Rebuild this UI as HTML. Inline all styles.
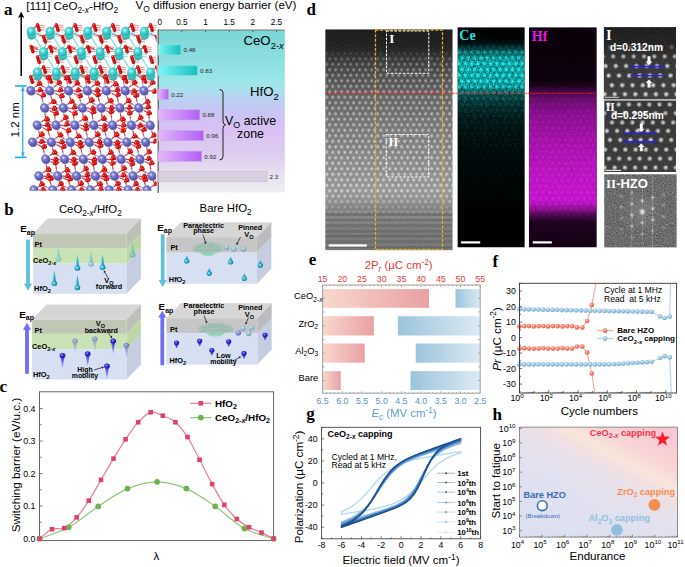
<!DOCTYPE html>
<html><head><meta charset="utf-8"><title>Figure</title>
<style>
html,body{margin:0;padding:0;background:#fff;width:685px;height:567px;overflow:hidden;}
svg{display:block;font-family:"Liberation Sans",sans-serif;}
</style></head><body>
<svg width="685" height="567" viewBox="0 0 685 567">
<defs>
<radialGradient id="gCe" cx="0.4" cy="0.38" r="0.65"><stop offset="0" stop-color="#c8ffff"/><stop offset="0.35" stop-color="#50dcdc"/><stop offset="1" stop-color="#20a8a8"/></radialGradient>
<radialGradient id="gHf" cx="0.4" cy="0.38" r="0.65"><stop offset="0" stop-color="#e8e8ff"/><stop offset="0.35" stop-color="#7c7cd0"/><stop offset="1" stop-color="#5050a8"/></radialGradient>
<radialGradient id="gO" cx="0.4" cy="0.38" r="0.65"><stop offset="0" stop-color="#ff9090"/><stop offset="0.4" stop-color="#e01010"/><stop offset="1" stop-color="#a00000"/></radialGradient>
<clipPath id="clipA"><rect x="25" y="18" width="131.5" height="172.6"/></clipPath>
<linearGradient id="gBarBg" x1="0" y1="0" x2="0" y2="1">
 <stop offset="0" stop-color="#7ad6d6"/>
 <stop offset="0.17" stop-color="#8cdede"/>
 <stop offset="0.3" stop-color="#98e6e8"/>
 <stop offset="0.36" stop-color="#a8e2ec"/>
 <stop offset="0.42" stop-color="#b8d2f2"/>
 <stop offset="0.5" stop-color="#c8c6f4"/>
 <stop offset="0.6" stop-color="#d8c0f4"/>
 <stop offset="0.78" stop-color="#e0cef0"/>
 <stop offset="0.9" stop-color="#e8e2ee"/>
 <stop offset="1" stop-color="#eeeef0"/>
</linearGradient>
<linearGradient id="gCyanBar" x1="0" y1="0" x2="1" y2="0"><stop offset="0" stop-color="#7ff4f4"/><stop offset="1" stop-color="#16c0c0"/></linearGradient>
<linearGradient id="gPurBar" x1="0" y1="0" x2="1" y2="0"><stop offset="0" stop-color="#e4b8f8"/><stop offset="1" stop-color="#b060f4"/></linearGradient>

<radialGradient id="gPin" cx="0.4" cy="0.35" r="0.7"><stop offset="0" stop-color="#d0e8f0"/><stop offset="0.6" stop-color="#8ab8cc"/><stop offset="1" stop-color="#6a9ab0"/></radialGradient>
<radialGradient id="gPinB" cx="0.4" cy="0.35" r="0.7"><stop offset="0" stop-color="#c8c8f8"/><stop offset="0.6" stop-color="#8080e0"/><stop offset="1" stop-color="#6060c0"/></radialGradient>
<radialGradient id="gTealS" cx="0.4" cy="0.4" r="0.6"><stop offset="0" stop-color="#b8ffff"/><stop offset="0.45" stop-color="#30b8cc"/><stop offset="1" stop-color="#107890"/></radialGradient>
<radialGradient id="gBlueS" cx="0.4" cy="0.4" r="0.6"><stop offset="0" stop-color="#a8a8ff"/><stop offset="0.45" stop-color="#3030e0"/><stop offset="1" stop-color="#1010a0"/></radialGradient>
<linearGradient id="gTealC" x1="0" y1="0" x2="1" y2="0"><stop offset="0" stop-color="#80e0f0"/><stop offset="0.5" stop-color="#30b0d0"/><stop offset="1" stop-color="#2090b0"/></linearGradient>
<linearGradient id="gBlueC" x1="0" y1="0" x2="1" y2="0"><stop offset="0" stop-color="#9090ff"/><stop offset="0.5" stop-color="#4040f0"/><stop offset="1" stop-color="#2020c0"/></linearGradient>
<linearGradient id="gBlueC2" x1="0" y1="0" x2="0" y2="1"><stop offset="0" stop-color="#3030e0"/><stop offset="1" stop-color="#8080ff" stop-opacity="0.6"/></linearGradient>

<clipPath id="cStem"><rect x="325.2" y="29.3" width="127.5" height="221"/></clipPath>
<clipPath id="cCe"><rect x="457.4" y="27.2" width="67.4" height="220.3"/></clipPath>
<clipPath id="cHf"><rect x="528.9" y="27.2" width="67.9" height="220.3"/></clipPath>
<clipPath id="cI"><rect x="603.7" y="27.1" width="72.3" height="72.3"/></clipPath>
<clipPath id="cII"><rect x="604.2" y="100.6" width="71.8" height="71.4"/></clipPath>
<clipPath id="cFFT"><rect x="604.2" y="174.2" width="72.5" height="73.3"/></clipPath>
<radialGradient id="gDot"><stop offset="0" stop-color="#fff" stop-opacity="0.95"/><stop offset="0.45" stop-color="#fff" stop-opacity="0.55"/><stop offset="1" stop-color="#fff" stop-opacity="0"/></radialGradient>
<radialGradient id="gDotC"><stop offset="0" stop-color="#60ffff" stop-opacity="1"/><stop offset="0.5" stop-color="#20f0f0" stop-opacity="0.7"/><stop offset="1" stop-color="#00e0e0" stop-opacity="0"/></radialGradient>
<radialGradient id="gDotM"><stop offset="0" stop-color="#ff40ff" stop-opacity="1"/><stop offset="0.5" stop-color="#e020e0" stop-opacity="0.6"/><stop offset="1" stop-color="#c000c0" stop-opacity="0"/></radialGradient>
<pattern id="pStem" x="325.2" y="50.5" width="6.0" height="11.0" patternUnits="userSpaceOnUse">
 <circle cx="1.5" cy="2.75" r="2.2" fill="url(#gDot)"/><circle cx="4.5" cy="8.25" r="2.2" fill="url(#gDot)"/>
</pattern>
<pattern id="pCe" x="457.4" y="49" width="6.3" height="11.7" patternUnits="userSpaceOnUse">
 <circle cx="1.6" cy="2.9" r="2.6" fill="url(#gDotC)"/><circle cx="4.75" cy="8.75" r="2.6" fill="url(#gDotC)"/>
</pattern>
<pattern id="pHf" x="528.9" y="49" width="6.3" height="11.7" patternUnits="userSpaceOnUse">
 <circle cx="1.6" cy="2.9" r="2.6" fill="url(#gDotM)"/><circle cx="4.75" cy="8.75" r="2.6" fill="url(#gDotM)"/>
</pattern>
<linearGradient id="gStemBase" x1="0" y1="0" x2="0" y2="1">
 <stop offset="0" stop-color="#101010"/>
 <stop offset="0.071" stop-color="#141414"/>
 <stop offset="0.103" stop-color="#1e1e1e"/>
 <stop offset="0.139" stop-color="#303030"/>
 <stop offset="0.207" stop-color="#484848"/>
 <stop offset="0.298" stop-color="#606060"/>
 <stop offset="0.457" stop-color="#7a7a7a"/>
 <stop offset="0.615" stop-color="#8e8e8e"/>
 <stop offset="0.728" stop-color="#9c9c9c"/>
 <stop offset="0.774" stop-color="#959595"/>
 <stop offset="0.81" stop-color="#828282"/>
 <stop offset="0.864" stop-color="#767676"/>
 <stop offset="1" stop-color="#727272"/>
</linearGradient>
<linearGradient id="gStemDotMask" x1="0" y1="0" x2="0" y2="1">
 <stop offset="0" stop-color="#000"/>
 <stop offset="0.09" stop-color="#000"/>
 <stop offset="0.12" stop-color="#404040"/>
 <stop offset="0.16" stop-color="#808080"/>
 <stop offset="0.22" stop-color="#a6a6a6"/>
 <stop offset="0.4" stop-color="#bfbfbf"/>
 <stop offset="0.6" stop-color="#d9d9d9"/>
 <stop offset="0.73" stop-color="#e6e6e6"/>
 <stop offset="0.77" stop-color="#a0a0a0"/>
 <stop offset="0.81" stop-color="#505050"/>
 <stop offset="0.85" stop-color="#181818"/>
 <stop offset="0.88" stop-color="#000"/>
 <stop offset="1" stop-color="#000"/>
</linearGradient>
<mask id="mStemDots" maskUnits="userSpaceOnUse" x="325.2" y="29.3" width="127.5" height="221"><rect x="325.2" y="29.3" width="127.5" height="221" fill="url(#gStemDotMask)"/></mask>
<linearGradient id="gCeMask" x1="0" y1="0" x2="0" y2="1">
 <stop offset="0" stop-color="#000"/>
 <stop offset="0.056" stop-color="#080808"/>
 <stop offset="0.083" stop-color="#303030"/>
 <stop offset="0.11" stop-color="#999"/>
 <stop offset="0.138" stop-color="#e6e6e6"/>
 <stop offset="0.16" stop-color="#fff"/>
 <stop offset="0.26" stop-color="#fff"/>
 <stop offset="0.284" stop-color="#c0c0c0"/>
 <stop offset="0.306" stop-color="#777"/>
 <stop offset="0.352" stop-color="#444"/>
 <stop offset="0.42" stop-color="#222"/>
 <stop offset="0.556" stop-color="#0e0e0e"/>
 <stop offset="0.785" stop-color="#050505"/>
 <stop offset="0.83" stop-color="#000"/>
 <stop offset="1" stop-color="#000"/>
</linearGradient>
<linearGradient id="gCeLow" x1="0" y1="0" x2="0" y2="1"><stop offset="0" stop-color="#fff"/><stop offset="0.25" stop-color="#888"/><stop offset="0.5" stop-color="#444"/><stop offset="0.75" stop-color="#222"/><stop offset="1" stop-color="#000"/></linearGradient>
<mask id="mCeLow" maskUnits="userSpaceOnUse" x="457.4" y="90" width="67.4" height="130"><rect x="457.4" y="90" width="67.4" height="130" fill="url(#gCeLow)"/></mask>
<mask id="mCe" maskUnits="userSpaceOnUse" x="457.4" y="27.2" width="67.4" height="220.3"><rect x="457.4" y="27.2" width="67.4" height="220.3" fill="url(#gCeMask)"/></mask>
<linearGradient id="gHfMask" x1="0" y1="0" x2="0" y2="1">
 <stop offset="0" stop-color="#0c0c0c"/>
 <stop offset="0.238" stop-color="#101010"/>
 <stop offset="0.265" stop-color="#262626"/>
 <stop offset="0.298" stop-color="#606060"/>
 <stop offset="0.33" stop-color="#8c8c8c"/>
 <stop offset="0.4" stop-color="#b4b4b4"/>
 <stop offset="0.51" stop-color="#d4d4d4"/>
 <stop offset="0.65" stop-color="#f0f0f0"/>
 <stop offset="0.784" stop-color="#fff"/>
 <stop offset="0.82" stop-color="#c8c8c8"/>
 <stop offset="0.852" stop-color="#666"/>
 <stop offset="0.884" stop-color="#282828"/>
 <stop offset="1" stop-color="#161616"/>
</linearGradient>
<mask id="mHf" maskUnits="userSpaceOnUse" x="528.9" y="27.2" width="67.9" height="220.3"><rect x="528.9" y="27.2" width="67.9" height="220.3" fill="url(#gHfMask)"/></mask>
<filter id="fNoise" x="0" y="0" width="1" height="1" color-interpolation-filters="sRGB">
 <feTurbulence type="fractalNoise" baseFrequency="0.75" numOctaves="2" seed="4" result="n"/>
 <feColorMatrix in="n" type="matrix" values="0 0 0 0 0  0 0 0 0 0  0 0 0 0 0  1.8 0 0 0 -0.45" result="a"/>
 <feComposite in="SourceGraphic" in2="a" operator="in"/>
</filter>
<filter id="fSparse" x="0" y="0" width="1" height="1" color-interpolation-filters="sRGB">
 <feTurbulence type="fractalNoise" baseFrequency="0.9" numOctaves="1" seed="9" result="n"/>
 <feColorMatrix in="n" type="matrix" values="0 0 0 0 0  0 0 0 0 0  0 0 0 0 0  5 0 0 0 -2.9" result="a"/>
 <feComposite in="SourceGraphic" in2="a" operator="in"/>
</filter>
<filter id="fNoiseG" x="0" y="0" width="1" height="1" color-interpolation-filters="sRGB">
 <feTurbulence type="fractalNoise" baseFrequency="0.9" numOctaves="2" seed="7" result="n"/>
 <feColorMatrix in="n" type="matrix" values="1 0 0 0 0  1 0 0 0 0  1 0 0 0 0  0 0 0 0 1"/>
</filter>
<filter id="fBlur05"><feGaussianBlur stdDeviation="0.5"/></filter>
<filter id="fBlur1" x="-0.5" y="-0.5" width="2" height="2"><feGaussianBlur stdDeviation="0.9"/></filter>

<linearGradient id="gRedBar" x1="0" y1="0" x2="1" y2="0"><stop offset="0" stop-color="#f8d8cc"/><stop offset="1" stop-color="#e8a0a4"/></linearGradient>
<linearGradient id="gBlueBar" x1="0" y1="0" x2="1" y2="0"><stop offset="0" stop-color="#9cc4dc"/><stop offset="1" stop-color="#dceaf4"/></linearGradient>

<radialGradient id="gRC" cx="0.4" cy="0.35" r="0.65"><stop offset="0" stop-color="#ffd0c8"/><stop offset="0.5" stop-color="#f08070"/><stop offset="1" stop-color="#e06050"/></radialGradient>
<radialGradient id="gBC" cx="0.4" cy="0.35" r="0.65"><stop offset="0" stop-color="#e0f0fa"/><stop offset="0.5" stop-color="#98c4e0"/><stop offset="1" stop-color="#78acd0"/></radialGradient>

<linearGradient id="gH" gradientUnits="userSpaceOnUse" x1="519.5" y1="537.1" x2="602.7" y2="385.9">
 <stop offset="0" stop-color="#dae0f2"/>
 <stop offset="0.4" stop-color="#e1e1ef"/>
 <stop offset="0.55" stop-color="#e8e0ea"/>
 <stop offset="0.62" stop-color="#f1e0e2"/>
 <stop offset="0.68" stop-color="#f8e6da"/>
 <stop offset="0.75" stop-color="#f8d9d8"/>
 <stop offset="0.85" stop-color="#f8cdd4"/>
 <stop offset="1" stop-color="#f8c4d0"/>
</linearGradient>
</defs>
<rect width="685" height="567" fill="#fff"/>
<text x="4" y="14.8" font-size="17" font-weight="bold" font-family="Liberation Serif">a</text>
<text x="26.3" y="9.9" font-size="11.6"><tspan>[111] CeO</tspan><tspan dy="3.25" font-size="8.35">2-</tspan><tspan font-size="8.35" font-style="italic">x</tspan><tspan dy="-3.25">-HfO</tspan><tspan dy="3.25" font-size="8.35">2</tspan></text>
<line x1="21.2" y1="76" x2="21.2" y2="16" stroke="#000" stroke-width="1.5"/>
<path d="M21.2 11.5 L18 18 L21.2 16.5 L24.4 18 Z" fill="#000"/>
<g stroke="#1aaee6" fill="#1aaee6"><line x1="22.8" y1="87" x2="22.8" y2="156.4" stroke-width="1.2"/><line x1="15" y1="86" x2="26.6" y2="86" stroke-width="1.6"/><line x1="15" y1="157.4" x2="26.6" y2="157.4" stroke-width="1.6"/><path d="M22.8 87 L21 91 L24.6 91Z" stroke="none"/><path d="M22.8 156.4 L21 152.4 L24.6 152.4Z" stroke="none"/></g>
<text x="18.6" y="119.7" font-size="11.4" text-anchor="middle" transform="rotate(-90 18.6 119.7)">1.2 nm</text>
<g clip-path="url(#clipA)">
<g stroke-width="1.2" stroke-linecap="round">
<line x1="31.2" y1="31.2" x2="43.5" y2="51.7" stroke="#88e0e0" stroke-width="1.3"/>
<line x1="50.05" y1="31.2" x2="43.5" y2="51.7" stroke="#88e0e0" stroke-width="1.3"/>
<line x1="50.05" y1="31.2" x2="62.35" y2="51.7" stroke="#88e0e0" stroke-width="1.3"/>
<line x1="68.9" y1="31.2" x2="62.35" y2="51.7" stroke="#88e0e0" stroke-width="1.3"/>
<line x1="68.9" y1="31.2" x2="81.2" y2="51.7" stroke="#88e0e0" stroke-width="1.3"/>
<line x1="87.75" y1="31.2" x2="81.2" y2="51.7" stroke="#88e0e0" stroke-width="1.3"/>
<line x1="87.75" y1="31.2" x2="100.05" y2="51.7" stroke="#88e0e0" stroke-width="1.3"/>
<line x1="106.6" y1="31.2" x2="100.05" y2="51.7" stroke="#88e0e0" stroke-width="1.3"/>
<line x1="106.6" y1="31.2" x2="118.9" y2="51.7" stroke="#88e0e0" stroke-width="1.3"/>
<line x1="125.45" y1="31.2" x2="118.9" y2="51.7" stroke="#88e0e0" stroke-width="1.3"/>
<line x1="125.45" y1="31.2" x2="137.75" y2="51.7" stroke="#88e0e0" stroke-width="1.3"/>
<line x1="144.3" y1="31.2" x2="137.75" y2="51.7" stroke="#88e0e0" stroke-width="1.3"/>
<line x1="43.5" y1="51.7" x2="37.4" y2="72.1" stroke="#88e0e0" stroke-width="1.3"/>
<line x1="43.5" y1="51.7" x2="56.25" y2="72.1" stroke="#88e0e0" stroke-width="1.3"/>
<line x1="62.35" y1="51.7" x2="56.25" y2="72.1" stroke="#88e0e0" stroke-width="1.3"/>
<line x1="62.35" y1="51.7" x2="75.1" y2="72.1" stroke="#88e0e0" stroke-width="1.3"/>
<line x1="81.2" y1="51.7" x2="75.1" y2="72.1" stroke="#88e0e0" stroke-width="1.3"/>
<line x1="81.2" y1="51.7" x2="93.95" y2="72.1" stroke="#88e0e0" stroke-width="1.3"/>
<line x1="100.05" y1="51.7" x2="93.95" y2="72.1" stroke="#88e0e0" stroke-width="1.3"/>
<line x1="100.05" y1="51.7" x2="112.8" y2="72.1" stroke="#88e0e0" stroke-width="1.3"/>
<line x1="118.9" y1="51.7" x2="112.8" y2="72.1" stroke="#88e0e0" stroke-width="1.3"/>
<line x1="118.9" y1="51.7" x2="131.65" y2="72.1" stroke="#88e0e0" stroke-width="1.3"/>
<line x1="137.75" y1="51.7" x2="131.65" y2="72.1" stroke="#88e0e0" stroke-width="1.3"/>
<line x1="137.75" y1="51.7" x2="150.5" y2="72.1" stroke="#88e0e0" stroke-width="1.3"/>
<line x1="31.2" y1="31.2" x2="34.3" y2="28" stroke="#70d4d4"/>
<line x1="34.3" y1="28" x2="37.4" y2="24.8" stroke="#e64040"/>
<line x1="50.05" y1="31.2" x2="53.15" y2="28" stroke="#70d4d4"/>
<line x1="53.15" y1="28" x2="56.25" y2="24.8" stroke="#e64040"/>
<line x1="68.9" y1="31.2" x2="72" y2="28" stroke="#70d4d4"/>
<line x1="72" y1="28" x2="75.1" y2="24.8" stroke="#e64040"/>
<line x1="87.75" y1="31.2" x2="90.85" y2="28" stroke="#70d4d4"/>
<line x1="90.85" y1="28" x2="93.95" y2="24.8" stroke="#e64040"/>
<line x1="106.6" y1="31.2" x2="109.7" y2="28" stroke="#70d4d4"/>
<line x1="109.7" y1="28" x2="112.8" y2="24.8" stroke="#e64040"/>
<line x1="125.45" y1="31.2" x2="128.55" y2="28" stroke="#70d4d4"/>
<line x1="128.55" y1="28" x2="131.65" y2="24.8" stroke="#e64040"/>
<line x1="144.3" y1="31.2" x2="147.4" y2="28" stroke="#70d4d4"/>
<line x1="147.4" y1="28" x2="150.5" y2="24.8" stroke="#e64040"/>
<line x1="31.2" y1="31.2" x2="37.35" y2="33.87" stroke="#70d4d4"/>
<line x1="37.35" y1="33.87" x2="43.5" y2="36.53" stroke="#e64040"/>
<line x1="50.05" y1="31.2" x2="46.77" y2="33.87" stroke="#70d4d4"/>
<line x1="46.77" y1="33.87" x2="43.5" y2="36.53" stroke="#e64040"/>
<line x1="50.05" y1="31.2" x2="56.2" y2="33.87" stroke="#70d4d4"/>
<line x1="56.2" y1="33.87" x2="62.35" y2="36.53" stroke="#e64040"/>
<line x1="68.9" y1="31.2" x2="65.62" y2="33.87" stroke="#70d4d4"/>
<line x1="65.62" y1="33.87" x2="62.35" y2="36.53" stroke="#e64040"/>
<line x1="68.9" y1="31.2" x2="75.05" y2="33.87" stroke="#70d4d4"/>
<line x1="75.05" y1="33.87" x2="81.2" y2="36.53" stroke="#e64040"/>
<line x1="87.75" y1="31.2" x2="84.47" y2="33.87" stroke="#70d4d4"/>
<line x1="84.47" y1="33.87" x2="81.2" y2="36.53" stroke="#e64040"/>
<line x1="87.75" y1="31.2" x2="93.9" y2="33.87" stroke="#70d4d4"/>
<line x1="93.9" y1="33.87" x2="100.05" y2="36.53" stroke="#e64040"/>
<line x1="106.6" y1="31.2" x2="103.33" y2="33.87" stroke="#70d4d4"/>
<line x1="103.33" y1="33.87" x2="100.05" y2="36.53" stroke="#e64040"/>
<line x1="106.6" y1="31.2" x2="112.75" y2="33.87" stroke="#70d4d4"/>
<line x1="112.75" y1="33.87" x2="118.9" y2="36.53" stroke="#e64040"/>
<line x1="125.45" y1="31.2" x2="122.17" y2="33.87" stroke="#70d4d4"/>
<line x1="122.17" y1="33.87" x2="118.9" y2="36.53" stroke="#e64040"/>
<line x1="125.45" y1="31.2" x2="131.6" y2="33.87" stroke="#70d4d4"/>
<line x1="131.6" y1="33.87" x2="137.75" y2="36.53" stroke="#e64040"/>
<line x1="144.3" y1="31.2" x2="141.02" y2="33.87" stroke="#70d4d4"/>
<line x1="141.02" y1="33.87" x2="137.75" y2="36.53" stroke="#e64040"/>
<line x1="144.3" y1="31.2" x2="150.45" y2="33.87" stroke="#70d4d4"/>
<line x1="150.45" y1="33.87" x2="156.6" y2="36.53" stroke="#e64040"/>
<line x1="43.5" y1="51.7" x2="37.35" y2="49.04" stroke="#70d4d4"/>
<line x1="37.35" y1="49.04" x2="31.2" y2="46.37" stroke="#e64040"/>
<line x1="43.5" y1="51.7" x2="46.77" y2="49.04" stroke="#70d4d4"/>
<line x1="46.77" y1="49.04" x2="50.05" y2="46.37" stroke="#e64040"/>
<line x1="62.35" y1="51.7" x2="56.2" y2="49.04" stroke="#70d4d4"/>
<line x1="56.2" y1="49.04" x2="50.05" y2="46.37" stroke="#e64040"/>
<line x1="62.35" y1="51.7" x2="65.62" y2="49.04" stroke="#70d4d4"/>
<line x1="65.62" y1="49.04" x2="68.9" y2="46.37" stroke="#e64040"/>
<line x1="81.2" y1="51.7" x2="75.05" y2="49.04" stroke="#70d4d4"/>
<line x1="75.05" y1="49.04" x2="68.9" y2="46.37" stroke="#e64040"/>
<line x1="81.2" y1="51.7" x2="84.47" y2="49.04" stroke="#70d4d4"/>
<line x1="84.47" y1="49.04" x2="87.75" y2="46.37" stroke="#e64040"/>
<line x1="100.05" y1="51.7" x2="93.9" y2="49.04" stroke="#70d4d4"/>
<line x1="93.9" y1="49.04" x2="87.75" y2="46.37" stroke="#e64040"/>
<line x1="100.05" y1="51.7" x2="103.33" y2="49.04" stroke="#70d4d4"/>
<line x1="103.33" y1="49.04" x2="106.6" y2="46.37" stroke="#e64040"/>
<line x1="118.9" y1="51.7" x2="112.75" y2="49.04" stroke="#70d4d4"/>
<line x1="112.75" y1="49.04" x2="106.6" y2="46.37" stroke="#e64040"/>
<line x1="118.9" y1="51.7" x2="122.17" y2="49.04" stroke="#70d4d4"/>
<line x1="122.17" y1="49.04" x2="125.45" y2="46.37" stroke="#e64040"/>
<line x1="137.75" y1="51.7" x2="131.6" y2="49.04" stroke="#70d4d4"/>
<line x1="131.6" y1="49.04" x2="125.45" y2="46.37" stroke="#e64040"/>
<line x1="137.75" y1="51.7" x2="141.02" y2="49.04" stroke="#70d4d4"/>
<line x1="141.02" y1="49.04" x2="144.3" y2="46.37" stroke="#e64040"/>
<line x1="43.5" y1="51.7" x2="40.45" y2="54.35" stroke="#70d4d4"/>
<line x1="40.45" y1="54.35" x2="37.4" y2="57" stroke="#e64040"/>
<line x1="62.35" y1="51.7" x2="59.3" y2="54.35" stroke="#70d4d4"/>
<line x1="59.3" y1="54.35" x2="56.25" y2="57" stroke="#e64040"/>
<line x1="81.2" y1="51.7" x2="78.15" y2="54.35" stroke="#70d4d4"/>
<line x1="78.15" y1="54.35" x2="75.1" y2="57" stroke="#e64040"/>
<line x1="100.05" y1="51.7" x2="97" y2="54.35" stroke="#70d4d4"/>
<line x1="97" y1="54.35" x2="93.95" y2="57" stroke="#e64040"/>
<line x1="118.9" y1="51.7" x2="115.85" y2="54.35" stroke="#70d4d4"/>
<line x1="115.85" y1="54.35" x2="112.8" y2="57" stroke="#e64040"/>
<line x1="137.75" y1="51.7" x2="134.7" y2="54.35" stroke="#70d4d4"/>
<line x1="134.7" y1="54.35" x2="131.65" y2="57" stroke="#e64040"/>
<line x1="37.4" y1="72.1" x2="40.45" y2="69.45" stroke="#70d4d4"/>
<line x1="40.45" y1="69.45" x2="43.5" y2="66.8" stroke="#e64040"/>
<line x1="56.25" y1="72.1" x2="59.3" y2="69.45" stroke="#70d4d4"/>
<line x1="59.3" y1="69.45" x2="62.35" y2="66.8" stroke="#e64040"/>
<line x1="75.1" y1="72.1" x2="78.15" y2="69.45" stroke="#70d4d4"/>
<line x1="78.15" y1="69.45" x2="81.2" y2="66.8" stroke="#e64040"/>
<line x1="93.95" y1="72.1" x2="97" y2="69.45" stroke="#70d4d4"/>
<line x1="97" y1="69.45" x2="100.05" y2="66.8" stroke="#e64040"/>
<line x1="112.8" y1="72.1" x2="115.85" y2="69.45" stroke="#70d4d4"/>
<line x1="115.85" y1="69.45" x2="118.9" y2="66.8" stroke="#e64040"/>
<line x1="131.65" y1="72.1" x2="134.7" y2="69.45" stroke="#70d4d4"/>
<line x1="134.7" y1="69.45" x2="137.75" y2="66.8" stroke="#e64040"/>
<line x1="150.5" y1="72.1" x2="153.55" y2="69.45" stroke="#70d4d4"/>
<line x1="153.55" y1="69.45" x2="156.6" y2="66.8" stroke="#e64040"/>
<line x1="37.4" y1="72.1" x2="34" y2="74.45" stroke="#70d4d4"/>
<line x1="34" y1="74.45" x2="30.6" y2="76.81" stroke="#e64040"/>
<line x1="37.4" y1="72.1" x2="43.42" y2="74.45" stroke="#70d4d4"/>
<line x1="43.42" y1="74.45" x2="49.45" y2="76.81" stroke="#e64040"/>
<line x1="56.25" y1="72.1" x2="52.85" y2="74.45" stroke="#70d4d4"/>
<line x1="52.85" y1="74.45" x2="49.45" y2="76.81" stroke="#e64040"/>
<line x1="56.25" y1="72.1" x2="62.28" y2="74.45" stroke="#70d4d4"/>
<line x1="62.28" y1="74.45" x2="68.3" y2="76.81" stroke="#e64040"/>
<line x1="75.1" y1="72.1" x2="71.7" y2="74.45" stroke="#70d4d4"/>
<line x1="71.7" y1="74.45" x2="68.3" y2="76.81" stroke="#e64040"/>
<line x1="75.1" y1="72.1" x2="81.12" y2="74.45" stroke="#70d4d4"/>
<line x1="81.12" y1="74.45" x2="87.15" y2="76.81" stroke="#e64040"/>
<line x1="93.95" y1="72.1" x2="90.55" y2="74.45" stroke="#70d4d4"/>
<line x1="90.55" y1="74.45" x2="87.15" y2="76.81" stroke="#e64040"/>
<line x1="93.95" y1="72.1" x2="99.97" y2="74.45" stroke="#70d4d4"/>
<line x1="99.97" y1="74.45" x2="106" y2="76.81" stroke="#e64040"/>
<line x1="112.8" y1="72.1" x2="109.4" y2="74.45" stroke="#70d4d4"/>
<line x1="109.4" y1="74.45" x2="106" y2="76.81" stroke="#e64040"/>
<line x1="112.8" y1="72.1" x2="118.82" y2="74.45" stroke="#70d4d4"/>
<line x1="118.82" y1="74.45" x2="124.85" y2="76.81" stroke="#e64040"/>
<line x1="131.65" y1="72.1" x2="128.25" y2="74.45" stroke="#70d4d4"/>
<line x1="128.25" y1="74.45" x2="124.85" y2="76.81" stroke="#e64040"/>
<line x1="131.65" y1="72.1" x2="137.67" y2="74.45" stroke="#70d4d4"/>
<line x1="137.67" y1="74.45" x2="143.7" y2="76.81" stroke="#e64040"/>
<line x1="150.5" y1="72.1" x2="147.1" y2="74.45" stroke="#70d4d4"/>
<line x1="147.1" y1="74.45" x2="143.7" y2="76.81" stroke="#e64040"/>
<line x1="37.4" y1="72.1" x2="38.28" y2="78.13" stroke="#70d4d4"/>
<line x1="38.28" y1="78.13" x2="39.15" y2="84.17" stroke="#e64040"/>
<line x1="30.6" y1="90.2" x2="35.73" y2="86.58" stroke="#a4a4e0"/>
<line x1="35.73" y1="86.58" x2="39.15" y2="84.17" stroke="#e64040"/>
<line x1="49.45" y1="90.2" x2="43.27" y2="86.58" stroke="#a4a4e0"/>
<line x1="43.27" y1="86.58" x2="39.15" y2="84.17" stroke="#e64040"/>
<line x1="37.4" y1="72.1" x2="42.55" y2="75.12" stroke="#70d4d4"/>
<line x1="42.55" y1="75.12" x2="47.7" y2="78.13" stroke="#e64040"/>
<line x1="56.25" y1="72.1" x2="51.98" y2="75.12" stroke="#70d4d4"/>
<line x1="51.98" y1="75.12" x2="47.7" y2="78.13" stroke="#e64040"/>
<line x1="49.45" y1="90.2" x2="48.4" y2="82.96" stroke="#a4a4e0"/>
<line x1="48.4" y1="82.96" x2="47.7" y2="78.13" stroke="#e64040"/>
<line x1="56.25" y1="72.1" x2="57.12" y2="78.13" stroke="#70d4d4"/>
<line x1="57.12" y1="78.13" x2="58" y2="84.17" stroke="#e64040"/>
<line x1="49.45" y1="90.2" x2="54.58" y2="86.58" stroke="#a4a4e0"/>
<line x1="54.58" y1="86.58" x2="58" y2="84.17" stroke="#e64040"/>
<line x1="68.3" y1="90.2" x2="62.12" y2="86.58" stroke="#a4a4e0"/>
<line x1="62.12" y1="86.58" x2="58" y2="84.17" stroke="#e64040"/>
<line x1="56.25" y1="72.1" x2="61.4" y2="75.12" stroke="#70d4d4"/>
<line x1="61.4" y1="75.12" x2="66.55" y2="78.13" stroke="#e64040"/>
<line x1="75.1" y1="72.1" x2="70.82" y2="75.12" stroke="#70d4d4"/>
<line x1="70.82" y1="75.12" x2="66.55" y2="78.13" stroke="#e64040"/>
<line x1="68.3" y1="90.2" x2="67.25" y2="82.96" stroke="#a4a4e0"/>
<line x1="67.25" y1="82.96" x2="66.55" y2="78.13" stroke="#e64040"/>
<line x1="75.1" y1="72.1" x2="75.97" y2="78.13" stroke="#70d4d4"/>
<line x1="75.97" y1="78.13" x2="76.85" y2="84.17" stroke="#e64040"/>
<line x1="68.3" y1="90.2" x2="73.43" y2="86.58" stroke="#a4a4e0"/>
<line x1="73.43" y1="86.58" x2="76.85" y2="84.17" stroke="#e64040"/>
<line x1="87.15" y1="90.2" x2="80.97" y2="86.58" stroke="#a4a4e0"/>
<line x1="80.97" y1="86.58" x2="76.85" y2="84.17" stroke="#e64040"/>
<line x1="75.1" y1="72.1" x2="80.25" y2="75.12" stroke="#70d4d4"/>
<line x1="80.25" y1="75.12" x2="85.4" y2="78.13" stroke="#e64040"/>
<line x1="93.95" y1="72.1" x2="89.67" y2="75.12" stroke="#70d4d4"/>
<line x1="89.67" y1="75.12" x2="85.4" y2="78.13" stroke="#e64040"/>
<line x1="87.15" y1="90.2" x2="86.1" y2="82.96" stroke="#a4a4e0"/>
<line x1="86.1" y1="82.96" x2="85.4" y2="78.13" stroke="#e64040"/>
<line x1="93.95" y1="72.1" x2="94.82" y2="78.13" stroke="#70d4d4"/>
<line x1="94.82" y1="78.13" x2="95.7" y2="84.17" stroke="#e64040"/>
<line x1="87.15" y1="90.2" x2="92.28" y2="86.58" stroke="#a4a4e0"/>
<line x1="92.28" y1="86.58" x2="95.7" y2="84.17" stroke="#e64040"/>
<line x1="106" y1="90.2" x2="99.82" y2="86.58" stroke="#a4a4e0"/>
<line x1="99.82" y1="86.58" x2="95.7" y2="84.17" stroke="#e64040"/>
<line x1="93.95" y1="72.1" x2="99.1" y2="75.12" stroke="#70d4d4"/>
<line x1="99.1" y1="75.12" x2="104.25" y2="78.13" stroke="#e64040"/>
<line x1="112.8" y1="72.1" x2="108.52" y2="75.12" stroke="#70d4d4"/>
<line x1="108.52" y1="75.12" x2="104.25" y2="78.13" stroke="#e64040"/>
<line x1="106" y1="90.2" x2="104.95" y2="82.96" stroke="#a4a4e0"/>
<line x1="104.95" y1="82.96" x2="104.25" y2="78.13" stroke="#e64040"/>
<line x1="112.8" y1="72.1" x2="113.67" y2="78.13" stroke="#70d4d4"/>
<line x1="113.67" y1="78.13" x2="114.55" y2="84.17" stroke="#e64040"/>
<line x1="106" y1="90.2" x2="111.13" y2="86.58" stroke="#a4a4e0"/>
<line x1="111.13" y1="86.58" x2="114.55" y2="84.17" stroke="#e64040"/>
<line x1="124.85" y1="90.2" x2="118.67" y2="86.58" stroke="#a4a4e0"/>
<line x1="118.67" y1="86.58" x2="114.55" y2="84.17" stroke="#e64040"/>
<line x1="112.8" y1="72.1" x2="117.95" y2="75.12" stroke="#70d4d4"/>
<line x1="117.95" y1="75.12" x2="123.1" y2="78.13" stroke="#e64040"/>
<line x1="131.65" y1="72.1" x2="127.37" y2="75.12" stroke="#70d4d4"/>
<line x1="127.37" y1="75.12" x2="123.1" y2="78.13" stroke="#e64040"/>
<line x1="124.85" y1="90.2" x2="123.8" y2="82.96" stroke="#a4a4e0"/>
<line x1="123.8" y1="82.96" x2="123.1" y2="78.13" stroke="#e64040"/>
<line x1="131.65" y1="72.1" x2="132.52" y2="78.13" stroke="#70d4d4"/>
<line x1="132.52" y1="78.13" x2="133.4" y2="84.17" stroke="#e64040"/>
<line x1="124.85" y1="90.2" x2="129.98" y2="86.58" stroke="#a4a4e0"/>
<line x1="129.98" y1="86.58" x2="133.4" y2="84.17" stroke="#e64040"/>
<line x1="143.7" y1="90.2" x2="137.52" y2="86.58" stroke="#a4a4e0"/>
<line x1="137.52" y1="86.58" x2="133.4" y2="84.17" stroke="#e64040"/>
<line x1="131.65" y1="72.1" x2="136.8" y2="75.12" stroke="#70d4d4"/>
<line x1="136.8" y1="75.12" x2="141.95" y2="78.13" stroke="#e64040"/>
<line x1="150.5" y1="72.1" x2="146.22" y2="75.12" stroke="#70d4d4"/>
<line x1="146.22" y1="75.12" x2="141.95" y2="78.13" stroke="#e64040"/>
<line x1="143.7" y1="90.2" x2="142.65" y2="82.96" stroke="#a4a4e0"/>
<line x1="142.65" y1="82.96" x2="141.95" y2="78.13" stroke="#e64040"/>
<line x1="150.5" y1="72.1" x2="151.38" y2="78.13" stroke="#70d4d4"/>
<line x1="151.38" y1="78.13" x2="152.25" y2="84.17" stroke="#e64040"/>
<line x1="143.7" y1="90.2" x2="148.83" y2="86.58" stroke="#a4a4e0"/>
<line x1="148.83" y1="86.58" x2="152.25" y2="84.17" stroke="#e64040"/>
<line x1="30.6" y1="90.2" x2="37.11" y2="93.66" stroke="#a4a4e0"/>
<line x1="37.11" y1="93.66" x2="41.45" y2="95.97" stroke="#e64040"/>
<line x1="49.45" y1="90.2" x2="44.65" y2="93.66" stroke="#a4a4e0"/>
<line x1="44.65" y1="93.66" x2="41.45" y2="95.97" stroke="#e64040"/>
<line x1="44.3" y1="107.5" x2="42.59" y2="100.58" stroke="#a4a4e0"/>
<line x1="42.59" y1="100.58" x2="41.45" y2="95.97" stroke="#e64040"/>
<line x1="49.45" y1="90.2" x2="51.16" y2="97.12" stroke="#a4a4e0"/>
<line x1="51.16" y1="97.12" x2="52.3" y2="101.73" stroke="#e64040"/>
<line x1="44.3" y1="107.5" x2="49.1" y2="104.04" stroke="#a4a4e0"/>
<line x1="49.1" y1="104.04" x2="52.3" y2="101.73" stroke="#e64040"/>
<line x1="63.15" y1="107.5" x2="56.64" y2="104.04" stroke="#a4a4e0"/>
<line x1="56.64" y1="104.04" x2="52.3" y2="101.73" stroke="#e64040"/>
<line x1="49.45" y1="90.2" x2="55.96" y2="93.66" stroke="#a4a4e0"/>
<line x1="55.96" y1="93.66" x2="60.3" y2="95.97" stroke="#e64040"/>
<line x1="68.3" y1="90.2" x2="63.5" y2="93.66" stroke="#a4a4e0"/>
<line x1="63.5" y1="93.66" x2="60.3" y2="95.97" stroke="#e64040"/>
<line x1="63.15" y1="107.5" x2="61.44" y2="100.58" stroke="#a4a4e0"/>
<line x1="61.44" y1="100.58" x2="60.3" y2="95.97" stroke="#e64040"/>
<line x1="68.3" y1="90.2" x2="70.01" y2="97.12" stroke="#a4a4e0"/>
<line x1="70.01" y1="97.12" x2="71.15" y2="101.73" stroke="#e64040"/>
<line x1="63.15" y1="107.5" x2="67.95" y2="104.04" stroke="#a4a4e0"/>
<line x1="67.95" y1="104.04" x2="71.15" y2="101.73" stroke="#e64040"/>
<line x1="82" y1="107.5" x2="75.49" y2="104.04" stroke="#a4a4e0"/>
<line x1="75.49" y1="104.04" x2="71.15" y2="101.73" stroke="#e64040"/>
<line x1="68.3" y1="90.2" x2="74.81" y2="93.66" stroke="#a4a4e0"/>
<line x1="74.81" y1="93.66" x2="79.15" y2="95.97" stroke="#e64040"/>
<line x1="87.15" y1="90.2" x2="82.35" y2="93.66" stroke="#a4a4e0"/>
<line x1="82.35" y1="93.66" x2="79.15" y2="95.97" stroke="#e64040"/>
<line x1="82" y1="107.5" x2="80.29" y2="100.58" stroke="#a4a4e0"/>
<line x1="80.29" y1="100.58" x2="79.15" y2="95.97" stroke="#e64040"/>
<line x1="87.15" y1="90.2" x2="88.86" y2="97.12" stroke="#a4a4e0"/>
<line x1="88.86" y1="97.12" x2="90" y2="101.73" stroke="#e64040"/>
<line x1="82" y1="107.5" x2="86.8" y2="104.04" stroke="#a4a4e0"/>
<line x1="86.8" y1="104.04" x2="90" y2="101.73" stroke="#e64040"/>
<line x1="100.85" y1="107.5" x2="94.34" y2="104.04" stroke="#a4a4e0"/>
<line x1="94.34" y1="104.04" x2="90" y2="101.73" stroke="#e64040"/>
<line x1="87.15" y1="90.2" x2="93.66" y2="93.66" stroke="#a4a4e0"/>
<line x1="93.66" y1="93.66" x2="98" y2="95.97" stroke="#e64040"/>
<line x1="106" y1="90.2" x2="101.2" y2="93.66" stroke="#a4a4e0"/>
<line x1="101.2" y1="93.66" x2="98" y2="95.97" stroke="#e64040"/>
<line x1="100.85" y1="107.5" x2="99.14" y2="100.58" stroke="#a4a4e0"/>
<line x1="99.14" y1="100.58" x2="98" y2="95.97" stroke="#e64040"/>
<line x1="106" y1="90.2" x2="107.71" y2="97.12" stroke="#a4a4e0"/>
<line x1="107.71" y1="97.12" x2="108.85" y2="101.73" stroke="#e64040"/>
<line x1="100.85" y1="107.5" x2="105.65" y2="104.04" stroke="#a4a4e0"/>
<line x1="105.65" y1="104.04" x2="108.85" y2="101.73" stroke="#e64040"/>
<line x1="119.7" y1="107.5" x2="113.19" y2="104.04" stroke="#a4a4e0"/>
<line x1="113.19" y1="104.04" x2="108.85" y2="101.73" stroke="#e64040"/>
<line x1="106" y1="90.2" x2="112.51" y2="93.66" stroke="#a4a4e0"/>
<line x1="112.51" y1="93.66" x2="116.85" y2="95.97" stroke="#e64040"/>
<line x1="124.85" y1="90.2" x2="120.05" y2="93.66" stroke="#a4a4e0"/>
<line x1="120.05" y1="93.66" x2="116.85" y2="95.97" stroke="#e64040"/>
<line x1="119.7" y1="107.5" x2="117.99" y2="100.58" stroke="#a4a4e0"/>
<line x1="117.99" y1="100.58" x2="116.85" y2="95.97" stroke="#e64040"/>
<line x1="124.85" y1="90.2" x2="126.56" y2="97.12" stroke="#a4a4e0"/>
<line x1="126.56" y1="97.12" x2="127.7" y2="101.73" stroke="#e64040"/>
<line x1="119.7" y1="107.5" x2="124.5" y2="104.04" stroke="#a4a4e0"/>
<line x1="124.5" y1="104.04" x2="127.7" y2="101.73" stroke="#e64040"/>
<line x1="138.55" y1="107.5" x2="132.04" y2="104.04" stroke="#a4a4e0"/>
<line x1="132.04" y1="104.04" x2="127.7" y2="101.73" stroke="#e64040"/>
<line x1="124.85" y1="90.2" x2="131.36" y2="93.66" stroke="#a4a4e0"/>
<line x1="131.36" y1="93.66" x2="135.7" y2="95.97" stroke="#e64040"/>
<line x1="143.7" y1="90.2" x2="138.9" y2="93.66" stroke="#a4a4e0"/>
<line x1="138.9" y1="93.66" x2="135.7" y2="95.97" stroke="#e64040"/>
<line x1="138.55" y1="107.5" x2="136.84" y2="100.58" stroke="#a4a4e0"/>
<line x1="136.84" y1="100.58" x2="135.7" y2="95.97" stroke="#e64040"/>
<line x1="143.7" y1="90.2" x2="145.41" y2="97.12" stroke="#a4a4e0"/>
<line x1="145.41" y1="97.12" x2="146.55" y2="101.73" stroke="#e64040"/>
<line x1="138.55" y1="107.5" x2="143.35" y2="104.04" stroke="#a4a4e0"/>
<line x1="143.35" y1="104.04" x2="146.55" y2="101.73" stroke="#e64040"/>
<line x1="44.3" y1="107.5" x2="45.11" y2="114.42" stroke="#a4a4e0"/>
<line x1="45.11" y1="114.42" x2="45.65" y2="119.03" stroke="#e64040"/>
<line x1="36.9" y1="124.8" x2="42.15" y2="121.34" stroke="#a4a4e0"/>
<line x1="42.15" y1="121.34" x2="45.65" y2="119.03" stroke="#e64040"/>
<line x1="55.75" y1="124.8" x2="49.69" y2="121.34" stroke="#a4a4e0"/>
<line x1="49.69" y1="121.34" x2="45.65" y2="119.03" stroke="#e64040"/>
<line x1="44.3" y1="107.5" x2="50.36" y2="110.96" stroke="#a4a4e0"/>
<line x1="50.36" y1="110.96" x2="54.4" y2="113.27" stroke="#e64040"/>
<line x1="63.15" y1="107.5" x2="57.9" y2="110.96" stroke="#a4a4e0"/>
<line x1="57.9" y1="110.96" x2="54.4" y2="113.27" stroke="#e64040"/>
<line x1="55.75" y1="124.8" x2="54.94" y2="117.88" stroke="#a4a4e0"/>
<line x1="54.94" y1="117.88" x2="54.4" y2="113.27" stroke="#e64040"/>
<line x1="63.15" y1="107.5" x2="63.96" y2="114.42" stroke="#a4a4e0"/>
<line x1="63.96" y1="114.42" x2="64.5" y2="119.03" stroke="#e64040"/>
<line x1="55.75" y1="124.8" x2="61" y2="121.34" stroke="#a4a4e0"/>
<line x1="61" y1="121.34" x2="64.5" y2="119.03" stroke="#e64040"/>
<line x1="74.6" y1="124.8" x2="68.54" y2="121.34" stroke="#a4a4e0"/>
<line x1="68.54" y1="121.34" x2="64.5" y2="119.03" stroke="#e64040"/>
<line x1="63.15" y1="107.5" x2="69.21" y2="110.96" stroke="#a4a4e0"/>
<line x1="69.21" y1="110.96" x2="73.25" y2="113.27" stroke="#e64040"/>
<line x1="82" y1="107.5" x2="76.75" y2="110.96" stroke="#a4a4e0"/>
<line x1="76.75" y1="110.96" x2="73.25" y2="113.27" stroke="#e64040"/>
<line x1="74.6" y1="124.8" x2="73.79" y2="117.88" stroke="#a4a4e0"/>
<line x1="73.79" y1="117.88" x2="73.25" y2="113.27" stroke="#e64040"/>
<line x1="82" y1="107.5" x2="82.81" y2="114.42" stroke="#a4a4e0"/>
<line x1="82.81" y1="114.42" x2="83.35" y2="119.03" stroke="#e64040"/>
<line x1="74.6" y1="124.8" x2="79.85" y2="121.34" stroke="#a4a4e0"/>
<line x1="79.85" y1="121.34" x2="83.35" y2="119.03" stroke="#e64040"/>
<line x1="93.45" y1="124.8" x2="87.39" y2="121.34" stroke="#a4a4e0"/>
<line x1="87.39" y1="121.34" x2="83.35" y2="119.03" stroke="#e64040"/>
<line x1="82" y1="107.5" x2="88.06" y2="110.96" stroke="#a4a4e0"/>
<line x1="88.06" y1="110.96" x2="92.1" y2="113.27" stroke="#e64040"/>
<line x1="100.85" y1="107.5" x2="95.6" y2="110.96" stroke="#a4a4e0"/>
<line x1="95.6" y1="110.96" x2="92.1" y2="113.27" stroke="#e64040"/>
<line x1="93.45" y1="124.8" x2="92.64" y2="117.88" stroke="#a4a4e0"/>
<line x1="92.64" y1="117.88" x2="92.1" y2="113.27" stroke="#e64040"/>
<line x1="100.85" y1="107.5" x2="101.66" y2="114.42" stroke="#a4a4e0"/>
<line x1="101.66" y1="114.42" x2="102.2" y2="119.03" stroke="#e64040"/>
<line x1="93.45" y1="124.8" x2="98.7" y2="121.34" stroke="#a4a4e0"/>
<line x1="98.7" y1="121.34" x2="102.2" y2="119.03" stroke="#e64040"/>
<line x1="112.3" y1="124.8" x2="106.24" y2="121.34" stroke="#a4a4e0"/>
<line x1="106.24" y1="121.34" x2="102.2" y2="119.03" stroke="#e64040"/>
<line x1="100.85" y1="107.5" x2="106.91" y2="110.96" stroke="#a4a4e0"/>
<line x1="106.91" y1="110.96" x2="110.95" y2="113.27" stroke="#e64040"/>
<line x1="119.7" y1="107.5" x2="114.45" y2="110.96" stroke="#a4a4e0"/>
<line x1="114.45" y1="110.96" x2="110.95" y2="113.27" stroke="#e64040"/>
<line x1="112.3" y1="124.8" x2="111.49" y2="117.88" stroke="#a4a4e0"/>
<line x1="111.49" y1="117.88" x2="110.95" y2="113.27" stroke="#e64040"/>
<line x1="119.7" y1="107.5" x2="120.51" y2="114.42" stroke="#a4a4e0"/>
<line x1="120.51" y1="114.42" x2="121.05" y2="119.03" stroke="#e64040"/>
<line x1="112.3" y1="124.8" x2="117.55" y2="121.34" stroke="#a4a4e0"/>
<line x1="117.55" y1="121.34" x2="121.05" y2="119.03" stroke="#e64040"/>
<line x1="131.15" y1="124.8" x2="125.09" y2="121.34" stroke="#a4a4e0"/>
<line x1="125.09" y1="121.34" x2="121.05" y2="119.03" stroke="#e64040"/>
<line x1="119.7" y1="107.5" x2="125.76" y2="110.96" stroke="#a4a4e0"/>
<line x1="125.76" y1="110.96" x2="129.8" y2="113.27" stroke="#e64040"/>
<line x1="138.55" y1="107.5" x2="133.3" y2="110.96" stroke="#a4a4e0"/>
<line x1="133.3" y1="110.96" x2="129.8" y2="113.27" stroke="#e64040"/>
<line x1="131.15" y1="124.8" x2="130.34" y2="117.88" stroke="#a4a4e0"/>
<line x1="130.34" y1="117.88" x2="129.8" y2="113.27" stroke="#e64040"/>
<line x1="138.55" y1="107.5" x2="139.36" y2="114.42" stroke="#a4a4e0"/>
<line x1="139.36" y1="114.42" x2="139.9" y2="119.03" stroke="#e64040"/>
<line x1="131.15" y1="124.8" x2="136.4" y2="121.34" stroke="#a4a4e0"/>
<line x1="136.4" y1="121.34" x2="139.9" y2="119.03" stroke="#e64040"/>
<line x1="150" y1="124.8" x2="143.94" y2="121.34" stroke="#a4a4e0"/>
<line x1="143.94" y1="121.34" x2="139.9" y2="119.03" stroke="#e64040"/>
<line x1="138.55" y1="107.5" x2="144.61" y2="110.96" stroke="#a4a4e0"/>
<line x1="144.61" y1="110.96" x2="148.65" y2="113.27" stroke="#e64040"/>
<line x1="150" y1="124.8" x2="149.19" y2="117.88" stroke="#a4a4e0"/>
<line x1="149.19" y1="117.88" x2="148.65" y2="113.27" stroke="#e64040"/>
<line x1="36.9" y1="124.8" x2="38.83" y2="131.56" stroke="#a4a4e0"/>
<line x1="38.83" y1="131.56" x2="40.12" y2="136.07" stroke="#e64040"/>
<line x1="32.3" y1="141.7" x2="36.99" y2="138.32" stroke="#a4a4e0"/>
<line x1="36.99" y1="138.32" x2="40.12" y2="136.07" stroke="#e64040"/>
<line x1="51.15" y1="141.7" x2="44.53" y2="138.32" stroke="#a4a4e0"/>
<line x1="44.53" y1="138.32" x2="40.12" y2="136.07" stroke="#e64040"/>
<line x1="36.9" y1="124.8" x2="43.52" y2="128.18" stroke="#a4a4e0"/>
<line x1="43.52" y1="128.18" x2="47.93" y2="130.43" stroke="#e64040"/>
<line x1="55.75" y1="124.8" x2="51.06" y2="128.18" stroke="#a4a4e0"/>
<line x1="51.06" y1="128.18" x2="47.93" y2="130.43" stroke="#e64040"/>
<line x1="51.15" y1="141.7" x2="49.22" y2="134.94" stroke="#a4a4e0"/>
<line x1="49.22" y1="134.94" x2="47.93" y2="130.43" stroke="#e64040"/>
<line x1="55.75" y1="124.8" x2="57.68" y2="131.56" stroke="#a4a4e0"/>
<line x1="57.68" y1="131.56" x2="58.97" y2="136.07" stroke="#e64040"/>
<line x1="51.15" y1="141.7" x2="55.84" y2="138.32" stroke="#a4a4e0"/>
<line x1="55.84" y1="138.32" x2="58.97" y2="136.07" stroke="#e64040"/>
<line x1="70" y1="141.7" x2="63.38" y2="138.32" stroke="#a4a4e0"/>
<line x1="63.38" y1="138.32" x2="58.97" y2="136.07" stroke="#e64040"/>
<line x1="55.75" y1="124.8" x2="62.37" y2="128.18" stroke="#a4a4e0"/>
<line x1="62.37" y1="128.18" x2="66.78" y2="130.43" stroke="#e64040"/>
<line x1="74.6" y1="124.8" x2="69.91" y2="128.18" stroke="#a4a4e0"/>
<line x1="69.91" y1="128.18" x2="66.78" y2="130.43" stroke="#e64040"/>
<line x1="70" y1="141.7" x2="68.07" y2="134.94" stroke="#a4a4e0"/>
<line x1="68.07" y1="134.94" x2="66.78" y2="130.43" stroke="#e64040"/>
<line x1="74.6" y1="124.8" x2="76.53" y2="131.56" stroke="#a4a4e0"/>
<line x1="76.53" y1="131.56" x2="77.82" y2="136.07" stroke="#e64040"/>
<line x1="70" y1="141.7" x2="74.69" y2="138.32" stroke="#a4a4e0"/>
<line x1="74.69" y1="138.32" x2="77.82" y2="136.07" stroke="#e64040"/>
<line x1="88.85" y1="141.7" x2="82.23" y2="138.32" stroke="#a4a4e0"/>
<line x1="82.23" y1="138.32" x2="77.82" y2="136.07" stroke="#e64040"/>
<line x1="74.6" y1="124.8" x2="81.22" y2="128.18" stroke="#a4a4e0"/>
<line x1="81.22" y1="128.18" x2="85.63" y2="130.43" stroke="#e64040"/>
<line x1="93.45" y1="124.8" x2="88.76" y2="128.18" stroke="#a4a4e0"/>
<line x1="88.76" y1="128.18" x2="85.63" y2="130.43" stroke="#e64040"/>
<line x1="88.85" y1="141.7" x2="86.92" y2="134.94" stroke="#a4a4e0"/>
<line x1="86.92" y1="134.94" x2="85.63" y2="130.43" stroke="#e64040"/>
<line x1="93.45" y1="124.8" x2="95.38" y2="131.56" stroke="#a4a4e0"/>
<line x1="95.38" y1="131.56" x2="96.67" y2="136.07" stroke="#e64040"/>
<line x1="88.85" y1="141.7" x2="93.54" y2="138.32" stroke="#a4a4e0"/>
<line x1="93.54" y1="138.32" x2="96.67" y2="136.07" stroke="#e64040"/>
<line x1="107.7" y1="141.7" x2="101.08" y2="138.32" stroke="#a4a4e0"/>
<line x1="101.08" y1="138.32" x2="96.67" y2="136.07" stroke="#e64040"/>
<line x1="93.45" y1="124.8" x2="100.07" y2="128.18" stroke="#a4a4e0"/>
<line x1="100.07" y1="128.18" x2="104.48" y2="130.43" stroke="#e64040"/>
<line x1="112.3" y1="124.8" x2="107.61" y2="128.18" stroke="#a4a4e0"/>
<line x1="107.61" y1="128.18" x2="104.48" y2="130.43" stroke="#e64040"/>
<line x1="107.7" y1="141.7" x2="105.77" y2="134.94" stroke="#a4a4e0"/>
<line x1="105.77" y1="134.94" x2="104.48" y2="130.43" stroke="#e64040"/>
<line x1="112.3" y1="124.8" x2="114.23" y2="131.56" stroke="#a4a4e0"/>
<line x1="114.23" y1="131.56" x2="115.52" y2="136.07" stroke="#e64040"/>
<line x1="107.7" y1="141.7" x2="112.39" y2="138.32" stroke="#a4a4e0"/>
<line x1="112.39" y1="138.32" x2="115.52" y2="136.07" stroke="#e64040"/>
<line x1="126.55" y1="141.7" x2="119.93" y2="138.32" stroke="#a4a4e0"/>
<line x1="119.93" y1="138.32" x2="115.52" y2="136.07" stroke="#e64040"/>
<line x1="112.3" y1="124.8" x2="118.92" y2="128.18" stroke="#a4a4e0"/>
<line x1="118.92" y1="128.18" x2="123.33" y2="130.43" stroke="#e64040"/>
<line x1="131.15" y1="124.8" x2="126.46" y2="128.18" stroke="#a4a4e0"/>
<line x1="126.46" y1="128.18" x2="123.33" y2="130.43" stroke="#e64040"/>
<line x1="126.55" y1="141.7" x2="124.62" y2="134.94" stroke="#a4a4e0"/>
<line x1="124.62" y1="134.94" x2="123.33" y2="130.43" stroke="#e64040"/>
<line x1="131.15" y1="124.8" x2="133.08" y2="131.56" stroke="#a4a4e0"/>
<line x1="133.08" y1="131.56" x2="134.37" y2="136.07" stroke="#e64040"/>
<line x1="126.55" y1="141.7" x2="131.24" y2="138.32" stroke="#a4a4e0"/>
<line x1="131.24" y1="138.32" x2="134.37" y2="136.07" stroke="#e64040"/>
<line x1="145.4" y1="141.7" x2="138.78" y2="138.32" stroke="#a4a4e0"/>
<line x1="138.78" y1="138.32" x2="134.37" y2="136.07" stroke="#e64040"/>
<line x1="131.15" y1="124.8" x2="137.77" y2="128.18" stroke="#a4a4e0"/>
<line x1="137.77" y1="128.18" x2="142.18" y2="130.43" stroke="#e64040"/>
<line x1="150" y1="124.8" x2="145.31" y2="128.18" stroke="#a4a4e0"/>
<line x1="145.31" y1="128.18" x2="142.18" y2="130.43" stroke="#e64040"/>
<line x1="145.4" y1="141.7" x2="143.47" y2="134.94" stroke="#a4a4e0"/>
<line x1="143.47" y1="134.94" x2="142.18" y2="130.43" stroke="#e64040"/>
<line x1="150" y1="124.8" x2="151.93" y2="131.56" stroke="#a4a4e0"/>
<line x1="151.93" y1="131.56" x2="153.22" y2="136.07" stroke="#e64040"/>
<line x1="145.4" y1="141.7" x2="150.09" y2="138.32" stroke="#a4a4e0"/>
<line x1="150.09" y1="138.32" x2="153.22" y2="136.07" stroke="#e64040"/>
<line x1="32.3" y1="141.7" x2="38.69" y2="145.1" stroke="#a4a4e0"/>
<line x1="38.69" y1="145.1" x2="42.95" y2="147.37" stroke="#e64040"/>
<line x1="51.15" y1="141.7" x2="46.23" y2="145.1" stroke="#a4a4e0"/>
<line x1="46.23" y1="145.1" x2="42.95" y2="147.37" stroke="#e64040"/>
<line x1="45.4" y1="158.7" x2="43.93" y2="151.9" stroke="#a4a4e0"/>
<line x1="43.93" y1="151.9" x2="42.95" y2="147.37" stroke="#e64040"/>
<line x1="51.15" y1="141.7" x2="52.62" y2="148.5" stroke="#a4a4e0"/>
<line x1="52.62" y1="148.5" x2="53.6" y2="153.03" stroke="#e64040"/>
<line x1="45.4" y1="158.7" x2="50.32" y2="155.3" stroke="#a4a4e0"/>
<line x1="50.32" y1="155.3" x2="53.6" y2="153.03" stroke="#e64040"/>
<line x1="64.25" y1="158.7" x2="57.86" y2="155.3" stroke="#a4a4e0"/>
<line x1="57.86" y1="155.3" x2="53.6" y2="153.03" stroke="#e64040"/>
<line x1="51.15" y1="141.7" x2="57.54" y2="145.1" stroke="#a4a4e0"/>
<line x1="57.54" y1="145.1" x2="61.8" y2="147.37" stroke="#e64040"/>
<line x1="70" y1="141.7" x2="65.08" y2="145.1" stroke="#a4a4e0"/>
<line x1="65.08" y1="145.1" x2="61.8" y2="147.37" stroke="#e64040"/>
<line x1="64.25" y1="158.7" x2="62.78" y2="151.9" stroke="#a4a4e0"/>
<line x1="62.78" y1="151.9" x2="61.8" y2="147.37" stroke="#e64040"/>
<line x1="70" y1="141.7" x2="71.47" y2="148.5" stroke="#a4a4e0"/>
<line x1="71.47" y1="148.5" x2="72.45" y2="153.03" stroke="#e64040"/>
<line x1="64.25" y1="158.7" x2="69.17" y2="155.3" stroke="#a4a4e0"/>
<line x1="69.17" y1="155.3" x2="72.45" y2="153.03" stroke="#e64040"/>
<line x1="83.1" y1="158.7" x2="76.71" y2="155.3" stroke="#a4a4e0"/>
<line x1="76.71" y1="155.3" x2="72.45" y2="153.03" stroke="#e64040"/>
<line x1="70" y1="141.7" x2="76.39" y2="145.1" stroke="#a4a4e0"/>
<line x1="76.39" y1="145.1" x2="80.65" y2="147.37" stroke="#e64040"/>
<line x1="88.85" y1="141.7" x2="83.93" y2="145.1" stroke="#a4a4e0"/>
<line x1="83.93" y1="145.1" x2="80.65" y2="147.37" stroke="#e64040"/>
<line x1="83.1" y1="158.7" x2="81.63" y2="151.9" stroke="#a4a4e0"/>
<line x1="81.63" y1="151.9" x2="80.65" y2="147.37" stroke="#e64040"/>
<line x1="88.85" y1="141.7" x2="90.32" y2="148.5" stroke="#a4a4e0"/>
<line x1="90.32" y1="148.5" x2="91.3" y2="153.03" stroke="#e64040"/>
<line x1="83.1" y1="158.7" x2="88.02" y2="155.3" stroke="#a4a4e0"/>
<line x1="88.02" y1="155.3" x2="91.3" y2="153.03" stroke="#e64040"/>
<line x1="101.95" y1="158.7" x2="95.56" y2="155.3" stroke="#a4a4e0"/>
<line x1="95.56" y1="155.3" x2="91.3" y2="153.03" stroke="#e64040"/>
<line x1="88.85" y1="141.7" x2="95.24" y2="145.1" stroke="#a4a4e0"/>
<line x1="95.24" y1="145.1" x2="99.5" y2="147.37" stroke="#e64040"/>
<line x1="107.7" y1="141.7" x2="102.78" y2="145.1" stroke="#a4a4e0"/>
<line x1="102.78" y1="145.1" x2="99.5" y2="147.37" stroke="#e64040"/>
<line x1="101.95" y1="158.7" x2="100.48" y2="151.9" stroke="#a4a4e0"/>
<line x1="100.48" y1="151.9" x2="99.5" y2="147.37" stroke="#e64040"/>
<line x1="107.7" y1="141.7" x2="109.17" y2="148.5" stroke="#a4a4e0"/>
<line x1="109.17" y1="148.5" x2="110.15" y2="153.03" stroke="#e64040"/>
<line x1="101.95" y1="158.7" x2="106.87" y2="155.3" stroke="#a4a4e0"/>
<line x1="106.87" y1="155.3" x2="110.15" y2="153.03" stroke="#e64040"/>
<line x1="120.8" y1="158.7" x2="114.41" y2="155.3" stroke="#a4a4e0"/>
<line x1="114.41" y1="155.3" x2="110.15" y2="153.03" stroke="#e64040"/>
<line x1="107.7" y1="141.7" x2="114.09" y2="145.1" stroke="#a4a4e0"/>
<line x1="114.09" y1="145.1" x2="118.35" y2="147.37" stroke="#e64040"/>
<line x1="126.55" y1="141.7" x2="121.63" y2="145.1" stroke="#a4a4e0"/>
<line x1="121.63" y1="145.1" x2="118.35" y2="147.37" stroke="#e64040"/>
<line x1="120.8" y1="158.7" x2="119.33" y2="151.9" stroke="#a4a4e0"/>
<line x1="119.33" y1="151.9" x2="118.35" y2="147.37" stroke="#e64040"/>
<line x1="126.55" y1="141.7" x2="128.02" y2="148.5" stroke="#a4a4e0"/>
<line x1="128.02" y1="148.5" x2="129" y2="153.03" stroke="#e64040"/>
<line x1="120.8" y1="158.7" x2="125.72" y2="155.3" stroke="#a4a4e0"/>
<line x1="125.72" y1="155.3" x2="129" y2="153.03" stroke="#e64040"/>
<line x1="139.65" y1="158.7" x2="133.26" y2="155.3" stroke="#a4a4e0"/>
<line x1="133.26" y1="155.3" x2="129" y2="153.03" stroke="#e64040"/>
<line x1="126.55" y1="141.7" x2="132.94" y2="145.1" stroke="#a4a4e0"/>
<line x1="132.94" y1="145.1" x2="137.2" y2="147.37" stroke="#e64040"/>
<line x1="145.4" y1="141.7" x2="140.48" y2="145.1" stroke="#a4a4e0"/>
<line x1="140.48" y1="145.1" x2="137.2" y2="147.37" stroke="#e64040"/>
<line x1="139.65" y1="158.7" x2="138.18" y2="151.9" stroke="#a4a4e0"/>
<line x1="138.18" y1="151.9" x2="137.2" y2="147.37" stroke="#e64040"/>
<line x1="145.4" y1="141.7" x2="146.87" y2="148.5" stroke="#a4a4e0"/>
<line x1="146.87" y1="148.5" x2="147.85" y2="153.03" stroke="#e64040"/>
<line x1="139.65" y1="158.7" x2="144.57" y2="155.3" stroke="#a4a4e0"/>
<line x1="144.57" y1="155.3" x2="147.85" y2="153.03" stroke="#e64040"/>
<line x1="45.4" y1="158.7" x2="46.45" y2="165.46" stroke="#a4a4e0"/>
<line x1="46.45" y1="165.46" x2="47.15" y2="169.97" stroke="#e64040"/>
<line x1="38.6" y1="175.6" x2="43.73" y2="172.22" stroke="#a4a4e0"/>
<line x1="43.73" y1="172.22" x2="47.15" y2="169.97" stroke="#e64040"/>
<line x1="57.45" y1="175.6" x2="51.27" y2="172.22" stroke="#a4a4e0"/>
<line x1="51.27" y1="172.22" x2="47.15" y2="169.97" stroke="#e64040"/>
<line x1="45.4" y1="158.7" x2="51.58" y2="162.08" stroke="#a4a4e0"/>
<line x1="51.58" y1="162.08" x2="55.7" y2="164.33" stroke="#e64040"/>
<line x1="64.25" y1="158.7" x2="59.12" y2="162.08" stroke="#a4a4e0"/>
<line x1="59.12" y1="162.08" x2="55.7" y2="164.33" stroke="#e64040"/>
<line x1="57.45" y1="175.6" x2="56.4" y2="168.84" stroke="#a4a4e0"/>
<line x1="56.4" y1="168.84" x2="55.7" y2="164.33" stroke="#e64040"/>
<line x1="64.25" y1="158.7" x2="65.3" y2="165.46" stroke="#a4a4e0"/>
<line x1="65.3" y1="165.46" x2="66" y2="169.97" stroke="#e64040"/>
<line x1="57.45" y1="175.6" x2="62.58" y2="172.22" stroke="#a4a4e0"/>
<line x1="62.58" y1="172.22" x2="66" y2="169.97" stroke="#e64040"/>
<line x1="76.3" y1="175.6" x2="70.12" y2="172.22" stroke="#a4a4e0"/>
<line x1="70.12" y1="172.22" x2="66" y2="169.97" stroke="#e64040"/>
<line x1="64.25" y1="158.7" x2="70.43" y2="162.08" stroke="#a4a4e0"/>
<line x1="70.43" y1="162.08" x2="74.55" y2="164.33" stroke="#e64040"/>
<line x1="83.1" y1="158.7" x2="77.97" y2="162.08" stroke="#a4a4e0"/>
<line x1="77.97" y1="162.08" x2="74.55" y2="164.33" stroke="#e64040"/>
<line x1="76.3" y1="175.6" x2="75.25" y2="168.84" stroke="#a4a4e0"/>
<line x1="75.25" y1="168.84" x2="74.55" y2="164.33" stroke="#e64040"/>
<line x1="83.1" y1="158.7" x2="84.15" y2="165.46" stroke="#a4a4e0"/>
<line x1="84.15" y1="165.46" x2="84.85" y2="169.97" stroke="#e64040"/>
<line x1="76.3" y1="175.6" x2="81.43" y2="172.22" stroke="#a4a4e0"/>
<line x1="81.43" y1="172.22" x2="84.85" y2="169.97" stroke="#e64040"/>
<line x1="95.15" y1="175.6" x2="88.97" y2="172.22" stroke="#a4a4e0"/>
<line x1="88.97" y1="172.22" x2="84.85" y2="169.97" stroke="#e64040"/>
<line x1="83.1" y1="158.7" x2="89.28" y2="162.08" stroke="#a4a4e0"/>
<line x1="89.28" y1="162.08" x2="93.4" y2="164.33" stroke="#e64040"/>
<line x1="101.95" y1="158.7" x2="96.82" y2="162.08" stroke="#a4a4e0"/>
<line x1="96.82" y1="162.08" x2="93.4" y2="164.33" stroke="#e64040"/>
<line x1="95.15" y1="175.6" x2="94.1" y2="168.84" stroke="#a4a4e0"/>
<line x1="94.1" y1="168.84" x2="93.4" y2="164.33" stroke="#e64040"/>
<line x1="101.95" y1="158.7" x2="103" y2="165.46" stroke="#a4a4e0"/>
<line x1="103" y1="165.46" x2="103.7" y2="169.97" stroke="#e64040"/>
<line x1="95.15" y1="175.6" x2="100.28" y2="172.22" stroke="#a4a4e0"/>
<line x1="100.28" y1="172.22" x2="103.7" y2="169.97" stroke="#e64040"/>
<line x1="114" y1="175.6" x2="107.82" y2="172.22" stroke="#a4a4e0"/>
<line x1="107.82" y1="172.22" x2="103.7" y2="169.97" stroke="#e64040"/>
<line x1="101.95" y1="158.7" x2="108.13" y2="162.08" stroke="#a4a4e0"/>
<line x1="108.13" y1="162.08" x2="112.25" y2="164.33" stroke="#e64040"/>
<line x1="120.8" y1="158.7" x2="115.67" y2="162.08" stroke="#a4a4e0"/>
<line x1="115.67" y1="162.08" x2="112.25" y2="164.33" stroke="#e64040"/>
<line x1="114" y1="175.6" x2="112.95" y2="168.84" stroke="#a4a4e0"/>
<line x1="112.95" y1="168.84" x2="112.25" y2="164.33" stroke="#e64040"/>
<line x1="120.8" y1="158.7" x2="121.85" y2="165.46" stroke="#a4a4e0"/>
<line x1="121.85" y1="165.46" x2="122.55" y2="169.97" stroke="#e64040"/>
<line x1="114" y1="175.6" x2="119.13" y2="172.22" stroke="#a4a4e0"/>
<line x1="119.13" y1="172.22" x2="122.55" y2="169.97" stroke="#e64040"/>
<line x1="132.85" y1="175.6" x2="126.67" y2="172.22" stroke="#a4a4e0"/>
<line x1="126.67" y1="172.22" x2="122.55" y2="169.97" stroke="#e64040"/>
<line x1="120.8" y1="158.7" x2="126.98" y2="162.08" stroke="#a4a4e0"/>
<line x1="126.98" y1="162.08" x2="131.1" y2="164.33" stroke="#e64040"/>
<line x1="139.65" y1="158.7" x2="134.52" y2="162.08" stroke="#a4a4e0"/>
<line x1="134.52" y1="162.08" x2="131.1" y2="164.33" stroke="#e64040"/>
<line x1="132.85" y1="175.6" x2="131.8" y2="168.84" stroke="#a4a4e0"/>
<line x1="131.8" y1="168.84" x2="131.1" y2="164.33" stroke="#e64040"/>
<line x1="139.65" y1="158.7" x2="140.7" y2="165.46" stroke="#a4a4e0"/>
<line x1="140.7" y1="165.46" x2="141.4" y2="169.97" stroke="#e64040"/>
<line x1="132.85" y1="175.6" x2="137.98" y2="172.22" stroke="#a4a4e0"/>
<line x1="137.98" y1="172.22" x2="141.4" y2="169.97" stroke="#e64040"/>
<line x1="151.7" y1="175.6" x2="145.52" y2="172.22" stroke="#a4a4e0"/>
<line x1="145.52" y1="172.22" x2="141.4" y2="169.97" stroke="#e64040"/>
<line x1="139.65" y1="158.7" x2="145.83" y2="162.08" stroke="#a4a4e0"/>
<line x1="145.83" y1="162.08" x2="149.95" y2="164.33" stroke="#e64040"/>
<line x1="151.7" y1="175.6" x2="150.65" y2="168.84" stroke="#a4a4e0"/>
<line x1="150.65" y1="168.84" x2="149.95" y2="164.33" stroke="#e64040"/>
<line x1="38.6" y1="175.6" x2="40.41" y2="181.16" stroke="#a4a4e0"/>
<line x1="40.41" y1="181.16" x2="41.62" y2="184.87" stroke="#e64040"/>
<line x1="33.7" y1="189.5" x2="38.45" y2="186.72" stroke="#a4a4e0"/>
<line x1="38.45" y1="186.72" x2="41.62" y2="184.87" stroke="#e64040"/>
<line x1="52.55" y1="189.5" x2="45.99" y2="186.72" stroke="#a4a4e0"/>
<line x1="45.99" y1="186.72" x2="41.62" y2="184.87" stroke="#e64040"/>
<line x1="38.6" y1="175.6" x2="45.16" y2="178.38" stroke="#a4a4e0"/>
<line x1="45.16" y1="178.38" x2="49.53" y2="180.23" stroke="#e64040"/>
<line x1="57.45" y1="175.6" x2="52.7" y2="178.38" stroke="#a4a4e0"/>
<line x1="52.7" y1="178.38" x2="49.53" y2="180.23" stroke="#e64040"/>
<line x1="52.55" y1="189.5" x2="50.74" y2="183.94" stroke="#a4a4e0"/>
<line x1="50.74" y1="183.94" x2="49.53" y2="180.23" stroke="#e64040"/>
<line x1="57.45" y1="175.6" x2="59.26" y2="181.16" stroke="#a4a4e0"/>
<line x1="59.26" y1="181.16" x2="60.47" y2="184.87" stroke="#e64040"/>
<line x1="52.55" y1="189.5" x2="57.3" y2="186.72" stroke="#a4a4e0"/>
<line x1="57.3" y1="186.72" x2="60.47" y2="184.87" stroke="#e64040"/>
<line x1="71.4" y1="189.5" x2="64.84" y2="186.72" stroke="#a4a4e0"/>
<line x1="64.84" y1="186.72" x2="60.47" y2="184.87" stroke="#e64040"/>
<line x1="57.45" y1="175.6" x2="64.01" y2="178.38" stroke="#a4a4e0"/>
<line x1="64.01" y1="178.38" x2="68.38" y2="180.23" stroke="#e64040"/>
<line x1="76.3" y1="175.6" x2="71.55" y2="178.38" stroke="#a4a4e0"/>
<line x1="71.55" y1="178.38" x2="68.38" y2="180.23" stroke="#e64040"/>
<line x1="71.4" y1="189.5" x2="69.59" y2="183.94" stroke="#a4a4e0"/>
<line x1="69.59" y1="183.94" x2="68.38" y2="180.23" stroke="#e64040"/>
<line x1="76.3" y1="175.6" x2="78.11" y2="181.16" stroke="#a4a4e0"/>
<line x1="78.11" y1="181.16" x2="79.32" y2="184.87" stroke="#e64040"/>
<line x1="71.4" y1="189.5" x2="76.15" y2="186.72" stroke="#a4a4e0"/>
<line x1="76.15" y1="186.72" x2="79.32" y2="184.87" stroke="#e64040"/>
<line x1="90.25" y1="189.5" x2="83.69" y2="186.72" stroke="#a4a4e0"/>
<line x1="83.69" y1="186.72" x2="79.32" y2="184.87" stroke="#e64040"/>
<line x1="76.3" y1="175.6" x2="82.86" y2="178.38" stroke="#a4a4e0"/>
<line x1="82.86" y1="178.38" x2="87.23" y2="180.23" stroke="#e64040"/>
<line x1="95.15" y1="175.6" x2="90.4" y2="178.38" stroke="#a4a4e0"/>
<line x1="90.4" y1="178.38" x2="87.23" y2="180.23" stroke="#e64040"/>
<line x1="90.25" y1="189.5" x2="88.44" y2="183.94" stroke="#a4a4e0"/>
<line x1="88.44" y1="183.94" x2="87.23" y2="180.23" stroke="#e64040"/>
<line x1="95.15" y1="175.6" x2="96.96" y2="181.16" stroke="#a4a4e0"/>
<line x1="96.96" y1="181.16" x2="98.17" y2="184.87" stroke="#e64040"/>
<line x1="90.25" y1="189.5" x2="95" y2="186.72" stroke="#a4a4e0"/>
<line x1="95" y1="186.72" x2="98.17" y2="184.87" stroke="#e64040"/>
<line x1="109.1" y1="189.5" x2="102.54" y2="186.72" stroke="#a4a4e0"/>
<line x1="102.54" y1="186.72" x2="98.17" y2="184.87" stroke="#e64040"/>
<line x1="95.15" y1="175.6" x2="101.71" y2="178.38" stroke="#a4a4e0"/>
<line x1="101.71" y1="178.38" x2="106.08" y2="180.23" stroke="#e64040"/>
<line x1="114" y1="175.6" x2="109.25" y2="178.38" stroke="#a4a4e0"/>
<line x1="109.25" y1="178.38" x2="106.08" y2="180.23" stroke="#e64040"/>
<line x1="109.1" y1="189.5" x2="107.29" y2="183.94" stroke="#a4a4e0"/>
<line x1="107.29" y1="183.94" x2="106.08" y2="180.23" stroke="#e64040"/>
<line x1="114" y1="175.6" x2="115.81" y2="181.16" stroke="#a4a4e0"/>
<line x1="115.81" y1="181.16" x2="117.02" y2="184.87" stroke="#e64040"/>
<line x1="109.1" y1="189.5" x2="113.85" y2="186.72" stroke="#a4a4e0"/>
<line x1="113.85" y1="186.72" x2="117.02" y2="184.87" stroke="#e64040"/>
<line x1="127.95" y1="189.5" x2="121.39" y2="186.72" stroke="#a4a4e0"/>
<line x1="121.39" y1="186.72" x2="117.02" y2="184.87" stroke="#e64040"/>
<line x1="114" y1="175.6" x2="120.56" y2="178.38" stroke="#a4a4e0"/>
<line x1="120.56" y1="178.38" x2="124.93" y2="180.23" stroke="#e64040"/>
<line x1="132.85" y1="175.6" x2="128.1" y2="178.38" stroke="#a4a4e0"/>
<line x1="128.1" y1="178.38" x2="124.93" y2="180.23" stroke="#e64040"/>
<line x1="127.95" y1="189.5" x2="126.14" y2="183.94" stroke="#a4a4e0"/>
<line x1="126.14" y1="183.94" x2="124.93" y2="180.23" stroke="#e64040"/>
<line x1="132.85" y1="175.6" x2="134.66" y2="181.16" stroke="#a4a4e0"/>
<line x1="134.66" y1="181.16" x2="135.87" y2="184.87" stroke="#e64040"/>
<line x1="127.95" y1="189.5" x2="132.7" y2="186.72" stroke="#a4a4e0"/>
<line x1="132.7" y1="186.72" x2="135.87" y2="184.87" stroke="#e64040"/>
<line x1="146.8" y1="189.5" x2="140.24" y2="186.72" stroke="#a4a4e0"/>
<line x1="140.24" y1="186.72" x2="135.87" y2="184.87" stroke="#e64040"/>
<line x1="132.85" y1="175.6" x2="139.41" y2="178.38" stroke="#a4a4e0"/>
<line x1="139.41" y1="178.38" x2="143.78" y2="180.23" stroke="#e64040"/>
<line x1="151.7" y1="175.6" x2="146.95" y2="178.38" stroke="#a4a4e0"/>
<line x1="146.95" y1="178.38" x2="143.78" y2="180.23" stroke="#e64040"/>
<line x1="146.8" y1="189.5" x2="144.99" y2="183.94" stroke="#a4a4e0"/>
<line x1="144.99" y1="183.94" x2="143.78" y2="180.23" stroke="#e64040"/>
<line x1="151.7" y1="175.6" x2="153.51" y2="181.16" stroke="#a4a4e0"/>
<line x1="153.51" y1="181.16" x2="154.72" y2="184.87" stroke="#e64040"/>
<line x1="146.8" y1="189.5" x2="151.55" y2="186.72" stroke="#a4a4e0"/>
<line x1="151.55" y1="186.72" x2="154.72" y2="184.87" stroke="#e64040"/>
<line x1="30.6" y1="90.2" x2="36.26" y2="90.8" stroke="#a4a4e0"/>
<line x1="36.26" y1="90.8" x2="40.03" y2="91.2" stroke="#e64040"/>
<line x1="49.45" y1="90.2" x2="43.8" y2="90.8" stroke="#a4a4e0"/>
<line x1="43.8" y1="90.8" x2="40.03" y2="91.2" stroke="#e64040"/>
<line x1="49.45" y1="90.2" x2="55.11" y2="90.8" stroke="#a4a4e0"/>
<line x1="55.11" y1="90.8" x2="58.88" y2="91.2" stroke="#e64040"/>
<line x1="68.3" y1="90.2" x2="62.65" y2="90.8" stroke="#a4a4e0"/>
<line x1="62.65" y1="90.8" x2="58.88" y2="91.2" stroke="#e64040"/>
<line x1="68.3" y1="90.2" x2="73.96" y2="90.8" stroke="#a4a4e0"/>
<line x1="73.96" y1="90.8" x2="77.73" y2="91.2" stroke="#e64040"/>
<line x1="87.15" y1="90.2" x2="81.5" y2="90.8" stroke="#a4a4e0"/>
<line x1="81.5" y1="90.8" x2="77.73" y2="91.2" stroke="#e64040"/>
<line x1="87.15" y1="90.2" x2="92.81" y2="90.8" stroke="#a4a4e0"/>
<line x1="92.81" y1="90.8" x2="96.58" y2="91.2" stroke="#e64040"/>
<line x1="106" y1="90.2" x2="100.34" y2="90.8" stroke="#a4a4e0"/>
<line x1="100.34" y1="90.8" x2="96.58" y2="91.2" stroke="#e64040"/>
<line x1="106" y1="90.2" x2="111.66" y2="90.8" stroke="#a4a4e0"/>
<line x1="111.66" y1="90.8" x2="115.42" y2="91.2" stroke="#e64040"/>
<line x1="124.85" y1="90.2" x2="119.19" y2="90.8" stroke="#a4a4e0"/>
<line x1="119.19" y1="90.8" x2="115.42" y2="91.2" stroke="#e64040"/>
<line x1="124.85" y1="90.2" x2="130.5" y2="90.8" stroke="#a4a4e0"/>
<line x1="130.5" y1="90.8" x2="134.28" y2="91.2" stroke="#e64040"/>
<line x1="143.7" y1="90.2" x2="138.04" y2="90.8" stroke="#a4a4e0"/>
<line x1="138.04" y1="90.8" x2="134.28" y2="91.2" stroke="#e64040"/>
<line x1="143.7" y1="90.2" x2="149.35" y2="90.8" stroke="#a4a4e0"/>
<line x1="149.35" y1="90.8" x2="153.12" y2="91.2" stroke="#e64040"/>
<line x1="44.3" y1="107.5" x2="49.95" y2="108.1" stroke="#a4a4e0"/>
<line x1="49.95" y1="108.1" x2="53.72" y2="108.5" stroke="#e64040"/>
<line x1="63.15" y1="107.5" x2="57.49" y2="108.1" stroke="#a4a4e0"/>
<line x1="57.49" y1="108.1" x2="53.72" y2="108.5" stroke="#e64040"/>
<line x1="63.15" y1="107.5" x2="68.81" y2="108.1" stroke="#a4a4e0"/>
<line x1="68.81" y1="108.1" x2="72.58" y2="108.5" stroke="#e64040"/>
<line x1="82" y1="107.5" x2="76.34" y2="108.1" stroke="#a4a4e0"/>
<line x1="76.34" y1="108.1" x2="72.58" y2="108.5" stroke="#e64040"/>
<line x1="82" y1="107.5" x2="87.66" y2="108.1" stroke="#a4a4e0"/>
<line x1="87.66" y1="108.1" x2="91.42" y2="108.5" stroke="#e64040"/>
<line x1="100.85" y1="107.5" x2="95.19" y2="108.1" stroke="#a4a4e0"/>
<line x1="95.19" y1="108.1" x2="91.42" y2="108.5" stroke="#e64040"/>
<line x1="100.85" y1="107.5" x2="106.5" y2="108.1" stroke="#a4a4e0"/>
<line x1="106.5" y1="108.1" x2="110.27" y2="108.5" stroke="#e64040"/>
<line x1="119.7" y1="107.5" x2="114.04" y2="108.1" stroke="#a4a4e0"/>
<line x1="114.04" y1="108.1" x2="110.27" y2="108.5" stroke="#e64040"/>
<line x1="119.7" y1="107.5" x2="125.35" y2="108.1" stroke="#a4a4e0"/>
<line x1="125.35" y1="108.1" x2="129.12" y2="108.5" stroke="#e64040"/>
<line x1="138.55" y1="107.5" x2="132.89" y2="108.1" stroke="#a4a4e0"/>
<line x1="132.89" y1="108.1" x2="129.12" y2="108.5" stroke="#e64040"/>
<line x1="138.55" y1="107.5" x2="144.2" y2="108.1" stroke="#a4a4e0"/>
<line x1="144.2" y1="108.1" x2="147.97" y2="108.5" stroke="#e64040"/>
<line x1="36.9" y1="124.8" x2="42.55" y2="125.4" stroke="#a4a4e0"/>
<line x1="42.55" y1="125.4" x2="46.33" y2="125.8" stroke="#e64040"/>
<line x1="55.75" y1="124.8" x2="50.09" y2="125.4" stroke="#a4a4e0"/>
<line x1="50.09" y1="125.4" x2="46.33" y2="125.8" stroke="#e64040"/>
<line x1="55.75" y1="124.8" x2="61.41" y2="125.4" stroke="#a4a4e0"/>
<line x1="61.41" y1="125.4" x2="65.17" y2="125.8" stroke="#e64040"/>
<line x1="74.6" y1="124.8" x2="68.94" y2="125.4" stroke="#a4a4e0"/>
<line x1="68.94" y1="125.4" x2="65.17" y2="125.8" stroke="#e64040"/>
<line x1="74.6" y1="124.8" x2="80.25" y2="125.4" stroke="#a4a4e0"/>
<line x1="80.25" y1="125.4" x2="84.02" y2="125.8" stroke="#e64040"/>
<line x1="93.45" y1="124.8" x2="87.79" y2="125.4" stroke="#a4a4e0"/>
<line x1="87.79" y1="125.4" x2="84.02" y2="125.8" stroke="#e64040"/>
<line x1="93.45" y1="124.8" x2="99.1" y2="125.4" stroke="#a4a4e0"/>
<line x1="99.1" y1="125.4" x2="102.87" y2="125.8" stroke="#e64040"/>
<line x1="112.3" y1="124.8" x2="106.64" y2="125.4" stroke="#a4a4e0"/>
<line x1="106.64" y1="125.4" x2="102.87" y2="125.8" stroke="#e64040"/>
<line x1="112.3" y1="124.8" x2="117.95" y2="125.4" stroke="#a4a4e0"/>
<line x1="117.95" y1="125.4" x2="121.72" y2="125.8" stroke="#e64040"/>
<line x1="131.15" y1="124.8" x2="125.49" y2="125.4" stroke="#a4a4e0"/>
<line x1="125.49" y1="125.4" x2="121.72" y2="125.8" stroke="#e64040"/>
<line x1="131.15" y1="124.8" x2="136.8" y2="125.4" stroke="#a4a4e0"/>
<line x1="136.8" y1="125.4" x2="140.57" y2="125.8" stroke="#e64040"/>
<line x1="150" y1="124.8" x2="144.34" y2="125.4" stroke="#a4a4e0"/>
<line x1="144.34" y1="125.4" x2="140.57" y2="125.8" stroke="#e64040"/>
<line x1="32.3" y1="141.7" x2="37.95" y2="142.3" stroke="#a4a4e0"/>
<line x1="37.95" y1="142.3" x2="41.72" y2="142.7" stroke="#e64040"/>
<line x1="51.15" y1="141.7" x2="45.49" y2="142.3" stroke="#a4a4e0"/>
<line x1="45.49" y1="142.3" x2="41.72" y2="142.7" stroke="#e64040"/>
<line x1="51.15" y1="141.7" x2="56.8" y2="142.3" stroke="#a4a4e0"/>
<line x1="56.8" y1="142.3" x2="60.58" y2="142.7" stroke="#e64040"/>
<line x1="70" y1="141.7" x2="64.34" y2="142.3" stroke="#a4a4e0"/>
<line x1="64.34" y1="142.3" x2="60.58" y2="142.7" stroke="#e64040"/>
<line x1="70" y1="141.7" x2="75.66" y2="142.3" stroke="#a4a4e0"/>
<line x1="75.66" y1="142.3" x2="79.42" y2="142.7" stroke="#e64040"/>
<line x1="88.85" y1="141.7" x2="83.19" y2="142.3" stroke="#a4a4e0"/>
<line x1="83.19" y1="142.3" x2="79.42" y2="142.7" stroke="#e64040"/>
<line x1="88.85" y1="141.7" x2="94.5" y2="142.3" stroke="#a4a4e0"/>
<line x1="94.5" y1="142.3" x2="98.27" y2="142.7" stroke="#e64040"/>
<line x1="107.7" y1="141.7" x2="102.04" y2="142.3" stroke="#a4a4e0"/>
<line x1="102.04" y1="142.3" x2="98.27" y2="142.7" stroke="#e64040"/>
<line x1="107.7" y1="141.7" x2="113.35" y2="142.3" stroke="#a4a4e0"/>
<line x1="113.35" y1="142.3" x2="117.12" y2="142.7" stroke="#e64040"/>
<line x1="126.55" y1="141.7" x2="120.89" y2="142.3" stroke="#a4a4e0"/>
<line x1="120.89" y1="142.3" x2="117.12" y2="142.7" stroke="#e64040"/>
<line x1="126.55" y1="141.7" x2="132.2" y2="142.3" stroke="#a4a4e0"/>
<line x1="132.2" y1="142.3" x2="135.97" y2="142.7" stroke="#e64040"/>
<line x1="145.4" y1="141.7" x2="139.74" y2="142.3" stroke="#a4a4e0"/>
<line x1="139.74" y1="142.3" x2="135.97" y2="142.7" stroke="#e64040"/>
<line x1="145.4" y1="141.7" x2="151.05" y2="142.3" stroke="#a4a4e0"/>
<line x1="151.05" y1="142.3" x2="154.82" y2="142.7" stroke="#e64040"/>
<line x1="45.4" y1="158.7" x2="51.05" y2="159.3" stroke="#a4a4e0"/>
<line x1="51.05" y1="159.3" x2="54.83" y2="159.7" stroke="#e64040"/>
<line x1="64.25" y1="158.7" x2="58.59" y2="159.3" stroke="#a4a4e0"/>
<line x1="58.59" y1="159.3" x2="54.83" y2="159.7" stroke="#e64040"/>
<line x1="64.25" y1="158.7" x2="69.91" y2="159.3" stroke="#a4a4e0"/>
<line x1="69.91" y1="159.3" x2="73.67" y2="159.7" stroke="#e64040"/>
<line x1="83.1" y1="158.7" x2="77.44" y2="159.3" stroke="#a4a4e0"/>
<line x1="77.44" y1="159.3" x2="73.67" y2="159.7" stroke="#e64040"/>
<line x1="83.1" y1="158.7" x2="88.75" y2="159.3" stroke="#a4a4e0"/>
<line x1="88.75" y1="159.3" x2="92.52" y2="159.7" stroke="#e64040"/>
<line x1="101.95" y1="158.7" x2="96.29" y2="159.3" stroke="#a4a4e0"/>
<line x1="96.29" y1="159.3" x2="92.52" y2="159.7" stroke="#e64040"/>
<line x1="101.95" y1="158.7" x2="107.6" y2="159.3" stroke="#a4a4e0"/>
<line x1="107.6" y1="159.3" x2="111.37" y2="159.7" stroke="#e64040"/>
<line x1="120.8" y1="158.7" x2="115.14" y2="159.3" stroke="#a4a4e0"/>
<line x1="115.14" y1="159.3" x2="111.37" y2="159.7" stroke="#e64040"/>
<line x1="120.8" y1="158.7" x2="126.45" y2="159.3" stroke="#a4a4e0"/>
<line x1="126.45" y1="159.3" x2="130.22" y2="159.7" stroke="#e64040"/>
<line x1="139.65" y1="158.7" x2="133.99" y2="159.3" stroke="#a4a4e0"/>
<line x1="133.99" y1="159.3" x2="130.22" y2="159.7" stroke="#e64040"/>
<line x1="139.65" y1="158.7" x2="145.3" y2="159.3" stroke="#a4a4e0"/>
<line x1="145.3" y1="159.3" x2="149.07" y2="159.7" stroke="#e64040"/>
<line x1="38.6" y1="175.6" x2="44.26" y2="176.2" stroke="#a4a4e0"/>
<line x1="44.26" y1="176.2" x2="48.03" y2="176.6" stroke="#e64040"/>
<line x1="57.45" y1="175.6" x2="51.8" y2="176.2" stroke="#a4a4e0"/>
<line x1="51.8" y1="176.2" x2="48.03" y2="176.6" stroke="#e64040"/>
<line x1="57.45" y1="175.6" x2="63.11" y2="176.2" stroke="#a4a4e0"/>
<line x1="63.11" y1="176.2" x2="66.88" y2="176.6" stroke="#e64040"/>
<line x1="76.3" y1="175.6" x2="70.65" y2="176.2" stroke="#a4a4e0"/>
<line x1="70.65" y1="176.2" x2="66.88" y2="176.6" stroke="#e64040"/>
<line x1="76.3" y1="175.6" x2="81.96" y2="176.2" stroke="#a4a4e0"/>
<line x1="81.96" y1="176.2" x2="85.73" y2="176.6" stroke="#e64040"/>
<line x1="95.15" y1="175.6" x2="89.5" y2="176.2" stroke="#a4a4e0"/>
<line x1="89.5" y1="176.2" x2="85.73" y2="176.6" stroke="#e64040"/>
<line x1="95.15" y1="175.6" x2="100.81" y2="176.2" stroke="#a4a4e0"/>
<line x1="100.81" y1="176.2" x2="104.58" y2="176.6" stroke="#e64040"/>
<line x1="114" y1="175.6" x2="108.34" y2="176.2" stroke="#a4a4e0"/>
<line x1="108.34" y1="176.2" x2="104.58" y2="176.6" stroke="#e64040"/>
<line x1="114" y1="175.6" x2="119.66" y2="176.2" stroke="#a4a4e0"/>
<line x1="119.66" y1="176.2" x2="123.42" y2="176.6" stroke="#e64040"/>
<line x1="132.85" y1="175.6" x2="127.19" y2="176.2" stroke="#a4a4e0"/>
<line x1="127.19" y1="176.2" x2="123.42" y2="176.6" stroke="#e64040"/>
<line x1="132.85" y1="175.6" x2="138.5" y2="176.2" stroke="#a4a4e0"/>
<line x1="138.5" y1="176.2" x2="142.28" y2="176.6" stroke="#e64040"/>
<line x1="151.7" y1="175.6" x2="146.04" y2="176.2" stroke="#a4a4e0"/>
<line x1="146.04" y1="176.2" x2="142.28" y2="176.6" stroke="#e64040"/>
<line x1="33.7" y1="189.5" x2="39.36" y2="190.1" stroke="#a4a4e0"/>
<line x1="39.36" y1="190.1" x2="43.12" y2="190.5" stroke="#e64040"/>
<line x1="52.55" y1="189.5" x2="46.9" y2="190.1" stroke="#a4a4e0"/>
<line x1="46.9" y1="190.1" x2="43.12" y2="190.5" stroke="#e64040"/>
<line x1="52.55" y1="189.5" x2="58.21" y2="190.1" stroke="#a4a4e0"/>
<line x1="58.21" y1="190.1" x2="61.98" y2="190.5" stroke="#e64040"/>
<line x1="71.4" y1="189.5" x2="65.75" y2="190.1" stroke="#a4a4e0"/>
<line x1="65.75" y1="190.1" x2="61.98" y2="190.5" stroke="#e64040"/>
<line x1="71.4" y1="189.5" x2="77.06" y2="190.1" stroke="#a4a4e0"/>
<line x1="77.06" y1="190.1" x2="80.83" y2="190.5" stroke="#e64040"/>
<line x1="90.25" y1="189.5" x2="84.59" y2="190.1" stroke="#a4a4e0"/>
<line x1="84.59" y1="190.1" x2="80.83" y2="190.5" stroke="#e64040"/>
<line x1="90.25" y1="189.5" x2="95.91" y2="190.1" stroke="#a4a4e0"/>
<line x1="95.91" y1="190.1" x2="99.67" y2="190.5" stroke="#e64040"/>
<line x1="109.1" y1="189.5" x2="103.44" y2="190.1" stroke="#a4a4e0"/>
<line x1="103.44" y1="190.1" x2="99.67" y2="190.5" stroke="#e64040"/>
<line x1="109.1" y1="189.5" x2="114.75" y2="190.1" stroke="#a4a4e0"/>
<line x1="114.75" y1="190.1" x2="118.52" y2="190.5" stroke="#e64040"/>
<line x1="127.95" y1="189.5" x2="122.29" y2="190.1" stroke="#a4a4e0"/>
<line x1="122.29" y1="190.1" x2="118.52" y2="190.5" stroke="#e64040"/>
<line x1="127.95" y1="189.5" x2="133.6" y2="190.1" stroke="#a4a4e0"/>
<line x1="133.6" y1="190.1" x2="137.38" y2="190.5" stroke="#e64040"/>
<line x1="146.8" y1="189.5" x2="141.14" y2="190.1" stroke="#a4a4e0"/>
<line x1="141.14" y1="190.1" x2="137.38" y2="190.5" stroke="#e64040"/>
<line x1="31.2" y1="31.2" x2="40.2" y2="32.4" stroke="#80dcdc" stroke-width="0.8"/>
<line x1="31.2" y1="33.2" x2="40.2" y2="34.4" stroke="#80dcdc" stroke-width="0.8"/>
<line x1="31.2" y1="35.2" x2="40.2" y2="36.4" stroke="#80dcdc" stroke-width="0.8"/>
<line x1="50.05" y1="31.2" x2="59.05" y2="32.4" stroke="#80dcdc" stroke-width="0.8"/>
<line x1="50.05" y1="33.2" x2="59.05" y2="34.4" stroke="#80dcdc" stroke-width="0.8"/>
<line x1="50.05" y1="35.2" x2="59.05" y2="36.4" stroke="#80dcdc" stroke-width="0.8"/>
<line x1="68.9" y1="31.2" x2="77.9" y2="32.4" stroke="#80dcdc" stroke-width="0.8"/>
<line x1="68.9" y1="33.2" x2="77.9" y2="34.4" stroke="#80dcdc" stroke-width="0.8"/>
<line x1="68.9" y1="35.2" x2="77.9" y2="36.4" stroke="#80dcdc" stroke-width="0.8"/>
<line x1="87.75" y1="31.2" x2="96.75" y2="32.4" stroke="#80dcdc" stroke-width="0.8"/>
<line x1="87.75" y1="33.2" x2="96.75" y2="34.4" stroke="#80dcdc" stroke-width="0.8"/>
<line x1="87.75" y1="35.2" x2="96.75" y2="36.4" stroke="#80dcdc" stroke-width="0.8"/>
<line x1="106.6" y1="31.2" x2="115.6" y2="32.4" stroke="#80dcdc" stroke-width="0.8"/>
<line x1="106.6" y1="33.2" x2="115.6" y2="34.4" stroke="#80dcdc" stroke-width="0.8"/>
<line x1="106.6" y1="35.2" x2="115.6" y2="36.4" stroke="#80dcdc" stroke-width="0.8"/>
<line x1="125.45" y1="31.2" x2="134.45" y2="32.4" stroke="#80dcdc" stroke-width="0.8"/>
<line x1="125.45" y1="33.2" x2="134.45" y2="34.4" stroke="#80dcdc" stroke-width="0.8"/>
<line x1="125.45" y1="35.2" x2="134.45" y2="36.4" stroke="#80dcdc" stroke-width="0.8"/>
<line x1="144.3" y1="31.2" x2="153.3" y2="32.4" stroke="#80dcdc" stroke-width="0.8"/>
<line x1="144.3" y1="33.2" x2="153.3" y2="34.4" stroke="#80dcdc" stroke-width="0.8"/>
<line x1="144.3" y1="35.2" x2="153.3" y2="36.4" stroke="#80dcdc" stroke-width="0.8"/>
<line x1="43.5" y1="51.7" x2="52.5" y2="52.9" stroke="#80dcdc" stroke-width="0.8"/>
<line x1="43.5" y1="53.7" x2="52.5" y2="54.9" stroke="#80dcdc" stroke-width="0.8"/>
<line x1="43.5" y1="55.7" x2="52.5" y2="56.9" stroke="#80dcdc" stroke-width="0.8"/>
<line x1="62.35" y1="51.7" x2="71.35" y2="52.9" stroke="#80dcdc" stroke-width="0.8"/>
<line x1="62.35" y1="53.7" x2="71.35" y2="54.9" stroke="#80dcdc" stroke-width="0.8"/>
<line x1="62.35" y1="55.7" x2="71.35" y2="56.9" stroke="#80dcdc" stroke-width="0.8"/>
<line x1="81.2" y1="51.7" x2="90.2" y2="52.9" stroke="#80dcdc" stroke-width="0.8"/>
<line x1="81.2" y1="53.7" x2="90.2" y2="54.9" stroke="#80dcdc" stroke-width="0.8"/>
<line x1="81.2" y1="55.7" x2="90.2" y2="56.9" stroke="#80dcdc" stroke-width="0.8"/>
<line x1="100.05" y1="51.7" x2="109.05" y2="52.9" stroke="#80dcdc" stroke-width="0.8"/>
<line x1="100.05" y1="53.7" x2="109.05" y2="54.9" stroke="#80dcdc" stroke-width="0.8"/>
<line x1="100.05" y1="55.7" x2="109.05" y2="56.9" stroke="#80dcdc" stroke-width="0.8"/>
<line x1="118.9" y1="51.7" x2="127.9" y2="52.9" stroke="#80dcdc" stroke-width="0.8"/>
<line x1="118.9" y1="53.7" x2="127.9" y2="54.9" stroke="#80dcdc" stroke-width="0.8"/>
<line x1="118.9" y1="55.7" x2="127.9" y2="56.9" stroke="#80dcdc" stroke-width="0.8"/>
<line x1="137.75" y1="51.7" x2="146.75" y2="52.9" stroke="#80dcdc" stroke-width="0.8"/>
<line x1="137.75" y1="53.7" x2="146.75" y2="54.9" stroke="#80dcdc" stroke-width="0.8"/>
<line x1="137.75" y1="55.7" x2="146.75" y2="56.9" stroke="#80dcdc" stroke-width="0.8"/>
<line x1="37.4" y1="72.1" x2="46.4" y2="73.3" stroke="#80dcdc" stroke-width="0.8"/>
<line x1="37.4" y1="74.1" x2="46.4" y2="75.3" stroke="#80dcdc" stroke-width="0.8"/>
<line x1="37.4" y1="76.1" x2="46.4" y2="77.3" stroke="#80dcdc" stroke-width="0.8"/>
<line x1="56.25" y1="72.1" x2="65.25" y2="73.3" stroke="#80dcdc" stroke-width="0.8"/>
<line x1="56.25" y1="74.1" x2="65.25" y2="75.3" stroke="#80dcdc" stroke-width="0.8"/>
<line x1="56.25" y1="76.1" x2="65.25" y2="77.3" stroke="#80dcdc" stroke-width="0.8"/>
<line x1="75.1" y1="72.1" x2="84.1" y2="73.3" stroke="#80dcdc" stroke-width="0.8"/>
<line x1="75.1" y1="74.1" x2="84.1" y2="75.3" stroke="#80dcdc" stroke-width="0.8"/>
<line x1="75.1" y1="76.1" x2="84.1" y2="77.3" stroke="#80dcdc" stroke-width="0.8"/>
<line x1="93.95" y1="72.1" x2="102.95" y2="73.3" stroke="#80dcdc" stroke-width="0.8"/>
<line x1="93.95" y1="74.1" x2="102.95" y2="75.3" stroke="#80dcdc" stroke-width="0.8"/>
<line x1="93.95" y1="76.1" x2="102.95" y2="77.3" stroke="#80dcdc" stroke-width="0.8"/>
<line x1="112.8" y1="72.1" x2="121.8" y2="73.3" stroke="#80dcdc" stroke-width="0.8"/>
<line x1="112.8" y1="74.1" x2="121.8" y2="75.3" stroke="#80dcdc" stroke-width="0.8"/>
<line x1="112.8" y1="76.1" x2="121.8" y2="77.3" stroke="#80dcdc" stroke-width="0.8"/>
<line x1="131.65" y1="72.1" x2="140.65" y2="73.3" stroke="#80dcdc" stroke-width="0.8"/>
<line x1="131.65" y1="74.1" x2="140.65" y2="75.3" stroke="#80dcdc" stroke-width="0.8"/>
<line x1="131.65" y1="76.1" x2="140.65" y2="77.3" stroke="#80dcdc" stroke-width="0.8"/>
<line x1="150.5" y1="72.1" x2="159.5" y2="73.3" stroke="#80dcdc" stroke-width="0.8"/>
<line x1="150.5" y1="74.1" x2="159.5" y2="75.3" stroke="#80dcdc" stroke-width="0.8"/>
<line x1="150.5" y1="76.1" x2="159.5" y2="77.3" stroke="#80dcdc" stroke-width="0.8"/>
<line x1="37.4" y1="24.8" x2="44.4" y2="25.8" stroke="#ee5a5a" stroke-width="0.7"/>
<line x1="37.4" y1="27" x2="44.4" y2="28" stroke="#ee5a5a" stroke-width="0.7"/>
<line x1="37.4" y1="29.2" x2="44.4" y2="30.2" stroke="#ee5a5a" stroke-width="0.7"/>
<line x1="56.25" y1="24.8" x2="63.25" y2="25.8" stroke="#ee5a5a" stroke-width="0.7"/>
<line x1="56.25" y1="27" x2="63.25" y2="28" stroke="#ee5a5a" stroke-width="0.7"/>
<line x1="56.25" y1="29.2" x2="63.25" y2="30.2" stroke="#ee5a5a" stroke-width="0.7"/>
<line x1="75.1" y1="24.8" x2="82.1" y2="25.8" stroke="#ee5a5a" stroke-width="0.7"/>
<line x1="75.1" y1="27" x2="82.1" y2="28" stroke="#ee5a5a" stroke-width="0.7"/>
<line x1="75.1" y1="29.2" x2="82.1" y2="30.2" stroke="#ee5a5a" stroke-width="0.7"/>
<line x1="93.95" y1="24.8" x2="100.95" y2="25.8" stroke="#ee5a5a" stroke-width="0.7"/>
<line x1="93.95" y1="27" x2="100.95" y2="28" stroke="#ee5a5a" stroke-width="0.7"/>
<line x1="93.95" y1="29.2" x2="100.95" y2="30.2" stroke="#ee5a5a" stroke-width="0.7"/>
<line x1="112.8" y1="24.8" x2="119.8" y2="25.8" stroke="#ee5a5a" stroke-width="0.7"/>
<line x1="112.8" y1="27" x2="119.8" y2="28" stroke="#ee5a5a" stroke-width="0.7"/>
<line x1="112.8" y1="29.2" x2="119.8" y2="30.2" stroke="#ee5a5a" stroke-width="0.7"/>
<line x1="131.65" y1="24.8" x2="138.65" y2="25.8" stroke="#ee5a5a" stroke-width="0.7"/>
<line x1="131.65" y1="27" x2="138.65" y2="28" stroke="#ee5a5a" stroke-width="0.7"/>
<line x1="131.65" y1="29.2" x2="138.65" y2="30.2" stroke="#ee5a5a" stroke-width="0.7"/>
<line x1="150.5" y1="24.8" x2="157.5" y2="25.8" stroke="#ee5a5a" stroke-width="0.7"/>
<line x1="150.5" y1="27" x2="157.5" y2="28" stroke="#ee5a5a" stroke-width="0.7"/>
<line x1="150.5" y1="29.2" x2="157.5" y2="30.2" stroke="#ee5a5a" stroke-width="0.7"/>
<line x1="43.5" y1="36.53" x2="50.5" y2="37.53" stroke="#ee5a5a" stroke-width="0.7"/>
<line x1="43.5" y1="38.73" x2="50.5" y2="39.73" stroke="#ee5a5a" stroke-width="0.7"/>
<line x1="43.5" y1="40.93" x2="50.5" y2="41.93" stroke="#ee5a5a" stroke-width="0.7"/>
<line x1="62.35" y1="36.53" x2="69.35" y2="37.53" stroke="#ee5a5a" stroke-width="0.7"/>
<line x1="62.35" y1="38.73" x2="69.35" y2="39.73" stroke="#ee5a5a" stroke-width="0.7"/>
<line x1="62.35" y1="40.93" x2="69.35" y2="41.93" stroke="#ee5a5a" stroke-width="0.7"/>
<line x1="81.2" y1="36.53" x2="88.2" y2="37.53" stroke="#ee5a5a" stroke-width="0.7"/>
<line x1="81.2" y1="38.73" x2="88.2" y2="39.73" stroke="#ee5a5a" stroke-width="0.7"/>
<line x1="81.2" y1="40.93" x2="88.2" y2="41.93" stroke="#ee5a5a" stroke-width="0.7"/>
<line x1="100.05" y1="36.53" x2="107.05" y2="37.53" stroke="#ee5a5a" stroke-width="0.7"/>
<line x1="100.05" y1="38.73" x2="107.05" y2="39.73" stroke="#ee5a5a" stroke-width="0.7"/>
<line x1="100.05" y1="40.93" x2="107.05" y2="41.93" stroke="#ee5a5a" stroke-width="0.7"/>
<line x1="118.9" y1="36.53" x2="125.9" y2="37.53" stroke="#ee5a5a" stroke-width="0.7"/>
<line x1="118.9" y1="38.73" x2="125.9" y2="39.73" stroke="#ee5a5a" stroke-width="0.7"/>
<line x1="118.9" y1="40.93" x2="125.9" y2="41.93" stroke="#ee5a5a" stroke-width="0.7"/>
<line x1="137.75" y1="36.53" x2="144.75" y2="37.53" stroke="#ee5a5a" stroke-width="0.7"/>
<line x1="137.75" y1="38.73" x2="144.75" y2="39.73" stroke="#ee5a5a" stroke-width="0.7"/>
<line x1="137.75" y1="40.93" x2="144.75" y2="41.93" stroke="#ee5a5a" stroke-width="0.7"/>
<line x1="156.6" y1="36.53" x2="163.6" y2="37.53" stroke="#ee5a5a" stroke-width="0.7"/>
<line x1="156.6" y1="38.73" x2="163.6" y2="39.73" stroke="#ee5a5a" stroke-width="0.7"/>
<line x1="156.6" y1="40.93" x2="163.6" y2="41.93" stroke="#ee5a5a" stroke-width="0.7"/>
<line x1="31.2" y1="46.37" x2="38.2" y2="47.37" stroke="#ee5a5a" stroke-width="0.7"/>
<line x1="31.2" y1="48.57" x2="38.2" y2="49.57" stroke="#ee5a5a" stroke-width="0.7"/>
<line x1="31.2" y1="50.77" x2="38.2" y2="51.77" stroke="#ee5a5a" stroke-width="0.7"/>
<line x1="50.05" y1="46.37" x2="57.05" y2="47.37" stroke="#ee5a5a" stroke-width="0.7"/>
<line x1="50.05" y1="48.57" x2="57.05" y2="49.57" stroke="#ee5a5a" stroke-width="0.7"/>
<line x1="50.05" y1="50.77" x2="57.05" y2="51.77" stroke="#ee5a5a" stroke-width="0.7"/>
<line x1="68.9" y1="46.37" x2="75.9" y2="47.37" stroke="#ee5a5a" stroke-width="0.7"/>
<line x1="68.9" y1="48.57" x2="75.9" y2="49.57" stroke="#ee5a5a" stroke-width="0.7"/>
<line x1="68.9" y1="50.77" x2="75.9" y2="51.77" stroke="#ee5a5a" stroke-width="0.7"/>
<line x1="87.75" y1="46.37" x2="94.75" y2="47.37" stroke="#ee5a5a" stroke-width="0.7"/>
<line x1="87.75" y1="48.57" x2="94.75" y2="49.57" stroke="#ee5a5a" stroke-width="0.7"/>
<line x1="87.75" y1="50.77" x2="94.75" y2="51.77" stroke="#ee5a5a" stroke-width="0.7"/>
<line x1="106.6" y1="46.37" x2="113.6" y2="47.37" stroke="#ee5a5a" stroke-width="0.7"/>
<line x1="106.6" y1="48.57" x2="113.6" y2="49.57" stroke="#ee5a5a" stroke-width="0.7"/>
<line x1="106.6" y1="50.77" x2="113.6" y2="51.77" stroke="#ee5a5a" stroke-width="0.7"/>
<line x1="125.45" y1="46.37" x2="132.45" y2="47.37" stroke="#ee5a5a" stroke-width="0.7"/>
<line x1="125.45" y1="48.57" x2="132.45" y2="49.57" stroke="#ee5a5a" stroke-width="0.7"/>
<line x1="125.45" y1="50.77" x2="132.45" y2="51.77" stroke="#ee5a5a" stroke-width="0.7"/>
<line x1="144.3" y1="46.37" x2="151.3" y2="47.37" stroke="#ee5a5a" stroke-width="0.7"/>
<line x1="144.3" y1="48.57" x2="151.3" y2="49.57" stroke="#ee5a5a" stroke-width="0.7"/>
<line x1="144.3" y1="50.77" x2="151.3" y2="51.77" stroke="#ee5a5a" stroke-width="0.7"/>
<line x1="37.4" y1="57" x2="44.4" y2="58" stroke="#ee5a5a" stroke-width="0.7"/>
<line x1="37.4" y1="59.2" x2="44.4" y2="60.2" stroke="#ee5a5a" stroke-width="0.7"/>
<line x1="37.4" y1="61.4" x2="44.4" y2="62.4" stroke="#ee5a5a" stroke-width="0.7"/>
<line x1="56.25" y1="57" x2="63.25" y2="58" stroke="#ee5a5a" stroke-width="0.7"/>
<line x1="56.25" y1="59.2" x2="63.25" y2="60.2" stroke="#ee5a5a" stroke-width="0.7"/>
<line x1="56.25" y1="61.4" x2="63.25" y2="62.4" stroke="#ee5a5a" stroke-width="0.7"/>
<line x1="75.1" y1="57" x2="82.1" y2="58" stroke="#ee5a5a" stroke-width="0.7"/>
<line x1="75.1" y1="59.2" x2="82.1" y2="60.2" stroke="#ee5a5a" stroke-width="0.7"/>
<line x1="75.1" y1="61.4" x2="82.1" y2="62.4" stroke="#ee5a5a" stroke-width="0.7"/>
<line x1="93.95" y1="57" x2="100.95" y2="58" stroke="#ee5a5a" stroke-width="0.7"/>
<line x1="93.95" y1="59.2" x2="100.95" y2="60.2" stroke="#ee5a5a" stroke-width="0.7"/>
<line x1="93.95" y1="61.4" x2="100.95" y2="62.4" stroke="#ee5a5a" stroke-width="0.7"/>
<line x1="112.8" y1="57" x2="119.8" y2="58" stroke="#ee5a5a" stroke-width="0.7"/>
<line x1="112.8" y1="59.2" x2="119.8" y2="60.2" stroke="#ee5a5a" stroke-width="0.7"/>
<line x1="112.8" y1="61.4" x2="119.8" y2="62.4" stroke="#ee5a5a" stroke-width="0.7"/>
<line x1="131.65" y1="57" x2="138.65" y2="58" stroke="#ee5a5a" stroke-width="0.7"/>
<line x1="131.65" y1="59.2" x2="138.65" y2="60.2" stroke="#ee5a5a" stroke-width="0.7"/>
<line x1="131.65" y1="61.4" x2="138.65" y2="62.4" stroke="#ee5a5a" stroke-width="0.7"/>
<line x1="150.5" y1="57" x2="157.5" y2="58" stroke="#ee5a5a" stroke-width="0.7"/>
<line x1="150.5" y1="59.2" x2="157.5" y2="60.2" stroke="#ee5a5a" stroke-width="0.7"/>
<line x1="150.5" y1="61.4" x2="157.5" y2="62.4" stroke="#ee5a5a" stroke-width="0.7"/>
<line x1="43.5" y1="66.8" x2="50.5" y2="67.8" stroke="#ee5a5a" stroke-width="0.7"/>
<line x1="43.5" y1="69" x2="50.5" y2="70" stroke="#ee5a5a" stroke-width="0.7"/>
<line x1="43.5" y1="71.2" x2="50.5" y2="72.2" stroke="#ee5a5a" stroke-width="0.7"/>
<line x1="62.35" y1="66.8" x2="69.35" y2="67.8" stroke="#ee5a5a" stroke-width="0.7"/>
<line x1="62.35" y1="69" x2="69.35" y2="70" stroke="#ee5a5a" stroke-width="0.7"/>
<line x1="62.35" y1="71.2" x2="69.35" y2="72.2" stroke="#ee5a5a" stroke-width="0.7"/>
<line x1="81.2" y1="66.8" x2="88.2" y2="67.8" stroke="#ee5a5a" stroke-width="0.7"/>
<line x1="81.2" y1="69" x2="88.2" y2="70" stroke="#ee5a5a" stroke-width="0.7"/>
<line x1="81.2" y1="71.2" x2="88.2" y2="72.2" stroke="#ee5a5a" stroke-width="0.7"/>
<line x1="100.05" y1="66.8" x2="107.05" y2="67.8" stroke="#ee5a5a" stroke-width="0.7"/>
<line x1="100.05" y1="69" x2="107.05" y2="70" stroke="#ee5a5a" stroke-width="0.7"/>
<line x1="100.05" y1="71.2" x2="107.05" y2="72.2" stroke="#ee5a5a" stroke-width="0.7"/>
<line x1="118.9" y1="66.8" x2="125.9" y2="67.8" stroke="#ee5a5a" stroke-width="0.7"/>
<line x1="118.9" y1="69" x2="125.9" y2="70" stroke="#ee5a5a" stroke-width="0.7"/>
<line x1="118.9" y1="71.2" x2="125.9" y2="72.2" stroke="#ee5a5a" stroke-width="0.7"/>
<line x1="137.75" y1="66.8" x2="144.75" y2="67.8" stroke="#ee5a5a" stroke-width="0.7"/>
<line x1="137.75" y1="69" x2="144.75" y2="70" stroke="#ee5a5a" stroke-width="0.7"/>
<line x1="137.75" y1="71.2" x2="144.75" y2="72.2" stroke="#ee5a5a" stroke-width="0.7"/>
<line x1="156.6" y1="66.8" x2="163.6" y2="67.8" stroke="#ee5a5a" stroke-width="0.7"/>
<line x1="156.6" y1="69" x2="163.6" y2="70" stroke="#ee5a5a" stroke-width="0.7"/>
<line x1="156.6" y1="71.2" x2="163.6" y2="72.2" stroke="#ee5a5a" stroke-width="0.7"/>
<line x1="30.6" y1="76.81" x2="37.6" y2="77.81" stroke="#ee5a5a" stroke-width="0.7"/>
<line x1="30.6" y1="79.01" x2="37.6" y2="80.01" stroke="#ee5a5a" stroke-width="0.7"/>
<line x1="30.6" y1="81.21" x2="37.6" y2="82.21" stroke="#ee5a5a" stroke-width="0.7"/>
<line x1="49.45" y1="76.81" x2="56.45" y2="77.81" stroke="#ee5a5a" stroke-width="0.7"/>
<line x1="49.45" y1="79.01" x2="56.45" y2="80.01" stroke="#ee5a5a" stroke-width="0.7"/>
<line x1="49.45" y1="81.21" x2="56.45" y2="82.21" stroke="#ee5a5a" stroke-width="0.7"/>
<line x1="68.3" y1="76.81" x2="75.3" y2="77.81" stroke="#ee5a5a" stroke-width="0.7"/>
<line x1="68.3" y1="79.01" x2="75.3" y2="80.01" stroke="#ee5a5a" stroke-width="0.7"/>
<line x1="68.3" y1="81.21" x2="75.3" y2="82.21" stroke="#ee5a5a" stroke-width="0.7"/>
<line x1="87.15" y1="76.81" x2="94.15" y2="77.81" stroke="#ee5a5a" stroke-width="0.7"/>
<line x1="87.15" y1="79.01" x2="94.15" y2="80.01" stroke="#ee5a5a" stroke-width="0.7"/>
<line x1="87.15" y1="81.21" x2="94.15" y2="82.21" stroke="#ee5a5a" stroke-width="0.7"/>
<line x1="106" y1="76.81" x2="113" y2="77.81" stroke="#ee5a5a" stroke-width="0.7"/>
<line x1="106" y1="79.01" x2="113" y2="80.01" stroke="#ee5a5a" stroke-width="0.7"/>
<line x1="106" y1="81.21" x2="113" y2="82.21" stroke="#ee5a5a" stroke-width="0.7"/>
<line x1="124.85" y1="76.81" x2="131.85" y2="77.81" stroke="#ee5a5a" stroke-width="0.7"/>
<line x1="124.85" y1="79.01" x2="131.85" y2="80.01" stroke="#ee5a5a" stroke-width="0.7"/>
<line x1="124.85" y1="81.21" x2="131.85" y2="82.21" stroke="#ee5a5a" stroke-width="0.7"/>
<line x1="143.7" y1="76.81" x2="150.7" y2="77.81" stroke="#ee5a5a" stroke-width="0.7"/>
<line x1="143.7" y1="79.01" x2="150.7" y2="80.01" stroke="#ee5a5a" stroke-width="0.7"/>
<line x1="143.7" y1="81.21" x2="150.7" y2="82.21" stroke="#ee5a5a" stroke-width="0.7"/>
</g>
<circle cx="39.2" cy="30.2" r="1.7" fill="url(#gO)"/>
<circle cx="38.6" cy="28.4" r="1.7" fill="url(#gO)"/>
<circle cx="38" cy="26.6" r="1.7" fill="url(#gO)"/>
<circle cx="37.4" cy="24.8" r="1.7" fill="url(#gO)"/>
<circle cx="58.05" cy="30.2" r="1.7" fill="url(#gO)"/>
<circle cx="57.45" cy="28.4" r="1.7" fill="url(#gO)"/>
<circle cx="56.85" cy="26.6" r="1.7" fill="url(#gO)"/>
<circle cx="56.25" cy="24.8" r="1.7" fill="url(#gO)"/>
<circle cx="76.9" cy="30.2" r="1.7" fill="url(#gO)"/>
<circle cx="76.3" cy="28.4" r="1.7" fill="url(#gO)"/>
<circle cx="75.7" cy="26.6" r="1.7" fill="url(#gO)"/>
<circle cx="75.1" cy="24.8" r="1.7" fill="url(#gO)"/>
<circle cx="95.75" cy="30.2" r="1.7" fill="url(#gO)"/>
<circle cx="95.15" cy="28.4" r="1.7" fill="url(#gO)"/>
<circle cx="94.55" cy="26.6" r="1.7" fill="url(#gO)"/>
<circle cx="93.95" cy="24.8" r="1.7" fill="url(#gO)"/>
<circle cx="114.6" cy="30.2" r="1.7" fill="url(#gO)"/>
<circle cx="114" cy="28.4" r="1.7" fill="url(#gO)"/>
<circle cx="113.4" cy="26.6" r="1.7" fill="url(#gO)"/>
<circle cx="112.8" cy="24.8" r="1.7" fill="url(#gO)"/>
<circle cx="133.45" cy="30.2" r="1.7" fill="url(#gO)"/>
<circle cx="132.85" cy="28.4" r="1.7" fill="url(#gO)"/>
<circle cx="132.25" cy="26.6" r="1.7" fill="url(#gO)"/>
<circle cx="131.65" cy="24.8" r="1.7" fill="url(#gO)"/>
<circle cx="152.3" cy="30.2" r="1.7" fill="url(#gO)"/>
<circle cx="151.7" cy="28.4" r="1.7" fill="url(#gO)"/>
<circle cx="151.1" cy="26.6" r="1.7" fill="url(#gO)"/>
<circle cx="150.5" cy="24.8" r="1.7" fill="url(#gO)"/>
<circle cx="45.3" cy="41.93" r="1.7" fill="url(#gO)"/>
<circle cx="44.7" cy="40.13" r="1.7" fill="url(#gO)"/>
<circle cx="44.1" cy="38.33" r="1.7" fill="url(#gO)"/>
<circle cx="43.5" cy="36.53" r="1.7" fill="url(#gO)"/>
<circle cx="64.15" cy="41.93" r="1.7" fill="url(#gO)"/>
<circle cx="63.55" cy="40.13" r="1.7" fill="url(#gO)"/>
<circle cx="62.95" cy="38.33" r="1.7" fill="url(#gO)"/>
<circle cx="62.35" cy="36.53" r="1.7" fill="url(#gO)"/>
<circle cx="83" cy="41.93" r="1.7" fill="url(#gO)"/>
<circle cx="82.4" cy="40.13" r="1.7" fill="url(#gO)"/>
<circle cx="81.8" cy="38.33" r="1.7" fill="url(#gO)"/>
<circle cx="81.2" cy="36.53" r="1.7" fill="url(#gO)"/>
<circle cx="101.85" cy="41.93" r="1.7" fill="url(#gO)"/>
<circle cx="101.25" cy="40.13" r="1.7" fill="url(#gO)"/>
<circle cx="100.65" cy="38.33" r="1.7" fill="url(#gO)"/>
<circle cx="100.05" cy="36.53" r="1.7" fill="url(#gO)"/>
<circle cx="120.7" cy="41.93" r="1.7" fill="url(#gO)"/>
<circle cx="120.1" cy="40.13" r="1.7" fill="url(#gO)"/>
<circle cx="119.5" cy="38.33" r="1.7" fill="url(#gO)"/>
<circle cx="118.9" cy="36.53" r="1.7" fill="url(#gO)"/>
<circle cx="139.55" cy="41.93" r="1.7" fill="url(#gO)"/>
<circle cx="138.95" cy="40.13" r="1.7" fill="url(#gO)"/>
<circle cx="138.35" cy="38.33" r="1.7" fill="url(#gO)"/>
<circle cx="137.75" cy="36.53" r="1.7" fill="url(#gO)"/>
<circle cx="158.4" cy="41.93" r="1.7" fill="url(#gO)"/>
<circle cx="157.8" cy="40.13" r="1.7" fill="url(#gO)"/>
<circle cx="157.2" cy="38.33" r="1.7" fill="url(#gO)"/>
<circle cx="156.6" cy="36.53" r="1.7" fill="url(#gO)"/>
<circle cx="33" cy="51.77" r="1.7" fill="url(#gO)"/>
<circle cx="32.4" cy="49.97" r="1.7" fill="url(#gO)"/>
<circle cx="31.8" cy="48.17" r="1.7" fill="url(#gO)"/>
<circle cx="31.2" cy="46.37" r="1.7" fill="url(#gO)"/>
<circle cx="51.85" cy="51.77" r="1.7" fill="url(#gO)"/>
<circle cx="51.25" cy="49.97" r="1.7" fill="url(#gO)"/>
<circle cx="50.65" cy="48.17" r="1.7" fill="url(#gO)"/>
<circle cx="50.05" cy="46.37" r="1.7" fill="url(#gO)"/>
<circle cx="70.7" cy="51.77" r="1.7" fill="url(#gO)"/>
<circle cx="70.1" cy="49.97" r="1.7" fill="url(#gO)"/>
<circle cx="69.5" cy="48.17" r="1.7" fill="url(#gO)"/>
<circle cx="68.9" cy="46.37" r="1.7" fill="url(#gO)"/>
<circle cx="89.55" cy="51.77" r="1.7" fill="url(#gO)"/>
<circle cx="88.95" cy="49.97" r="1.7" fill="url(#gO)"/>
<circle cx="88.35" cy="48.17" r="1.7" fill="url(#gO)"/>
<circle cx="87.75" cy="46.37" r="1.7" fill="url(#gO)"/>
<circle cx="108.4" cy="51.77" r="1.7" fill="url(#gO)"/>
<circle cx="107.8" cy="49.97" r="1.7" fill="url(#gO)"/>
<circle cx="107.2" cy="48.17" r="1.7" fill="url(#gO)"/>
<circle cx="106.6" cy="46.37" r="1.7" fill="url(#gO)"/>
<circle cx="127.25" cy="51.77" r="1.7" fill="url(#gO)"/>
<circle cx="126.65" cy="49.97" r="1.7" fill="url(#gO)"/>
<circle cx="126.05" cy="48.17" r="1.7" fill="url(#gO)"/>
<circle cx="125.45" cy="46.37" r="1.7" fill="url(#gO)"/>
<circle cx="146.1" cy="51.77" r="1.7" fill="url(#gO)"/>
<circle cx="145.5" cy="49.97" r="1.7" fill="url(#gO)"/>
<circle cx="144.9" cy="48.17" r="1.7" fill="url(#gO)"/>
<circle cx="144.3" cy="46.37" r="1.7" fill="url(#gO)"/>
<circle cx="39.2" cy="62.4" r="1.7" fill="url(#gO)"/>
<circle cx="38.6" cy="60.6" r="1.7" fill="url(#gO)"/>
<circle cx="38" cy="58.8" r="1.7" fill="url(#gO)"/>
<circle cx="37.4" cy="57" r="1.7" fill="url(#gO)"/>
<circle cx="58.05" cy="62.4" r="1.7" fill="url(#gO)"/>
<circle cx="57.45" cy="60.6" r="1.7" fill="url(#gO)"/>
<circle cx="56.85" cy="58.8" r="1.7" fill="url(#gO)"/>
<circle cx="56.25" cy="57" r="1.7" fill="url(#gO)"/>
<circle cx="76.9" cy="62.4" r="1.7" fill="url(#gO)"/>
<circle cx="76.3" cy="60.6" r="1.7" fill="url(#gO)"/>
<circle cx="75.7" cy="58.8" r="1.7" fill="url(#gO)"/>
<circle cx="75.1" cy="57" r="1.7" fill="url(#gO)"/>
<circle cx="95.75" cy="62.4" r="1.7" fill="url(#gO)"/>
<circle cx="95.15" cy="60.6" r="1.7" fill="url(#gO)"/>
<circle cx="94.55" cy="58.8" r="1.7" fill="url(#gO)"/>
<circle cx="93.95" cy="57" r="1.7" fill="url(#gO)"/>
<circle cx="114.6" cy="62.4" r="1.7" fill="url(#gO)"/>
<circle cx="114" cy="60.6" r="1.7" fill="url(#gO)"/>
<circle cx="113.4" cy="58.8" r="1.7" fill="url(#gO)"/>
<circle cx="112.8" cy="57" r="1.7" fill="url(#gO)"/>
<circle cx="133.45" cy="62.4" r="1.7" fill="url(#gO)"/>
<circle cx="132.85" cy="60.6" r="1.7" fill="url(#gO)"/>
<circle cx="132.25" cy="58.8" r="1.7" fill="url(#gO)"/>
<circle cx="131.65" cy="57" r="1.7" fill="url(#gO)"/>
<circle cx="152.3" cy="62.4" r="1.7" fill="url(#gO)"/>
<circle cx="151.7" cy="60.6" r="1.7" fill="url(#gO)"/>
<circle cx="151.1" cy="58.8" r="1.7" fill="url(#gO)"/>
<circle cx="150.5" cy="57" r="1.7" fill="url(#gO)"/>
<circle cx="45.3" cy="72.2" r="1.7" fill="url(#gO)"/>
<circle cx="44.7" cy="70.4" r="1.7" fill="url(#gO)"/>
<circle cx="44.1" cy="68.6" r="1.7" fill="url(#gO)"/>
<circle cx="43.5" cy="66.8" r="1.7" fill="url(#gO)"/>
<circle cx="64.15" cy="72.2" r="1.7" fill="url(#gO)"/>
<circle cx="63.55" cy="70.4" r="1.7" fill="url(#gO)"/>
<circle cx="62.95" cy="68.6" r="1.7" fill="url(#gO)"/>
<circle cx="62.35" cy="66.8" r="1.7" fill="url(#gO)"/>
<circle cx="83" cy="72.2" r="1.7" fill="url(#gO)"/>
<circle cx="82.4" cy="70.4" r="1.7" fill="url(#gO)"/>
<circle cx="81.8" cy="68.6" r="1.7" fill="url(#gO)"/>
<circle cx="81.2" cy="66.8" r="1.7" fill="url(#gO)"/>
<circle cx="101.85" cy="72.2" r="1.7" fill="url(#gO)"/>
<circle cx="101.25" cy="70.4" r="1.7" fill="url(#gO)"/>
<circle cx="100.65" cy="68.6" r="1.7" fill="url(#gO)"/>
<circle cx="100.05" cy="66.8" r="1.7" fill="url(#gO)"/>
<circle cx="120.7" cy="72.2" r="1.7" fill="url(#gO)"/>
<circle cx="120.1" cy="70.4" r="1.7" fill="url(#gO)"/>
<circle cx="119.5" cy="68.6" r="1.7" fill="url(#gO)"/>
<circle cx="118.9" cy="66.8" r="1.7" fill="url(#gO)"/>
<circle cx="139.55" cy="72.2" r="1.7" fill="url(#gO)"/>
<circle cx="138.95" cy="70.4" r="1.7" fill="url(#gO)"/>
<circle cx="138.35" cy="68.6" r="1.7" fill="url(#gO)"/>
<circle cx="137.75" cy="66.8" r="1.7" fill="url(#gO)"/>
<circle cx="158.4" cy="72.2" r="1.7" fill="url(#gO)"/>
<circle cx="157.8" cy="70.4" r="1.7" fill="url(#gO)"/>
<circle cx="157.2" cy="68.6" r="1.7" fill="url(#gO)"/>
<circle cx="156.6" cy="66.8" r="1.7" fill="url(#gO)"/>
<circle cx="32.4" cy="82.21" r="1.7" fill="url(#gO)"/>
<circle cx="31.8" cy="80.41" r="1.7" fill="url(#gO)"/>
<circle cx="31.2" cy="78.61" r="1.7" fill="url(#gO)"/>
<circle cx="30.6" cy="76.81" r="1.7" fill="url(#gO)"/>
<circle cx="51.25" cy="82.21" r="1.7" fill="url(#gO)"/>
<circle cx="50.65" cy="80.41" r="1.7" fill="url(#gO)"/>
<circle cx="50.05" cy="78.61" r="1.7" fill="url(#gO)"/>
<circle cx="49.45" cy="76.81" r="1.7" fill="url(#gO)"/>
<circle cx="70.1" cy="82.21" r="1.7" fill="url(#gO)"/>
<circle cx="69.5" cy="80.41" r="1.7" fill="url(#gO)"/>
<circle cx="68.9" cy="78.61" r="1.7" fill="url(#gO)"/>
<circle cx="68.3" cy="76.81" r="1.7" fill="url(#gO)"/>
<circle cx="88.95" cy="82.21" r="1.7" fill="url(#gO)"/>
<circle cx="88.35" cy="80.41" r="1.7" fill="url(#gO)"/>
<circle cx="87.75" cy="78.61" r="1.7" fill="url(#gO)"/>
<circle cx="87.15" cy="76.81" r="1.7" fill="url(#gO)"/>
<circle cx="107.8" cy="82.21" r="1.7" fill="url(#gO)"/>
<circle cx="107.2" cy="80.41" r="1.7" fill="url(#gO)"/>
<circle cx="106.6" cy="78.61" r="1.7" fill="url(#gO)"/>
<circle cx="106" cy="76.81" r="1.7" fill="url(#gO)"/>
<circle cx="126.65" cy="82.21" r="1.7" fill="url(#gO)"/>
<circle cx="126.05" cy="80.41" r="1.7" fill="url(#gO)"/>
<circle cx="125.45" cy="78.61" r="1.7" fill="url(#gO)"/>
<circle cx="124.85" cy="76.81" r="1.7" fill="url(#gO)"/>
<circle cx="145.5" cy="82.21" r="1.7" fill="url(#gO)"/>
<circle cx="144.9" cy="80.41" r="1.7" fill="url(#gO)"/>
<circle cx="144.3" cy="78.61" r="1.7" fill="url(#gO)"/>
<circle cx="143.7" cy="76.81" r="1.7" fill="url(#gO)"/>
<circle cx="39.42" cy="82.16" r="1.75" fill="url(#gO)"/>
<circle cx="40.62" cy="83.76" r="1.75" fill="url(#gO)"/>
<circle cx="38.52" cy="84.26" r="1.75" fill="url(#gO)"/>
<circle cx="48.29" cy="76.24" r="1.75" fill="url(#gO)"/>
<circle cx="49.49" cy="77.84" r="1.75" fill="url(#gO)"/>
<circle cx="47.39" cy="78.34" r="1.75" fill="url(#gO)"/>
<circle cx="59.2" cy="81.2" r="1.75" fill="url(#gO)"/>
<circle cx="60.4" cy="82.8" r="1.75" fill="url(#gO)"/>
<circle cx="58.3" cy="83.3" r="1.75" fill="url(#gO)"/>
<circle cx="66.28" cy="76.71" r="1.75" fill="url(#gO)"/>
<circle cx="67.48" cy="78.31" r="1.75" fill="url(#gO)"/>
<circle cx="65.38" cy="78.81" r="1.75" fill="url(#gO)"/>
<circle cx="77.17" cy="81.54" r="1.75" fill="url(#gO)"/>
<circle cx="78.37" cy="83.14" r="1.75" fill="url(#gO)"/>
<circle cx="76.27" cy="83.64" r="1.75" fill="url(#gO)"/>
<circle cx="87.49" cy="75.97" r="1.75" fill="url(#gO)"/>
<circle cx="88.69" cy="77.57" r="1.75" fill="url(#gO)"/>
<circle cx="86.59" cy="78.07" r="1.75" fill="url(#gO)"/>
<circle cx="97.41" cy="82.02" r="1.75" fill="url(#gO)"/>
<circle cx="98.61" cy="83.62" r="1.75" fill="url(#gO)"/>
<circle cx="96.51" cy="84.12" r="1.75" fill="url(#gO)"/>
<circle cx="105.48" cy="75.33" r="1.75" fill="url(#gO)"/>
<circle cx="106.68" cy="76.93" r="1.75" fill="url(#gO)"/>
<circle cx="104.58" cy="77.43" r="1.75" fill="url(#gO)"/>
<circle cx="115.77" cy="82.8" r="1.75" fill="url(#gO)"/>
<circle cx="116.97" cy="84.4" r="1.75" fill="url(#gO)"/>
<circle cx="114.87" cy="84.9" r="1.75" fill="url(#gO)"/>
<circle cx="124.06" cy="76.52" r="1.75" fill="url(#gO)"/>
<circle cx="125.26" cy="78.12" r="1.75" fill="url(#gO)"/>
<circle cx="123.16" cy="78.62" r="1.75" fill="url(#gO)"/>
<circle cx="134.71" cy="81.19" r="1.75" fill="url(#gO)"/>
<circle cx="135.91" cy="82.79" r="1.75" fill="url(#gO)"/>
<circle cx="133.81" cy="83.29" r="1.75" fill="url(#gO)"/>
<circle cx="143.47" cy="76.22" r="1.75" fill="url(#gO)"/>
<circle cx="144.67" cy="77.82" r="1.75" fill="url(#gO)"/>
<circle cx="142.57" cy="78.32" r="1.75" fill="url(#gO)"/>
<circle cx="152.67" cy="81.13" r="1.75" fill="url(#gO)"/>
<circle cx="153.87" cy="82.73" r="1.75" fill="url(#gO)"/>
<circle cx="151.77" cy="83.23" r="1.75" fill="url(#gO)"/>
<circle cx="43.23" cy="93.81" r="1.75" fill="url(#gO)"/>
<circle cx="44.43" cy="95.41" r="1.75" fill="url(#gO)"/>
<circle cx="42.33" cy="95.91" r="1.75" fill="url(#gO)"/>
<circle cx="53.73" cy="100.39" r="1.75" fill="url(#gO)"/>
<circle cx="54.93" cy="101.99" r="1.75" fill="url(#gO)"/>
<circle cx="52.83" cy="102.49" r="1.75" fill="url(#gO)"/>
<circle cx="61.71" cy="94.71" r="1.75" fill="url(#gO)"/>
<circle cx="62.91" cy="96.31" r="1.75" fill="url(#gO)"/>
<circle cx="60.81" cy="96.81" r="1.75" fill="url(#gO)"/>
<circle cx="71.8" cy="100.24" r="1.75" fill="url(#gO)"/>
<circle cx="73" cy="101.84" r="1.75" fill="url(#gO)"/>
<circle cx="70.9" cy="102.34" r="1.75" fill="url(#gO)"/>
<circle cx="79.92" cy="94.74" r="1.75" fill="url(#gO)"/>
<circle cx="81.12" cy="96.34" r="1.75" fill="url(#gO)"/>
<circle cx="79.02" cy="96.84" r="1.75" fill="url(#gO)"/>
<circle cx="91.81" cy="98.83" r="1.75" fill="url(#gO)"/>
<circle cx="93.01" cy="100.43" r="1.75" fill="url(#gO)"/>
<circle cx="90.91" cy="100.93" r="1.75" fill="url(#gO)"/>
<circle cx="98.03" cy="93.3" r="1.75" fill="url(#gO)"/>
<circle cx="99.23" cy="94.9" r="1.75" fill="url(#gO)"/>
<circle cx="97.13" cy="95.4" r="1.75" fill="url(#gO)"/>
<circle cx="110.87" cy="99.51" r="1.75" fill="url(#gO)"/>
<circle cx="112.07" cy="101.11" r="1.75" fill="url(#gO)"/>
<circle cx="109.97" cy="101.61" r="1.75" fill="url(#gO)"/>
<circle cx="118.05" cy="93.47" r="1.75" fill="url(#gO)"/>
<circle cx="119.25" cy="95.07" r="1.75" fill="url(#gO)"/>
<circle cx="117.15" cy="95.57" r="1.75" fill="url(#gO)"/>
<circle cx="128.62" cy="99.41" r="1.75" fill="url(#gO)"/>
<circle cx="129.82" cy="101.01" r="1.75" fill="url(#gO)"/>
<circle cx="127.72" cy="101.51" r="1.75" fill="url(#gO)"/>
<circle cx="136.24" cy="94.04" r="1.75" fill="url(#gO)"/>
<circle cx="137.44" cy="95.64" r="1.75" fill="url(#gO)"/>
<circle cx="135.34" cy="96.14" r="1.75" fill="url(#gO)"/>
<circle cx="147.65" cy="100.44" r="1.75" fill="url(#gO)"/>
<circle cx="148.85" cy="102.04" r="1.75" fill="url(#gO)"/>
<circle cx="146.75" cy="102.54" r="1.75" fill="url(#gO)"/>
<circle cx="46.99" cy="117.79" r="1.75" fill="url(#gO)"/>
<circle cx="48.19" cy="119.39" r="1.75" fill="url(#gO)"/>
<circle cx="46.09" cy="119.89" r="1.75" fill="url(#gO)"/>
<circle cx="56.16" cy="112.15" r="1.75" fill="url(#gO)"/>
<circle cx="57.36" cy="113.75" r="1.75" fill="url(#gO)"/>
<circle cx="55.26" cy="114.25" r="1.75" fill="url(#gO)"/>
<circle cx="65.81" cy="116.26" r="1.75" fill="url(#gO)"/>
<circle cx="67.01" cy="117.86" r="1.75" fill="url(#gO)"/>
<circle cx="64.91" cy="118.36" r="1.75" fill="url(#gO)"/>
<circle cx="75.02" cy="112.1" r="1.75" fill="url(#gO)"/>
<circle cx="76.22" cy="113.7" r="1.75" fill="url(#gO)"/>
<circle cx="74.12" cy="114.2" r="1.75" fill="url(#gO)"/>
<circle cx="85.22" cy="117.07" r="1.75" fill="url(#gO)"/>
<circle cx="86.42" cy="118.67" r="1.75" fill="url(#gO)"/>
<circle cx="84.32" cy="119.17" r="1.75" fill="url(#gO)"/>
<circle cx="93.51" cy="110.59" r="1.75" fill="url(#gO)"/>
<circle cx="94.71" cy="112.19" r="1.75" fill="url(#gO)"/>
<circle cx="92.61" cy="112.69" r="1.75" fill="url(#gO)"/>
<circle cx="103.9" cy="117.08" r="1.75" fill="url(#gO)"/>
<circle cx="105.1" cy="118.68" r="1.75" fill="url(#gO)"/>
<circle cx="103" cy="119.18" r="1.75" fill="url(#gO)"/>
<circle cx="111.33" cy="110.29" r="1.75" fill="url(#gO)"/>
<circle cx="112.53" cy="111.89" r="1.75" fill="url(#gO)"/>
<circle cx="110.43" cy="112.39" r="1.75" fill="url(#gO)"/>
<circle cx="122.8" cy="117.91" r="1.75" fill="url(#gO)"/>
<circle cx="124" cy="119.51" r="1.75" fill="url(#gO)"/>
<circle cx="121.9" cy="120.01" r="1.75" fill="url(#gO)"/>
<circle cx="129.71" cy="111.77" r="1.75" fill="url(#gO)"/>
<circle cx="130.91" cy="113.37" r="1.75" fill="url(#gO)"/>
<circle cx="128.81" cy="113.87" r="1.75" fill="url(#gO)"/>
<circle cx="140.59" cy="116.23" r="1.75" fill="url(#gO)"/>
<circle cx="141.79" cy="117.83" r="1.75" fill="url(#gO)"/>
<circle cx="139.69" cy="118.33" r="1.75" fill="url(#gO)"/>
<circle cx="149.06" cy="111.7" r="1.75" fill="url(#gO)"/>
<circle cx="150.26" cy="113.3" r="1.75" fill="url(#gO)"/>
<circle cx="148.16" cy="113.8" r="1.75" fill="url(#gO)"/>
<circle cx="41.91" cy="133.06" r="1.75" fill="url(#gO)"/>
<circle cx="43.11" cy="134.66" r="1.75" fill="url(#gO)"/>
<circle cx="41.01" cy="135.16" r="1.75" fill="url(#gO)"/>
<circle cx="49.11" cy="127.42" r="1.75" fill="url(#gO)"/>
<circle cx="50.31" cy="129.02" r="1.75" fill="url(#gO)"/>
<circle cx="48.21" cy="129.52" r="1.75" fill="url(#gO)"/>
<circle cx="60.39" cy="133.63" r="1.75" fill="url(#gO)"/>
<circle cx="61.59" cy="135.23" r="1.75" fill="url(#gO)"/>
<circle cx="59.49" cy="135.73" r="1.75" fill="url(#gO)"/>
<circle cx="68.6" cy="129.29" r="1.75" fill="url(#gO)"/>
<circle cx="69.8" cy="130.89" r="1.75" fill="url(#gO)"/>
<circle cx="67.7" cy="131.39" r="1.75" fill="url(#gO)"/>
<circle cx="78.73" cy="134.96" r="1.75" fill="url(#gO)"/>
<circle cx="79.93" cy="136.56" r="1.75" fill="url(#gO)"/>
<circle cx="77.83" cy="137.06" r="1.75" fill="url(#gO)"/>
<circle cx="86.08" cy="127.49" r="1.75" fill="url(#gO)"/>
<circle cx="87.28" cy="129.09" r="1.75" fill="url(#gO)"/>
<circle cx="85.18" cy="129.59" r="1.75" fill="url(#gO)"/>
<circle cx="97.81" cy="133.03" r="1.75" fill="url(#gO)"/>
<circle cx="99.01" cy="134.63" r="1.75" fill="url(#gO)"/>
<circle cx="96.91" cy="135.13" r="1.75" fill="url(#gO)"/>
<circle cx="104.66" cy="128.15" r="1.75" fill="url(#gO)"/>
<circle cx="105.86" cy="129.75" r="1.75" fill="url(#gO)"/>
<circle cx="103.76" cy="130.25" r="1.75" fill="url(#gO)"/>
<circle cx="116.68" cy="133.28" r="1.75" fill="url(#gO)"/>
<circle cx="117.88" cy="134.88" r="1.75" fill="url(#gO)"/>
<circle cx="115.78" cy="135.38" r="1.75" fill="url(#gO)"/>
<circle cx="123.14" cy="129.07" r="1.75" fill="url(#gO)"/>
<circle cx="124.34" cy="130.67" r="1.75" fill="url(#gO)"/>
<circle cx="122.24" cy="131.17" r="1.75" fill="url(#gO)"/>
<circle cx="134.82" cy="134.88" r="1.75" fill="url(#gO)"/>
<circle cx="136.02" cy="136.48" r="1.75" fill="url(#gO)"/>
<circle cx="133.92" cy="136.98" r="1.75" fill="url(#gO)"/>
<circle cx="144.04" cy="128.09" r="1.75" fill="url(#gO)"/>
<circle cx="145.24" cy="129.69" r="1.75" fill="url(#gO)"/>
<circle cx="143.14" cy="130.19" r="1.75" fill="url(#gO)"/>
<circle cx="154.02" cy="134.01" r="1.75" fill="url(#gO)"/>
<circle cx="155.22" cy="135.61" r="1.75" fill="url(#gO)"/>
<circle cx="153.12" cy="136.11" r="1.75" fill="url(#gO)"/>
<circle cx="44.2" cy="145.46" r="1.75" fill="url(#gO)"/>
<circle cx="45.4" cy="147.06" r="1.75" fill="url(#gO)"/>
<circle cx="43.3" cy="147.56" r="1.75" fill="url(#gO)"/>
<circle cx="54.64" cy="151.17" r="1.75" fill="url(#gO)"/>
<circle cx="55.84" cy="152.77" r="1.75" fill="url(#gO)"/>
<circle cx="53.74" cy="153.27" r="1.75" fill="url(#gO)"/>
<circle cx="63.76" cy="145.28" r="1.75" fill="url(#gO)"/>
<circle cx="64.96" cy="146.88" r="1.75" fill="url(#gO)"/>
<circle cx="62.86" cy="147.38" r="1.75" fill="url(#gO)"/>
<circle cx="73.18" cy="151.37" r="1.75" fill="url(#gO)"/>
<circle cx="74.38" cy="152.97" r="1.75" fill="url(#gO)"/>
<circle cx="72.28" cy="153.47" r="1.75" fill="url(#gO)"/>
<circle cx="80.92" cy="144.87" r="1.75" fill="url(#gO)"/>
<circle cx="82.12" cy="146.47" r="1.75" fill="url(#gO)"/>
<circle cx="80.02" cy="146.97" r="1.75" fill="url(#gO)"/>
<circle cx="93.35" cy="150.98" r="1.75" fill="url(#gO)"/>
<circle cx="94.55" cy="152.58" r="1.75" fill="url(#gO)"/>
<circle cx="92.45" cy="153.08" r="1.75" fill="url(#gO)"/>
<circle cx="100.52" cy="144.29" r="1.75" fill="url(#gO)"/>
<circle cx="101.72" cy="145.89" r="1.75" fill="url(#gO)"/>
<circle cx="99.62" cy="146.39" r="1.75" fill="url(#gO)"/>
<circle cx="110.85" cy="151.09" r="1.75" fill="url(#gO)"/>
<circle cx="112.05" cy="152.69" r="1.75" fill="url(#gO)"/>
<circle cx="109.95" cy="153.19" r="1.75" fill="url(#gO)"/>
<circle cx="118.1" cy="145.5" r="1.75" fill="url(#gO)"/>
<circle cx="119.3" cy="147.1" r="1.75" fill="url(#gO)"/>
<circle cx="117.2" cy="147.6" r="1.75" fill="url(#gO)"/>
<circle cx="130.22" cy="150.05" r="1.75" fill="url(#gO)"/>
<circle cx="131.42" cy="151.65" r="1.75" fill="url(#gO)"/>
<circle cx="129.32" cy="152.15" r="1.75" fill="url(#gO)"/>
<circle cx="138.41" cy="145.2" r="1.75" fill="url(#gO)"/>
<circle cx="139.61" cy="146.8" r="1.75" fill="url(#gO)"/>
<circle cx="137.51" cy="147.3" r="1.75" fill="url(#gO)"/>
<circle cx="149.18" cy="150.64" r="1.75" fill="url(#gO)"/>
<circle cx="150.38" cy="152.24" r="1.75" fill="url(#gO)"/>
<circle cx="148.28" cy="152.74" r="1.75" fill="url(#gO)"/>
<circle cx="48.55" cy="168.34" r="1.75" fill="url(#gO)"/>
<circle cx="49.75" cy="169.94" r="1.75" fill="url(#gO)"/>
<circle cx="47.65" cy="170.44" r="1.75" fill="url(#gO)"/>
<circle cx="55.45" cy="161.35" r="1.75" fill="url(#gO)"/>
<circle cx="56.65" cy="162.95" r="1.75" fill="url(#gO)"/>
<circle cx="54.55" cy="163.45" r="1.75" fill="url(#gO)"/>
<circle cx="67.32" cy="168.79" r="1.75" fill="url(#gO)"/>
<circle cx="68.52" cy="170.39" r="1.75" fill="url(#gO)"/>
<circle cx="66.42" cy="170.89" r="1.75" fill="url(#gO)"/>
<circle cx="74.85" cy="162.15" r="1.75" fill="url(#gO)"/>
<circle cx="76.05" cy="163.75" r="1.75" fill="url(#gO)"/>
<circle cx="73.95" cy="164.25" r="1.75" fill="url(#gO)"/>
<circle cx="85.97" cy="167.51" r="1.75" fill="url(#gO)"/>
<circle cx="87.17" cy="169.11" r="1.75" fill="url(#gO)"/>
<circle cx="85.07" cy="169.61" r="1.75" fill="url(#gO)"/>
<circle cx="93.97" cy="161.86" r="1.75" fill="url(#gO)"/>
<circle cx="95.17" cy="163.46" r="1.75" fill="url(#gO)"/>
<circle cx="93.07" cy="163.96" r="1.75" fill="url(#gO)"/>
<circle cx="104.29" cy="168.06" r="1.75" fill="url(#gO)"/>
<circle cx="105.49" cy="169.66" r="1.75" fill="url(#gO)"/>
<circle cx="103.39" cy="170.16" r="1.75" fill="url(#gO)"/>
<circle cx="112.67" cy="161.99" r="1.75" fill="url(#gO)"/>
<circle cx="113.87" cy="163.59" r="1.75" fill="url(#gO)"/>
<circle cx="111.77" cy="164.09" r="1.75" fill="url(#gO)"/>
<circle cx="124.1" cy="166.92" r="1.75" fill="url(#gO)"/>
<circle cx="125.3" cy="168.52" r="1.75" fill="url(#gO)"/>
<circle cx="123.2" cy="169.02" r="1.75" fill="url(#gO)"/>
<circle cx="132.17" cy="162.7" r="1.75" fill="url(#gO)"/>
<circle cx="133.37" cy="164.3" r="1.75" fill="url(#gO)"/>
<circle cx="131.27" cy="164.8" r="1.75" fill="url(#gO)"/>
<circle cx="141.84" cy="167.31" r="1.75" fill="url(#gO)"/>
<circle cx="143.04" cy="168.91" r="1.75" fill="url(#gO)"/>
<circle cx="140.94" cy="169.41" r="1.75" fill="url(#gO)"/>
<circle cx="151.58" cy="161.71" r="1.75" fill="url(#gO)"/>
<circle cx="152.78" cy="163.31" r="1.75" fill="url(#gO)"/>
<circle cx="150.68" cy="163.81" r="1.75" fill="url(#gO)"/>
<circle cx="41.77" cy="182.64" r="1.75" fill="url(#gO)"/>
<circle cx="42.97" cy="184.24" r="1.75" fill="url(#gO)"/>
<circle cx="40.87" cy="184.74" r="1.75" fill="url(#gO)"/>
<circle cx="50.91" cy="177.34" r="1.75" fill="url(#gO)"/>
<circle cx="52.11" cy="178.94" r="1.75" fill="url(#gO)"/>
<circle cx="50.01" cy="179.44" r="1.75" fill="url(#gO)"/>
<circle cx="60.94" cy="182.43" r="1.75" fill="url(#gO)"/>
<circle cx="62.14" cy="184.03" r="1.75" fill="url(#gO)"/>
<circle cx="60.04" cy="184.53" r="1.75" fill="url(#gO)"/>
<circle cx="70.08" cy="178.01" r="1.75" fill="url(#gO)"/>
<circle cx="71.28" cy="179.61" r="1.75" fill="url(#gO)"/>
<circle cx="69.18" cy="180.11" r="1.75" fill="url(#gO)"/>
<circle cx="81.07" cy="182.11" r="1.75" fill="url(#gO)"/>
<circle cx="82.27" cy="183.71" r="1.75" fill="url(#gO)"/>
<circle cx="80.17" cy="184.21" r="1.75" fill="url(#gO)"/>
<circle cx="87.74" cy="178.43" r="1.75" fill="url(#gO)"/>
<circle cx="88.94" cy="180.03" r="1.75" fill="url(#gO)"/>
<circle cx="86.84" cy="180.53" r="1.75" fill="url(#gO)"/>
<circle cx="99.99" cy="182.67" r="1.75" fill="url(#gO)"/>
<circle cx="101.19" cy="184.27" r="1.75" fill="url(#gO)"/>
<circle cx="99.09" cy="184.77" r="1.75" fill="url(#gO)"/>
<circle cx="106.32" cy="177.38" r="1.75" fill="url(#gO)"/>
<circle cx="107.52" cy="178.98" r="1.75" fill="url(#gO)"/>
<circle cx="105.42" cy="179.48" r="1.75" fill="url(#gO)"/>
<circle cx="117.99" cy="182.15" r="1.75" fill="url(#gO)"/>
<circle cx="119.19" cy="183.75" r="1.75" fill="url(#gO)"/>
<circle cx="117.09" cy="184.25" r="1.75" fill="url(#gO)"/>
<circle cx="126.57" cy="178.81" r="1.75" fill="url(#gO)"/>
<circle cx="127.77" cy="180.41" r="1.75" fill="url(#gO)"/>
<circle cx="125.67" cy="180.91" r="1.75" fill="url(#gO)"/>
<circle cx="136.01" cy="182.32" r="1.75" fill="url(#gO)"/>
<circle cx="137.21" cy="183.92" r="1.75" fill="url(#gO)"/>
<circle cx="135.11" cy="184.42" r="1.75" fill="url(#gO)"/>
<circle cx="145.42" cy="178.42" r="1.75" fill="url(#gO)"/>
<circle cx="146.62" cy="180.02" r="1.75" fill="url(#gO)"/>
<circle cx="144.52" cy="180.52" r="1.75" fill="url(#gO)"/>
<circle cx="156.35" cy="182.46" r="1.75" fill="url(#gO)"/>
<circle cx="157.55" cy="184.06" r="1.75" fill="url(#gO)"/>
<circle cx="155.45" cy="184.56" r="1.75" fill="url(#gO)"/>
<circle cx="40.04" cy="88.68" r="1.75" fill="url(#gO)"/>
<circle cx="41.24" cy="90.28" r="1.75" fill="url(#gO)"/>
<circle cx="39.14" cy="90.78" r="1.75" fill="url(#gO)"/>
<circle cx="60.48" cy="88.64" r="1.75" fill="url(#gO)"/>
<circle cx="61.68" cy="90.24" r="1.75" fill="url(#gO)"/>
<circle cx="59.58" cy="90.74" r="1.75" fill="url(#gO)"/>
<circle cx="78.26" cy="88.93" r="1.75" fill="url(#gO)"/>
<circle cx="79.46" cy="90.53" r="1.75" fill="url(#gO)"/>
<circle cx="77.36" cy="91.03" r="1.75" fill="url(#gO)"/>
<circle cx="97.28" cy="88.92" r="1.75" fill="url(#gO)"/>
<circle cx="98.48" cy="90.52" r="1.75" fill="url(#gO)"/>
<circle cx="96.38" cy="91.02" r="1.75" fill="url(#gO)"/>
<circle cx="117.33" cy="88.41" r="1.75" fill="url(#gO)"/>
<circle cx="118.53" cy="90.01" r="1.75" fill="url(#gO)"/>
<circle cx="116.43" cy="90.51" r="1.75" fill="url(#gO)"/>
<circle cx="133.99" cy="89.99" r="1.75" fill="url(#gO)"/>
<circle cx="135.19" cy="91.59" r="1.75" fill="url(#gO)"/>
<circle cx="133.09" cy="92.09" r="1.75" fill="url(#gO)"/>
<circle cx="154.94" cy="90.07" r="1.75" fill="url(#gO)"/>
<circle cx="156.14" cy="91.67" r="1.75" fill="url(#gO)"/>
<circle cx="154.04" cy="92.17" r="1.75" fill="url(#gO)"/>
<circle cx="54.47" cy="107.3" r="1.75" fill="url(#gO)"/>
<circle cx="55.67" cy="108.9" r="1.75" fill="url(#gO)"/>
<circle cx="53.57" cy="109.4" r="1.75" fill="url(#gO)"/>
<circle cx="74.5" cy="105.84" r="1.75" fill="url(#gO)"/>
<circle cx="75.7" cy="107.44" r="1.75" fill="url(#gO)"/>
<circle cx="73.6" cy="107.94" r="1.75" fill="url(#gO)"/>
<circle cx="92.91" cy="107.07" r="1.75" fill="url(#gO)"/>
<circle cx="94.11" cy="108.67" r="1.75" fill="url(#gO)"/>
<circle cx="92.01" cy="109.17" r="1.75" fill="url(#gO)"/>
<circle cx="111.57" cy="106.44" r="1.75" fill="url(#gO)"/>
<circle cx="112.77" cy="108.04" r="1.75" fill="url(#gO)"/>
<circle cx="110.67" cy="108.54" r="1.75" fill="url(#gO)"/>
<circle cx="129.52" cy="106.08" r="1.75" fill="url(#gO)"/>
<circle cx="130.72" cy="107.68" r="1.75" fill="url(#gO)"/>
<circle cx="128.62" cy="108.18" r="1.75" fill="url(#gO)"/>
<circle cx="148.22" cy="105.54" r="1.75" fill="url(#gO)"/>
<circle cx="149.42" cy="107.14" r="1.75" fill="url(#gO)"/>
<circle cx="147.32" cy="107.64" r="1.75" fill="url(#gO)"/>
<circle cx="47.44" cy="123.27" r="1.75" fill="url(#gO)"/>
<circle cx="48.64" cy="124.87" r="1.75" fill="url(#gO)"/>
<circle cx="46.54" cy="125.37" r="1.75" fill="url(#gO)"/>
<circle cx="66.82" cy="122.79" r="1.75" fill="url(#gO)"/>
<circle cx="68.02" cy="124.39" r="1.75" fill="url(#gO)"/>
<circle cx="65.92" cy="124.89" r="1.75" fill="url(#gO)"/>
<circle cx="85.89" cy="124.09" r="1.75" fill="url(#gO)"/>
<circle cx="87.09" cy="125.69" r="1.75" fill="url(#gO)"/>
<circle cx="84.99" cy="126.19" r="1.75" fill="url(#gO)"/>
<circle cx="104.79" cy="124.49" r="1.75" fill="url(#gO)"/>
<circle cx="105.99" cy="126.09" r="1.75" fill="url(#gO)"/>
<circle cx="103.89" cy="126.59" r="1.75" fill="url(#gO)"/>
<circle cx="123.58" cy="123.85" r="1.75" fill="url(#gO)"/>
<circle cx="124.78" cy="125.45" r="1.75" fill="url(#gO)"/>
<circle cx="122.68" cy="125.95" r="1.75" fill="url(#gO)"/>
<circle cx="140.31" cy="124.19" r="1.75" fill="url(#gO)"/>
<circle cx="141.51" cy="125.79" r="1.75" fill="url(#gO)"/>
<circle cx="139.41" cy="126.29" r="1.75" fill="url(#gO)"/>
<circle cx="41.84" cy="140.2" r="1.75" fill="url(#gO)"/>
<circle cx="43.04" cy="141.8" r="1.75" fill="url(#gO)"/>
<circle cx="40.94" cy="142.3" r="1.75" fill="url(#gO)"/>
<circle cx="61.87" cy="140.65" r="1.75" fill="url(#gO)"/>
<circle cx="63.07" cy="142.25" r="1.75" fill="url(#gO)"/>
<circle cx="60.97" cy="142.75" r="1.75" fill="url(#gO)"/>
<circle cx="80.12" cy="141.48" r="1.75" fill="url(#gO)"/>
<circle cx="81.32" cy="143.08" r="1.75" fill="url(#gO)"/>
<circle cx="79.22" cy="143.58" r="1.75" fill="url(#gO)"/>
<circle cx="99.44" cy="140.28" r="1.75" fill="url(#gO)"/>
<circle cx="100.64" cy="141.88" r="1.75" fill="url(#gO)"/>
<circle cx="98.54" cy="142.38" r="1.75" fill="url(#gO)"/>
<circle cx="117.43" cy="141.32" r="1.75" fill="url(#gO)"/>
<circle cx="118.63" cy="142.92" r="1.75" fill="url(#gO)"/>
<circle cx="116.53" cy="143.42" r="1.75" fill="url(#gO)"/>
<circle cx="136.82" cy="141.16" r="1.75" fill="url(#gO)"/>
<circle cx="138.02" cy="142.76" r="1.75" fill="url(#gO)"/>
<circle cx="135.92" cy="143.26" r="1.75" fill="url(#gO)"/>
<circle cx="155.37" cy="139.99" r="1.75" fill="url(#gO)"/>
<circle cx="156.57" cy="141.59" r="1.75" fill="url(#gO)"/>
<circle cx="154.47" cy="142.09" r="1.75" fill="url(#gO)"/>
<circle cx="55.81" cy="158.23" r="1.75" fill="url(#gO)"/>
<circle cx="57.01" cy="159.83" r="1.75" fill="url(#gO)"/>
<circle cx="54.91" cy="160.33" r="1.75" fill="url(#gO)"/>
<circle cx="73.79" cy="158.18" r="1.75" fill="url(#gO)"/>
<circle cx="74.99" cy="159.78" r="1.75" fill="url(#gO)"/>
<circle cx="72.89" cy="160.28" r="1.75" fill="url(#gO)"/>
<circle cx="94.44" cy="158.21" r="1.75" fill="url(#gO)"/>
<circle cx="95.64" cy="159.81" r="1.75" fill="url(#gO)"/>
<circle cx="93.54" cy="160.31" r="1.75" fill="url(#gO)"/>
<circle cx="113.05" cy="156.62" r="1.75" fill="url(#gO)"/>
<circle cx="114.25" cy="158.22" r="1.75" fill="url(#gO)"/>
<circle cx="112.15" cy="158.72" r="1.75" fill="url(#gO)"/>
<circle cx="131.43" cy="158.33" r="1.75" fill="url(#gO)"/>
<circle cx="132.63" cy="159.93" r="1.75" fill="url(#gO)"/>
<circle cx="130.53" cy="160.43" r="1.75" fill="url(#gO)"/>
<circle cx="148.89" cy="157.14" r="1.75" fill="url(#gO)"/>
<circle cx="150.09" cy="158.74" r="1.75" fill="url(#gO)"/>
<circle cx="147.99" cy="159.24" r="1.75" fill="url(#gO)"/>
<circle cx="48.37" cy="174.55" r="1.75" fill="url(#gO)"/>
<circle cx="49.57" cy="176.15" r="1.75" fill="url(#gO)"/>
<circle cx="47.47" cy="176.65" r="1.75" fill="url(#gO)"/>
<circle cx="67.59" cy="174.45" r="1.75" fill="url(#gO)"/>
<circle cx="68.79" cy="176.05" r="1.75" fill="url(#gO)"/>
<circle cx="66.69" cy="176.55" r="1.75" fill="url(#gO)"/>
<circle cx="87.29" cy="173.5" r="1.75" fill="url(#gO)"/>
<circle cx="88.49" cy="175.1" r="1.75" fill="url(#gO)"/>
<circle cx="86.39" cy="175.6" r="1.75" fill="url(#gO)"/>
<circle cx="104.41" cy="173.75" r="1.75" fill="url(#gO)"/>
<circle cx="105.61" cy="175.35" r="1.75" fill="url(#gO)"/>
<circle cx="103.51" cy="175.85" r="1.75" fill="url(#gO)"/>
<circle cx="123.42" cy="173.64" r="1.75" fill="url(#gO)"/>
<circle cx="124.62" cy="175.24" r="1.75" fill="url(#gO)"/>
<circle cx="122.52" cy="175.74" r="1.75" fill="url(#gO)"/>
<circle cx="144.31" cy="175.21" r="1.75" fill="url(#gO)"/>
<circle cx="145.51" cy="176.81" r="1.75" fill="url(#gO)"/>
<circle cx="143.41" cy="177.31" r="1.75" fill="url(#gO)"/>
<circle cx="43.03" cy="188.4" r="1.75" fill="url(#gO)"/>
<circle cx="44.23" cy="190" r="1.75" fill="url(#gO)"/>
<circle cx="42.13" cy="190.5" r="1.75" fill="url(#gO)"/>
<circle cx="62.43" cy="188.03" r="1.75" fill="url(#gO)"/>
<circle cx="63.63" cy="189.63" r="1.75" fill="url(#gO)"/>
<circle cx="61.53" cy="190.13" r="1.75" fill="url(#gO)"/>
<circle cx="81.37" cy="188.69" r="1.75" fill="url(#gO)"/>
<circle cx="82.57" cy="190.29" r="1.75" fill="url(#gO)"/>
<circle cx="80.47" cy="190.79" r="1.75" fill="url(#gO)"/>
<circle cx="100.78" cy="188.12" r="1.75" fill="url(#gO)"/>
<circle cx="101.98" cy="189.72" r="1.75" fill="url(#gO)"/>
<circle cx="99.88" cy="190.22" r="1.75" fill="url(#gO)"/>
<circle cx="118.68" cy="188.06" r="1.75" fill="url(#gO)"/>
<circle cx="119.88" cy="189.66" r="1.75" fill="url(#gO)"/>
<circle cx="117.78" cy="190.16" r="1.75" fill="url(#gO)"/>
<circle cx="137.37" cy="188.51" r="1.75" fill="url(#gO)"/>
<circle cx="138.57" cy="190.11" r="1.75" fill="url(#gO)"/>
<circle cx="136.47" cy="190.61" r="1.75" fill="url(#gO)"/>
<circle cx="31.6" cy="35.6" r="4.1" fill="#34b0b0"/>
<circle cx="31.4" cy="33.4" r="4.3" fill="#44c4c4"/>
<circle cx="31.2" cy="31.2" r="4.5" fill="url(#gCe)"/>
<circle cx="50.45" cy="35.6" r="4.1" fill="#34b0b0"/>
<circle cx="50.25" cy="33.4" r="4.3" fill="#44c4c4"/>
<circle cx="50.05" cy="31.2" r="4.5" fill="url(#gCe)"/>
<circle cx="69.3" cy="35.6" r="4.1" fill="#34b0b0"/>
<circle cx="69.1" cy="33.4" r="4.3" fill="#44c4c4"/>
<circle cx="68.9" cy="31.2" r="4.5" fill="url(#gCe)"/>
<circle cx="88.15" cy="35.6" r="4.1" fill="#34b0b0"/>
<circle cx="87.95" cy="33.4" r="4.3" fill="#44c4c4"/>
<circle cx="87.75" cy="31.2" r="4.5" fill="url(#gCe)"/>
<circle cx="107" cy="35.6" r="4.1" fill="#34b0b0"/>
<circle cx="106.8" cy="33.4" r="4.3" fill="#44c4c4"/>
<circle cx="106.6" cy="31.2" r="4.5" fill="url(#gCe)"/>
<circle cx="125.85" cy="35.6" r="4.1" fill="#34b0b0"/>
<circle cx="125.65" cy="33.4" r="4.3" fill="#44c4c4"/>
<circle cx="125.45" cy="31.2" r="4.5" fill="url(#gCe)"/>
<circle cx="144.7" cy="35.6" r="4.1" fill="#34b0b0"/>
<circle cx="144.5" cy="33.4" r="4.3" fill="#44c4c4"/>
<circle cx="144.3" cy="31.2" r="4.5" fill="url(#gCe)"/>
<circle cx="43.9" cy="56.1" r="4.1" fill="#34b0b0"/>
<circle cx="43.7" cy="53.9" r="4.3" fill="#44c4c4"/>
<circle cx="43.5" cy="51.7" r="4.5" fill="url(#gCe)"/>
<circle cx="62.75" cy="56.1" r="4.1" fill="#34b0b0"/>
<circle cx="62.55" cy="53.9" r="4.3" fill="#44c4c4"/>
<circle cx="62.35" cy="51.7" r="4.5" fill="url(#gCe)"/>
<circle cx="81.6" cy="56.1" r="4.1" fill="#34b0b0"/>
<circle cx="81.4" cy="53.9" r="4.3" fill="#44c4c4"/>
<circle cx="81.2" cy="51.7" r="4.5" fill="url(#gCe)"/>
<circle cx="100.45" cy="56.1" r="4.1" fill="#34b0b0"/>
<circle cx="100.25" cy="53.9" r="4.3" fill="#44c4c4"/>
<circle cx="100.05" cy="51.7" r="4.5" fill="url(#gCe)"/>
<circle cx="119.3" cy="56.1" r="4.1" fill="#34b0b0"/>
<circle cx="119.1" cy="53.9" r="4.3" fill="#44c4c4"/>
<circle cx="118.9" cy="51.7" r="4.5" fill="url(#gCe)"/>
<circle cx="138.15" cy="56.1" r="4.1" fill="#34b0b0"/>
<circle cx="137.95" cy="53.9" r="4.3" fill="#44c4c4"/>
<circle cx="137.75" cy="51.7" r="4.5" fill="url(#gCe)"/>
<circle cx="37.8" cy="76.5" r="4.1" fill="#34b0b0"/>
<circle cx="37.6" cy="74.3" r="4.3" fill="#44c4c4"/>
<circle cx="37.4" cy="72.1" r="4.5" fill="url(#gCe)"/>
<circle cx="56.65" cy="76.5" r="4.1" fill="#34b0b0"/>
<circle cx="56.45" cy="74.3" r="4.3" fill="#44c4c4"/>
<circle cx="56.25" cy="72.1" r="4.5" fill="url(#gCe)"/>
<circle cx="75.5" cy="76.5" r="4.1" fill="#34b0b0"/>
<circle cx="75.3" cy="74.3" r="4.3" fill="#44c4c4"/>
<circle cx="75.1" cy="72.1" r="4.5" fill="url(#gCe)"/>
<circle cx="94.35" cy="76.5" r="4.1" fill="#34b0b0"/>
<circle cx="94.15" cy="74.3" r="4.3" fill="#44c4c4"/>
<circle cx="93.95" cy="72.1" r="4.5" fill="url(#gCe)"/>
<circle cx="113.2" cy="76.5" r="4.1" fill="#34b0b0"/>
<circle cx="113" cy="74.3" r="4.3" fill="#44c4c4"/>
<circle cx="112.8" cy="72.1" r="4.5" fill="url(#gCe)"/>
<circle cx="132.05" cy="76.5" r="4.1" fill="#34b0b0"/>
<circle cx="131.85" cy="74.3" r="4.3" fill="#44c4c4"/>
<circle cx="131.65" cy="72.1" r="4.5" fill="url(#gCe)"/>
<circle cx="150.9" cy="76.5" r="4.1" fill="#34b0b0"/>
<circle cx="150.7" cy="74.3" r="4.3" fill="#44c4c4"/>
<circle cx="150.5" cy="72.1" r="4.5" fill="url(#gCe)"/>
<circle cx="31.4" cy="91.4" r="4.0" fill="#6262b0"/>
<circle cx="30.6" cy="90.2" r="4.3" fill="url(#gHf)"/>
<circle cx="50.25" cy="91.4" r="4.0" fill="#6262b0"/>
<circle cx="49.45" cy="90.2" r="4.3" fill="url(#gHf)"/>
<circle cx="69.1" cy="91.4" r="4.0" fill="#6262b0"/>
<circle cx="68.3" cy="90.2" r="4.3" fill="url(#gHf)"/>
<circle cx="87.95" cy="91.4" r="4.0" fill="#6262b0"/>
<circle cx="87.15" cy="90.2" r="4.3" fill="url(#gHf)"/>
<circle cx="106.8" cy="91.4" r="4.0" fill="#6262b0"/>
<circle cx="106" cy="90.2" r="4.3" fill="url(#gHf)"/>
<circle cx="125.65" cy="91.4" r="4.0" fill="#6262b0"/>
<circle cx="124.85" cy="90.2" r="4.3" fill="url(#gHf)"/>
<circle cx="144.5" cy="91.4" r="4.0" fill="#6262b0"/>
<circle cx="143.7" cy="90.2" r="4.3" fill="url(#gHf)"/>
<circle cx="45.1" cy="108.7" r="4.0" fill="#6262b0"/>
<circle cx="44.3" cy="107.5" r="4.3" fill="url(#gHf)"/>
<circle cx="63.95" cy="108.7" r="4.0" fill="#6262b0"/>
<circle cx="63.15" cy="107.5" r="4.3" fill="url(#gHf)"/>
<circle cx="82.8" cy="108.7" r="4.0" fill="#6262b0"/>
<circle cx="82" cy="107.5" r="4.3" fill="url(#gHf)"/>
<circle cx="101.65" cy="108.7" r="4.0" fill="#6262b0"/>
<circle cx="100.85" cy="107.5" r="4.3" fill="url(#gHf)"/>
<circle cx="120.5" cy="108.7" r="4.0" fill="#6262b0"/>
<circle cx="119.7" cy="107.5" r="4.3" fill="url(#gHf)"/>
<circle cx="139.35" cy="108.7" r="4.0" fill="#6262b0"/>
<circle cx="138.55" cy="107.5" r="4.3" fill="url(#gHf)"/>
<circle cx="37.7" cy="126" r="4.0" fill="#6262b0"/>
<circle cx="36.9" cy="124.8" r="4.3" fill="url(#gHf)"/>
<circle cx="56.55" cy="126" r="4.0" fill="#6262b0"/>
<circle cx="55.75" cy="124.8" r="4.3" fill="url(#gHf)"/>
<circle cx="75.4" cy="126" r="4.0" fill="#6262b0"/>
<circle cx="74.6" cy="124.8" r="4.3" fill="url(#gHf)"/>
<circle cx="94.25" cy="126" r="4.0" fill="#6262b0"/>
<circle cx="93.45" cy="124.8" r="4.3" fill="url(#gHf)"/>
<circle cx="113.1" cy="126" r="4.0" fill="#6262b0"/>
<circle cx="112.3" cy="124.8" r="4.3" fill="url(#gHf)"/>
<circle cx="131.95" cy="126" r="4.0" fill="#6262b0"/>
<circle cx="131.15" cy="124.8" r="4.3" fill="url(#gHf)"/>
<circle cx="150.8" cy="126" r="4.0" fill="#6262b0"/>
<circle cx="150" cy="124.8" r="4.3" fill="url(#gHf)"/>
<circle cx="33.1" cy="142.9" r="4.0" fill="#6262b0"/>
<circle cx="32.3" cy="141.7" r="4.3" fill="url(#gHf)"/>
<circle cx="51.95" cy="142.9" r="4.0" fill="#6262b0"/>
<circle cx="51.15" cy="141.7" r="4.3" fill="url(#gHf)"/>
<circle cx="70.8" cy="142.9" r="4.0" fill="#6262b0"/>
<circle cx="70" cy="141.7" r="4.3" fill="url(#gHf)"/>
<circle cx="89.65" cy="142.9" r="4.0" fill="#6262b0"/>
<circle cx="88.85" cy="141.7" r="4.3" fill="url(#gHf)"/>
<circle cx="108.5" cy="142.9" r="4.0" fill="#6262b0"/>
<circle cx="107.7" cy="141.7" r="4.3" fill="url(#gHf)"/>
<circle cx="127.35" cy="142.9" r="4.0" fill="#6262b0"/>
<circle cx="126.55" cy="141.7" r="4.3" fill="url(#gHf)"/>
<circle cx="146.2" cy="142.9" r="4.0" fill="#6262b0"/>
<circle cx="145.4" cy="141.7" r="4.3" fill="url(#gHf)"/>
<circle cx="46.2" cy="159.9" r="4.0" fill="#6262b0"/>
<circle cx="45.4" cy="158.7" r="4.3" fill="url(#gHf)"/>
<circle cx="65.05" cy="159.9" r="4.0" fill="#6262b0"/>
<circle cx="64.25" cy="158.7" r="4.3" fill="url(#gHf)"/>
<circle cx="83.9" cy="159.9" r="4.0" fill="#6262b0"/>
<circle cx="83.1" cy="158.7" r="4.3" fill="url(#gHf)"/>
<circle cx="102.75" cy="159.9" r="4.0" fill="#6262b0"/>
<circle cx="101.95" cy="158.7" r="4.3" fill="url(#gHf)"/>
<circle cx="121.6" cy="159.9" r="4.0" fill="#6262b0"/>
<circle cx="120.8" cy="158.7" r="4.3" fill="url(#gHf)"/>
<circle cx="140.45" cy="159.9" r="4.0" fill="#6262b0"/>
<circle cx="139.65" cy="158.7" r="4.3" fill="url(#gHf)"/>
<circle cx="39.4" cy="176.8" r="4.0" fill="#6262b0"/>
<circle cx="38.6" cy="175.6" r="4.3" fill="url(#gHf)"/>
<circle cx="58.25" cy="176.8" r="4.0" fill="#6262b0"/>
<circle cx="57.45" cy="175.6" r="4.3" fill="url(#gHf)"/>
<circle cx="77.1" cy="176.8" r="4.0" fill="#6262b0"/>
<circle cx="76.3" cy="175.6" r="4.3" fill="url(#gHf)"/>
<circle cx="95.95" cy="176.8" r="4.0" fill="#6262b0"/>
<circle cx="95.15" cy="175.6" r="4.3" fill="url(#gHf)"/>
<circle cx="114.8" cy="176.8" r="4.0" fill="#6262b0"/>
<circle cx="114" cy="175.6" r="4.3" fill="url(#gHf)"/>
<circle cx="133.65" cy="176.8" r="4.0" fill="#6262b0"/>
<circle cx="132.85" cy="175.6" r="4.3" fill="url(#gHf)"/>
<circle cx="152.5" cy="176.8" r="4.0" fill="#6262b0"/>
<circle cx="151.7" cy="175.6" r="4.3" fill="url(#gHf)"/>
<circle cx="34.5" cy="190.7" r="4.0" fill="#6262b0"/>
<circle cx="33.7" cy="189.5" r="4.3" fill="url(#gHf)"/>
<circle cx="53.35" cy="190.7" r="4.0" fill="#6262b0"/>
<circle cx="52.55" cy="189.5" r="4.3" fill="url(#gHf)"/>
<circle cx="72.2" cy="190.7" r="4.0" fill="#6262b0"/>
<circle cx="71.4" cy="189.5" r="4.3" fill="url(#gHf)"/>
<circle cx="91.05" cy="190.7" r="4.0" fill="#6262b0"/>
<circle cx="90.25" cy="189.5" r="4.3" fill="url(#gHf)"/>
<circle cx="109.9" cy="190.7" r="4.0" fill="#6262b0"/>
<circle cx="109.1" cy="189.5" r="4.3" fill="url(#gHf)"/>
<circle cx="128.75" cy="190.7" r="4.0" fill="#6262b0"/>
<circle cx="127.95" cy="189.5" r="4.3" fill="url(#gHf)"/>
<circle cx="147.6" cy="190.7" r="4.0" fill="#6262b0"/>
<circle cx="146.8" cy="189.5" r="4.3" fill="url(#gHf)"/>
</g>
<rect x="158.2" y="30" width="126.6" height="162.4" fill="url(#gBarBg)"/>
<line x1="158.2" y1="30" x2="284.8" y2="30" stroke="#777" stroke-width="1"/>
<line x1="158.2" y1="29.5" x2="158.2" y2="193" stroke="#555" stroke-width="1.2"/>
<line x1="181.85" y1="30" x2="181.85" y2="32" stroke="#555" stroke-width="0.8"/>
<line x1="205.5" y1="30" x2="205.5" y2="32" stroke="#555" stroke-width="0.8"/>
<line x1="229.15" y1="30" x2="229.15" y2="32" stroke="#555" stroke-width="0.8"/>
<line x1="252.8" y1="30" x2="252.8" y2="32" stroke="#555" stroke-width="0.8"/>
<line x1="276.45" y1="30" x2="276.45" y2="32" stroke="#555" stroke-width="0.8"/>
<text x="159.8" y="24.8" font-size="8.2" text-anchor="middle">0</text>
<text x="181.85" y="24.8" font-size="8.2" text-anchor="middle">0.5</text>
<text x="205.5" y="24.8" font-size="8.2" text-anchor="middle">1</text>
<text x="229.15" y="24.8" font-size="8.2" text-anchor="middle">1.5</text>
<text x="252.8" y="24.8" font-size="8.2" text-anchor="middle">2</text>
<text x="276.45" y="24.8" font-size="8.2" text-anchor="middle">2.5</text>
<text x="135.5" y="8.7" font-size="11.6"><tspan>V</tspan><tspan dy="3.25" font-size="8.35">O</tspan><tspan dy="-3.25"> diffusion energy barrier (eV)</tspan></text>
<rect x="158.2" y="44.8" width="22.7" height="10.2" fill="url(#gCyanBar)" stroke="#9adede" stroke-width="0.6"/>
<text x="183.5" y="52.2" font-size="6.2" fill="#222">0.48</text>
<rect x="158.2" y="65.4" width="39.26" height="10.2" fill="url(#gCyanBar)" stroke="#9adede" stroke-width="0.6"/>
<text x="200.06" y="72.8" font-size="6.2" fill="#222">0.83</text>
<rect x="158.2" y="89.2" width="10.41" height="10.2" fill="url(#gPurBar)" stroke="#c8a8e8" stroke-width="0.6"/>
<text x="171.21" y="96.6" font-size="6.2" fill="#222">0.22</text>
<rect x="158.2" y="109.8" width="41.62" height="10.2" fill="url(#gPurBar)" stroke="#c8a8e8" stroke-width="0.6"/>
<text x="202.42" y="117.2" font-size="6.2" fill="#222">0.88</text>
<rect x="158.2" y="130.5" width="45.41" height="10.2" fill="url(#gPurBar)" stroke="#c8a8e8" stroke-width="0.6"/>
<text x="206.21" y="137.9" font-size="6.2" fill="#222">0.96</text>
<rect x="158.2" y="151.1" width="43.52" height="10.2" fill="url(#gPurBar)" stroke="#c8a8e8" stroke-width="0.6"/>
<text x="204.32" y="158.5" font-size="6.2" fill="#222">0.92</text>
<rect x="158.2" y="171.5" width="108.79" height="10.2" fill="#d8d0e0" stroke="#c4bccc" stroke-width="0.6"/>
<text x="269.59" y="178.9" font-size="6.2" fill="#222">2.3</text>
<text x="243.5" y="45.4" font-size="13.2"><tspan>CeO</tspan><tspan dy="3.7" font-size="9.5">2-</tspan><tspan font-size="9.5" font-style="italic">x</tspan></text>
<text x="250" y="96.2" font-size="13.2"><tspan>HfO</tspan><tspan dy="3.7" font-size="9.5">2</tspan></text>
<text x="225" y="124.8" font-size="12.4"><tspan>V</tspan><tspan dy="3.47" font-size="8.93">O</tspan><tspan dy="-3.47"> active</tspan></text>
<text x="250.5" y="137.5" font-size="12.4" text-anchor="middle">zone</text>
<path d="M219.5 89.5 Q223 89.5 223 93 L223 121 Q223 124.5 225.5 124.8 Q223 125.1 223 128.6 L223 156.5 Q223 160 219.5 160" fill="none" stroke="#222" stroke-width="1"/>
<text x="4.2" y="214.8" font-size="17" font-weight="bold" font-family="Liberation Serif">b</text>
<text x="90.3" y="213" font-size="11.4" text-anchor="middle"><tspan>CeO</tspan><tspan dy="3.19" font-size="8.21">2-</tspan><tspan font-size="8.21" font-style="italic">x</tspan><tspan dy="-3.19">/HfO</tspan><tspan dy="3.19" font-size="8.21">2</tspan></text>
<text x="225.6" y="212.3" font-size="11.4" text-anchor="middle"><tspan>Bare HfO</tspan><tspan dy="3.19" font-size="8.21">2</tspan></text>
<path d="M33.1 233.5 L47.5 218.5 L140.9 218.5 L126.5 233.5Z" fill="#d6d6d6"/>
<rect x="33.1" y="233.5" width="93.4" height="14.7" fill="#c1c7b5"/>
<path d="M126.5 233.5 L140.9 218.5 L140.9 233.2 L126.5 248.2Z" fill="#bcc0b6"/>
<rect x="33.1" y="248.2" width="93.4" height="15.4" fill="#c9e2b6"/>
<path d="M126.5 248.2 L140.9 233.2 L140.9 248.6 L126.5 263.6Z" fill="#bcd6a6"/>
<rect x="33.1" y="263.6" width="93.4" height="30.2" fill="#d6e0f2"/>
<path d="M126.5 263.6 L140.9 248.6 L140.9 278.8 L126.5 293.8Z" fill="#c5cde0"/>
<path d="M32.1 319.6 L46.5 304.6 L140.9 304.6 L126.5 319.6Z" fill="#d6d6d6"/>
<rect x="32.1" y="319.6" width="94.4" height="14.3" fill="#c1c7b5"/>
<path d="M126.5 319.6 L140.9 304.6 L140.9 318.9 L126.5 333.9Z" fill="#bcc0b6"/>
<rect x="32.1" y="333.9" width="94.4" height="15.4" fill="#c9e2b6"/>
<path d="M126.5 333.9 L140.9 318.9 L140.9 334.3 L126.5 349.3Z" fill="#bcd6a6"/>
<rect x="32.1" y="349.3" width="94.4" height="30.2" fill="#d6e0f2"/>
<path d="M126.5 349.3 L140.9 334.3 L140.9 364.5 L126.5 379.5Z" fill="#c5cde0"/>
<path d="M166.3 237.2 L180.7 222.2 L271.3 222.2 L256.9 237.2Z" fill="#d6d6d6"/>
<rect x="166.3" y="237.2" width="90.6" height="15.5" fill="#c6c6c6"/>
<path d="M256.9 237.2 L271.3 222.2 L271.3 237.7 L256.9 252.7Z" fill="#bcbcbc"/>
<rect x="166.3" y="252.7" width="90.6" height="31.1" fill="#d6e0f2"/>
<path d="M256.9 252.7 L271.3 237.7 L271.3 268.8 L256.9 283.8Z" fill="#c5cde0"/>
<path d="M166.3 318.2 L180.7 303.2 L271.7 303.2 L257.3 318.2Z" fill="#d6d6d6"/>
<rect x="166.3" y="318.2" width="91" height="15.1" fill="#c6c6c6"/>
<path d="M257.3 318.2 L271.7 303.2 L271.7 318.3 L257.3 333.3Z" fill="#bcbcbc"/>
<rect x="166.3" y="333.3" width="91" height="31.3" fill="#d6e0f2"/>
<path d="M257.3 333.3 L271.7 318.3 L271.7 349.6 L257.3 364.6Z" fill="#c5cde0"/>
<rect x="26.1" y="239.6" width="3.8" height="45.1" fill="#5ec0de"/><path d="M24 283.7 L32 283.7 L28 290.7Z" fill="#5ec0de"/>
<rect x="25.1" y="328.7" width="3.8" height="45.1" fill="#6f6ff6"/><path d="M23 329.7 L31 329.7 L27 322.7Z" fill="#6f6ff6"/>
<rect x="160.8" y="234.3" width="3.8" height="46.6" fill="#5ec0de"/><path d="M158.7 279.9 L166.7 279.9 L162.7 286.9Z" fill="#5ec0de"/>
<rect x="160.4" y="316.4" width="3.8" height="48.8" fill="#6f6ff6"/><path d="M158.3 317.4 L166.3 317.4 L162.3 310.4Z" fill="#6f6ff6"/>
<text x="20.2" y="232" font-size="9.8" font-weight="bold"><tspan>E</tspan><tspan dy="2.74" font-size="7.06">ap</tspan></text>
<text x="19.2" y="317.6" font-size="9.8" font-weight="bold"><tspan>E</tspan><tspan dy="2.74" font-size="7.06">ap</tspan></text>
<text x="157.2" y="230.7" font-size="9.8" font-weight="bold"><tspan>E</tspan><tspan dy="2.74" font-size="7.06">ap</tspan></text>
<text x="158.6" y="310.4" font-size="9.8" font-weight="bold"><tspan>E</tspan><tspan dy="2.74" font-size="7.06">ap</tspan></text>
<text x="34.5" y="246.8" font-size="7.4" font-weight="bold"><tspan>Pt</tspan></text>
<text x="33.1" y="262.7" font-size="7.4" font-weight="bold"><tspan>CeO</tspan><tspan dy="2.07" font-size="5.55">2-</tspan><tspan font-size="5.55" font-style="italic">x</tspan></text>
<text x="34.1" y="290.7" font-size="7.4" font-weight="bold"><tspan>HfO</tspan><tspan dy="2.07" font-size="5.55">2</tspan></text>
<text x="34.5" y="333" font-size="7.4" font-weight="bold"><tspan>Pt</tspan></text>
<text x="32" y="349.3" font-size="7.4" font-weight="bold"><tspan>CeO</tspan><tspan dy="2.07" font-size="5.55">2-</tspan><tspan font-size="5.55" font-style="italic">x</tspan></text>
<text x="33" y="376.9" font-size="7.4" font-weight="bold"><tspan>HfO</tspan><tspan dy="2.07" font-size="5.55">2</tspan></text>
<text x="170.4" y="250" font-size="7.4" font-weight="bold"><tspan>Pt</tspan></text>
<text x="168.8" y="281.7" font-size="7.4" font-weight="bold"><tspan>HfO</tspan><tspan dy="2.07" font-size="5.55">2</tspan></text>
<text x="170" y="331.9" font-size="7.4" font-weight="bold"><tspan>Pt</tspan></text>
<text x="169.4" y="362.6" font-size="7.4" font-weight="bold"><tspan>HfO</tspan><tspan dy="2.07" font-size="5.55">2</tspan></text>
<g opacity="0.35"><path d="M56.2 259 L58.4 246 L60.6 259Z" fill="url(#gTealC)"/><ellipse cx="58.4" cy="259" rx="2.9" ry="2.5" fill="url(#gTealS)"/></g>
<g opacity="0.45"><path d="M88.9 264.2 L91.1 251.2 L93.3 264.2Z" fill="url(#gTealC)"/><ellipse cx="91.1" cy="264.2" rx="2.9" ry="2.5" fill="url(#gTealS)"/></g>
<g opacity="0.45"><path d="M130.4 255 L132.6 242 L134.8 255Z" fill="url(#gTealC)"/><ellipse cx="132.6" cy="255" rx="2.9" ry="2.5" fill="url(#gTealS)"/></g>
<g opacity="1.0"><path d="M75.2 268.2 L77.4 255.2 L79.6 268.2Z" fill="url(#gTealC)"/><ellipse cx="77.4" cy="268.2" rx="2.9" ry="2.5" fill="url(#gTealS)"/></g>
<g opacity="1.0"><path d="M100.4 267.6 L102.6 254.6 L104.8 267.6Z" fill="url(#gTealC)"/><ellipse cx="102.6" cy="267.6" rx="2.9" ry="2.5" fill="url(#gTealS)"/></g>
<g opacity="1.0"><path d="M52.1 283.6 L54.3 270.6 L56.5 283.6Z" fill="url(#gTealC)"/><ellipse cx="54.3" cy="283.6" rx="2.9" ry="2.5" fill="url(#gTealS)"/></g>
<g opacity="1.0"><path d="M75.2 287.7 L77.4 274.7 L79.6 287.7Z" fill="url(#gTealC)"/><ellipse cx="77.4" cy="287.7" rx="2.9" ry="2.5" fill="url(#gTealS)"/></g>
<line x1="108" y1="278" x2="104.87" y2="272.42" stroke="#111" stroke-width="0.7"/><path d="M103.8 270.5 L105.92 271.83 L103.83 273.01Z" fill="#111"/>
<text x="109" y="282.6" font-size="7.4" text-anchor="middle" font-weight="bold"><tspan>V</tspan><tspan dy="2.07" font-size="5.55">O</tspan></text>
<text x="109" y="288.9" font-size="7.2" text-anchor="middle" font-weight="bold">forward</text>
<g opacity="0.35"><path d="M72.8 341.1 L75 354.1 L77.2 341.1Z" fill="url(#gBlueC2)"/><ellipse cx="75" cy="341.1" rx="2.9" ry="2.5" fill="url(#gBlueS)"/></g>
<g opacity="0.35"><path d="M92.6 339 L94.8 352 L97 339Z" fill="url(#gBlueC2)"/><ellipse cx="94.8" cy="339" rx="2.9" ry="2.5" fill="url(#gBlueS)"/></g>
<g opacity="0.45"><path d="M124.3 345.2 L126.5 358.2 L128.7 345.2Z" fill="url(#gBlueC2)"/><ellipse cx="126.5" cy="345.2" rx="2.9" ry="2.5" fill="url(#gBlueS)"/></g>
<g opacity="1.0"><path d="M60.3 355.4 L62.5 368.4 L64.7 355.4Z" fill="url(#gBlueC2)"/><ellipse cx="62.5" cy="355.4" rx="2.9" ry="2.5" fill="url(#gBlueS)"/></g>
<g opacity="1.0"><path d="M85.5 353.8 L87.7 366.8 L89.9 353.8Z" fill="url(#gBlueC2)"/><ellipse cx="87.7" cy="353.8" rx="2.9" ry="2.5" fill="url(#gBlueS)"/></g>
<g opacity="1.0"><path d="M111 341.1 L113.2 354.1 L115.4 341.1Z" fill="url(#gBlueC2)"/><ellipse cx="113.2" cy="341.1" rx="2.9" ry="2.5" fill="url(#gBlueS)"/></g>
<g opacity="1.0"><path d="M104.8 366 L107 379 L109.2 366Z" fill="url(#gBlueC2)"/><ellipse cx="107" cy="366" rx="2.9" ry="2.5" fill="url(#gBlueS)"/></g>
<text x="100.5" y="325.8" font-size="7.4" text-anchor="middle" font-weight="bold"><tspan>V</tspan><tspan dy="2.07" font-size="5.55">O</tspan></text>
<text x="101.3" y="332.5" font-size="7.2" text-anchor="middle" font-weight="bold">backward</text>
<line x1="108.5" y1="333.5" x2="110.84" y2="336.47" stroke="#111" stroke-width="0.7"/><path d="M112.2 338.2 L109.9 337.21 L111.78 335.73Z" fill="#111"/>
<text x="85" y="372.2" font-size="6.9" text-anchor="middle" font-weight="bold">High</text>
<text x="85" y="378.3" font-size="6.9" text-anchor="middle" font-weight="bold">mobility</text>
<line x1="94" y1="370" x2="101.89" y2="367.63" stroke="#111" stroke-width="0.7"/><path d="M104 367 L102.24 368.78 L101.55 366.48Z" fill="#111"/>
<g transform="translate(208 248.5) scale(0.95 1)"><path d="M-9 3 Q-6 8 0 7.5 Q6 8 8 4 Z" fill="#8edcbc"/><path d="M-16 1 Q-17 -3 -11 -4 Q-7 -7 -1 -5.5 Q4 -7.5 9 -5 Q15 -5 16 -1.5 Q18 2 12 3.5 Q7 5.5 1 4.5 Q-5 6 -9 4 Q-15 4.5 -16 1Z" fill="#a6c2b6"/><path d="M-12 -1 Q-6 -3.5 0 -1.5 Q5 -3.5 11 -1.5 M-13 2 Q-7 0 -1 2 Q5 0 13 1.5 M-6 -4 Q0 -5.5 6 -3.5" stroke="#8fb0a2" stroke-width="0.7" fill="none"/></g>
<circle cx="226.6" cy="247.6" r="2.7" fill="url(#gPin)"/>
<circle cx="233.8" cy="249" r="2.7" fill="url(#gPin)"/>
<circle cx="243.6" cy="249" r="2.7" fill="url(#gPin)"/>
<text x="203.6" y="227.6" font-size="7.2" text-anchor="middle" font-weight="bold">Paraelectric</text>
<text x="203.6" y="233.1" font-size="7.2" text-anchor="middle" font-weight="bold">phase</text>
<line x1="203" y1="234.5" x2="205.34" y2="241.9" stroke="#111" stroke-width="0.7"/><path d="M206 244 L204.19 242.26 L206.48 241.54Z" fill="#111"/>
<text x="250.2" y="229.6" font-size="7.2" text-anchor="middle" font-weight="bold">Pinned</text>
<text x="249" y="236.8" font-size="7.4" text-anchor="middle" font-weight="bold"><tspan>V</tspan><tspan dy="2.07" font-size="5.55">O</tspan></text>
<line x1="240.5" y1="237" x2="237.48" y2="243.03" stroke="#111" stroke-width="0.7"/><path d="M236.5 245 L236.41 242.5 L238.56 243.57Z" fill="#111"/>
<path d="M184.4 261.3 Q185.3 258.3 186.8 255.8 Q188.3 258.3 189.2 261.3Z" fill="#3aaac4"/><ellipse cx="186.8" cy="261.3" rx="2.6" ry="2.3" fill="url(#gTealS)"/>
<path d="M228.3 262.3 Q229.2 259.3 230.7 256.8 Q232.2 259.3 233.1 262.3Z" fill="#3aaac4"/><ellipse cx="230.7" cy="262.3" rx="2.6" ry="2.3" fill="url(#gTealS)"/>
<path d="M206.9 273.6 Q207.8 270.6 209.3 268.1 Q210.8 270.6 211.7 273.6Z" fill="#3aaac4"/><ellipse cx="209.3" cy="273.6" rx="2.6" ry="2.3" fill="url(#gTealS)"/>
<path d="M242 278.7 Q242.9 275.7 244.4 273.2 Q245.9 275.7 246.8 278.7Z" fill="#3aaac4"/><ellipse cx="244.4" cy="278.7" rx="2.6" ry="2.3" fill="url(#gTealS)"/>
<path d="M258 265.4 Q258.9 262.4 260.4 259.9 Q261.9 262.4 262.8 265.4Z" fill="#3aaac4"/><ellipse cx="260.4" cy="265.4" rx="2.6" ry="2.3" fill="url(#gTealS)"/>
<g transform="translate(215.5 329) scale(1.1 1)"><path d="M-9 3 Q-6 8 0 7.5 Q6 8 8 4 Z" fill="#8edcbc"/><path d="M-16 1 Q-17 -3 -11 -4 Q-7 -7 -1 -5.5 Q4 -7.5 9 -5 Q15 -5 16 -1.5 Q18 2 12 3.5 Q7 5.5 1 4.5 Q-5 6 -9 4 Q-15 4.5 -16 1Z" fill="#a6c2b6"/><path d="M-12 -1 Q-6 -3.5 0 -1.5 Q5 -3.5 11 -1.5 M-13 2 Q-7 0 -1 2 Q5 0 13 1.5 M-6 -4 Q0 -5.5 6 -3.5" stroke="#8fb0a2" stroke-width="0.7" fill="none"/></g>
<circle cx="243" cy="328.4" r="2.7" fill="url(#gPin)"/>
<circle cx="251.6" cy="327.8" r="2.7" fill="url(#gPin)"/>
<circle cx="238.3" cy="332.9" r="2.7" fill="url(#gPinB)"/>
<circle cx="248.7" cy="333.5" r="2.7" fill="url(#gPin)"/>
<text x="204" y="308" font-size="7.2" text-anchor="middle" font-weight="bold">Paraelectric</text>
<text x="204" y="314.1" font-size="7.2" text-anchor="middle" font-weight="bold">phase</text>
<line x1="204" y1="315.5" x2="206.23" y2="321.44" stroke="#111" stroke-width="0.7"/><path d="M207 323.5 L205.1 321.86 L207.35 321.02Z" fill="#111"/>
<text x="250.3" y="310.4" font-size="7.2" text-anchor="middle" font-weight="bold">Pinned</text>
<text x="249.5" y="317" font-size="7.4" text-anchor="middle" font-weight="bold"><tspan>V</tspan><tspan dy="2.07" font-size="5.55">O</tspan></text>
<line x1="248.5" y1="317.5" x2="246.37" y2="322.48" stroke="#111" stroke-width="0.7"/><path d="M245.5 324.5 L245.26 322.01 L247.47 322.95Z" fill="#111"/>
<path d="M174.2 342.7 Q175.1 345.7 176.6 348.2 Q178.1 345.7 179 342.7Z" fill="#4848e0"/><ellipse cx="176.6" cy="342.7" rx="2.6" ry="2.3" fill="url(#gBlueS)"/>
<path d="M197.3 341.1 Q198.2 344.1 199.7 346.6 Q201.2 344.1 202.1 341.1Z" fill="#4848e0"/><ellipse cx="199.7" cy="341.1" rx="2.6" ry="2.3" fill="url(#gBlueS)"/>
<path d="M226.3 341.5 Q227.2 344.5 228.7 347 Q230.2 344.5 231.1 341.5Z" fill="#4848e0"/><ellipse cx="228.7" cy="341.5" rx="2.6" ry="2.3" fill="url(#gBlueS)"/>
<path d="M209.5 350.3 Q210.4 353.3 211.9 355.8 Q213.4 353.3 214.3 350.3Z" fill="#4848e0"/><ellipse cx="211.9" cy="350.3" rx="2.6" ry="2.3" fill="url(#gBlueS)"/>
<path d="M241.6 353.4 Q242.5 356.4 244 358.9 Q245.5 356.4 246.4 353.4Z" fill="#4848e0"/><ellipse cx="244" cy="353.4" rx="2.6" ry="2.3" fill="url(#gBlueS)"/>
<path d="M262.7 335 Q263.6 338 265.1 340.5 Q266.6 338 267.5 335Z" fill="#4848e0"/><ellipse cx="265.1" cy="335" rx="2.6" ry="2.3" fill="url(#gBlueS)"/>
<text x="223.5" y="357.9" font-size="7.2" text-anchor="middle" font-weight="bold">Low</text>
<text x="223.5" y="363.6" font-size="6.9" text-anchor="middle" font-weight="bold">mobility</text>
<line x1="233" y1="361" x2="239.08" y2="357.58" stroke="#111" stroke-width="0.7"/><path d="M241 356.5 L239.67 358.62 L238.49 356.53Z" fill="#111"/>
<text x="-0.5" y="392" font-size="17" font-weight="bold" font-family="Liberation Serif">c</text>
<rect x="39.5" y="391.8" width="234.1" height="148.8" fill="none" stroke="#555" stroke-width="0.9"/>
<line x1="39.5" y1="538.5" x2="42.7" y2="538.5" stroke="#555" stroke-width="0.8"/>
<line x1="39.5" y1="522.25" x2="41.5" y2="522.25" stroke="#555" stroke-width="0.8"/>
<line x1="39.5" y1="506" x2="42.7" y2="506" stroke="#555" stroke-width="0.8"/>
<line x1="39.5" y1="489.75" x2="41.5" y2="489.75" stroke="#555" stroke-width="0.8"/>
<line x1="39.5" y1="473.5" x2="42.7" y2="473.5" stroke="#555" stroke-width="0.8"/>
<line x1="39.5" y1="457.25" x2="41.5" y2="457.25" stroke="#555" stroke-width="0.8"/>
<line x1="39.5" y1="441" x2="42.7" y2="441" stroke="#555" stroke-width="0.8"/>
<line x1="39.5" y1="424.75" x2="41.5" y2="424.75" stroke="#555" stroke-width="0.8"/>
<line x1="39.5" y1="408.5" x2="42.7" y2="408.5" stroke="#555" stroke-width="0.8"/>
<text x="35.4" y="541.6" font-size="8.8" text-anchor="end">0.0</text>
<text x="35.4" y="509.1" font-size="8.8" text-anchor="end">0.1</text>
<text x="35.4" y="476.6" font-size="8.8" text-anchor="end">0.2</text>
<text x="35.4" y="444.1" font-size="8.8" text-anchor="end">0.3</text>
<text x="35.4" y="411.6" font-size="8.8" text-anchor="end">0.4</text>
<text x="19.8" y="465" font-size="11.7" text-anchor="middle" transform="rotate(-90 19.8 465)">Switching barrier (eV/u.c.)</text>
<text x="156.4" y="559.6" font-size="11.5" text-anchor="middle">λ</text>
<path d="M39.5 538.7 C44.37 536.8 58.9 532.68 68.7 527.3 C78.5 521.92 88.5 512.85 98.3 506.4 C108.1 499.95 117.7 492.7 127.5 488.6 C137.3 484.5 147.28 481.8 157.1 481.8 C166.92 481.8 176.72 484.5 186.4 488.6 C196.08 492.7 205.53 499.75 215.2 506.4 C224.87 513.05 234.67 523.12 244.4 528.5 C254.13 533.88 268.73 537 273.6 538.7" fill="none" stroke="#90c878" stroke-width="1.2"/>
<path d="M39.5 538.7 C41.58 537.12 47.88 530.97 52 529.2 C56.12 527.43 60.08 530.07 64.2 528.1 C68.32 526.13 72.6 521.97 76.7 517.4 C80.8 512.83 84.75 506.95 88.8 500.7 C92.85 494.45 96.88 486.92 101 479.9 C105.12 472.88 109.4 465.37 113.5 458.6 C117.6 451.83 121.48 445.37 125.6 439.3 C129.72 433.23 134.02 426.7 138.2 422.2 C142.38 417.7 146.6 413.38 150.7 412.3 C154.8 411.22 158.68 414.05 162.8 415.7 C166.92 417.35 171.28 418.65 175.4 422.2 C179.52 425.75 183.47 430.73 187.5 437 C191.53 443.27 195.48 451.95 199.6 459.8 C203.72 467.65 208.08 476.58 212.2 484.1 C216.32 491.62 220.2 499.08 224.3 504.9 C228.4 510.72 232.68 515.27 236.8 519 C240.92 522.73 244.88 525.03 249 527.3 C253.12 529.57 257.4 530.7 261.5 532.6 C265.6 534.5 271.58 537.68 273.6 538.7" fill="none" stroke="#ec7a98" stroke-width="1.2"/>
<circle cx="39.5" cy="538.7" r="2.9" fill="#6db24e"/>
<circle cx="68.7" cy="527.3" r="2.9" fill="#6db24e"/>
<circle cx="98.3" cy="506.4" r="2.9" fill="#6db24e"/>
<circle cx="127.5" cy="488.6" r="2.9" fill="#6db24e"/>
<circle cx="157.1" cy="481.8" r="2.9" fill="#6db24e"/>
<circle cx="186.4" cy="488.6" r="2.9" fill="#6db24e"/>
<circle cx="215.2" cy="506.4" r="2.9" fill="#6db24e"/>
<circle cx="244.4" cy="528.5" r="2.9" fill="#6db24e"/>
<circle cx="273.6" cy="538.7" r="2.9" fill="#6db24e"/>
<rect x="37.2" y="536.4" width="4.6" height="4.6" fill="#e0406a"/>
<rect x="49.7" y="526.9" width="4.6" height="4.6" fill="#e0406a"/>
<rect x="61.9" y="525.8" width="4.6" height="4.6" fill="#e0406a"/>
<rect x="74.4" y="515.1" width="4.6" height="4.6" fill="#e0406a"/>
<rect x="86.5" y="498.4" width="4.6" height="4.6" fill="#e0406a"/>
<rect x="98.7" y="477.6" width="4.6" height="4.6" fill="#e0406a"/>
<rect x="111.2" y="456.3" width="4.6" height="4.6" fill="#e0406a"/>
<rect x="123.3" y="437" width="4.6" height="4.6" fill="#e0406a"/>
<rect x="135.9" y="419.9" width="4.6" height="4.6" fill="#e0406a"/>
<rect x="148.4" y="410" width="4.6" height="4.6" fill="#e0406a"/>
<rect x="160.5" y="413.4" width="4.6" height="4.6" fill="#e0406a"/>
<rect x="173.1" y="419.9" width="4.6" height="4.6" fill="#e0406a"/>
<rect x="185.2" y="434.7" width="4.6" height="4.6" fill="#e0406a"/>
<rect x="197.3" y="457.5" width="4.6" height="4.6" fill="#e0406a"/>
<rect x="209.9" y="481.8" width="4.6" height="4.6" fill="#e0406a"/>
<rect x="222" y="502.6" width="4.6" height="4.6" fill="#e0406a"/>
<rect x="234.5" y="516.7" width="4.6" height="4.6" fill="#e0406a"/>
<rect x="246.7" y="525" width="4.6" height="4.6" fill="#e0406a"/>
<rect x="259.2" y="530.3" width="4.6" height="4.6" fill="#e0406a"/>
<rect x="271.3" y="536.4" width="4.6" height="4.6" fill="#e0406a"/>
<line x1="190.2" y1="403.3" x2="211.4" y2="403.3" stroke="#ec7a98" stroke-width="1.2"/>
<rect x="198.5" y="401" width="4.6" height="4.6" fill="#e0406a"/>
<text x="215" y="406.7" font-size="9.8" font-weight="bold"><tspan>HfO</tspan><tspan dy="2.74" font-size="7.06">2</tspan></text>
<line x1="190.2" y1="417.6" x2="211.4" y2="417.6" stroke="#90c878" stroke-width="1.2"/>
<circle cx="200.8" cy="417.6" r="2.9" fill="#6db24e"/>
<text x="215" y="420.6" font-size="9.8" font-weight="bold"><tspan>CeO</tspan><tspan dy="2.74" font-size="7.06">2-</tspan><tspan font-size="7.06" font-style="italic">x</tspan><tspan dy="-2.74">/HfO</tspan><tspan dy="2.74" font-size="7.06">2</tspan></text>
<text x="306.6" y="14.8" font-size="17" font-weight="bold" font-family="Liberation Serif">d</text>
<g clip-path="url(#cStem)">
<rect x="325.2" y="29.3" width="127.5" height="221" fill="url(#gStemBase)"/>
<rect x="325.2" y="29.3" width="127.5" height="221" filter="url(#fNoiseG)" opacity="0.14"/>
<rect x="325.2" y="210" width="127.5" height="2.82" fill="#a8a8a8" opacity="0.25"/>
<rect x="325.2" y="212.82" width="127.5" height="3" fill="#505050" opacity="0.29"/>
<rect x="325.2" y="215.82" width="127.5" height="2.94" fill="#a8a8a8" opacity="0.29"/>
<rect x="325.2" y="218.76" width="127.5" height="2.23" fill="#505050" opacity="0.2"/>
<rect x="325.2" y="220.99" width="127.5" height="3.14" fill="#a8a8a8" opacity="0.24"/>
<rect x="325.2" y="224.13" width="127.5" height="3.1" fill="#505050" opacity="0.14"/>
<rect x="325.2" y="227.23" width="127.5" height="2.67" fill="#a8a8a8" opacity="0.16"/>
<rect x="325.2" y="229.9" width="127.5" height="2.74" fill="#505050" opacity="0.22"/>
<rect x="325.2" y="232.64" width="127.5" height="2.21" fill="#a8a8a8" opacity="0.16"/>
<rect x="325.2" y="234.86" width="127.5" height="2.48" fill="#505050" opacity="0.28"/>
<rect x="325.2" y="237.34" width="127.5" height="2.97" fill="#a8a8a8" opacity="0.15"/>
<rect x="325.2" y="240.3" width="127.5" height="3" fill="#505050" opacity="0.14"/>
<rect x="325.2" y="243.3" width="127.5" height="2.82" fill="#a8a8a8" opacity="0.14"/>
<rect x="325.2" y="246.12" width="127.5" height="2.2" fill="#505050" opacity="0.28"/>
<rect x="325.2" y="248.32" width="127.5" height="2.41" fill="#a8a8a8" opacity="0.16"/>
<rect x="325.2" y="29.3" width="127.5" height="221" fill="url(#pStem)" mask="url(#mStemDots)" opacity="1"/>
</g>
<rect x="375.5" y="30.2" width="67" height="219.4" fill="none" stroke="#f0b020" stroke-width="1.2" stroke-dasharray="3 1.6"/>
<rect x="386.5" y="31" width="42.3" height="42.3" fill="none" stroke="#fff" stroke-width="1" stroke-dasharray="2.6 1.4"/>
<rect x="386.2" y="134.5" width="42.5" height="42.5" fill="none" stroke="#fff" stroke-width="1" stroke-dasharray="2.6 1.4"/>
<text x="389.3" y="43.2" font-size="13" fill="#fff" font-weight="bold" font-family="Liberation Serif">I</text>
<text x="388.3" y="146.3" font-size="13" fill="#fff" font-weight="bold" font-family="Liberation Serif">II</text>
<rect x="328.7" y="244.3" width="38.1" height="2.3" fill="#fff"/>
<g clip-path="url(#cCe)">
<rect x="457.4" y="27.2" width="67.4" height="220.3" fill="#000"/>
<g mask="url(#mCe)"><rect x="457.4" y="27.2" width="67.4" height="220.3" fill="#00b8b8" opacity="0.45"/><rect x="457.4" y="27.2" width="67.4" height="220.3" fill="url(#pCe)" opacity="1"/><rect x="457.4" y="27.2" width="67.4" height="220.3" fill="#20ffff" filter="url(#fNoise)" opacity="0.85"/></g>
<rect x="457.4" y="90" width="67.4" height="130" fill="#10d0d0" filter="url(#fSparse)" mask="url(#mCeLow)" opacity="0.45"/>
</g>
<rect x="461" y="241.3" width="19.2" height="2.2" fill="#fff"/>
<text x="459.3" y="40.2" font-size="14" fill="#20e4e4" font-weight="bold" font-family="Liberation Serif">Ce</text>
<g clip-path="url(#cHf)">
<rect x="528.9" y="27.2" width="67.9" height="220.3" fill="#000"/>
<g mask="url(#mHf)"><rect x="528.9" y="27.2" width="67.9" height="220.3" fill="#c810d4" opacity="0.88"/><rect x="528.9" y="27.2" width="67.9" height="220.3" fill="url(#pHf)" opacity="0.55"/><rect x="528.9" y="27.2" width="67.9" height="220.3" fill="#ff30ff" filter="url(#fNoise)" opacity="0.5"/></g>
</g>
<rect x="532.8" y="241.3" width="19" height="2.2" fill="#fff"/>
<text x="531.8" y="40.8" font-size="14" fill="#ee10ee" font-weight="bold" font-family="Liberation Serif">Hf</text>
<line x1="325.5" y1="93.3" x2="596.3" y2="93.3" stroke="#ff1a1a" stroke-width="1.3" stroke-dasharray="1.3 1.3"/>
<g clip-path="url(#cI)">
<linearGradient id="gcI" x1="0" y1="0" x2="0" y2="1"><stop offset="0" stop-color="#0a0a0a"/><stop offset="0.25" stop-color="#141414"/><stop offset="0.45" stop-color="#282828"/><stop offset="1" stop-color="#333"/></linearGradient>
<rect x="603.7" y="27.1" width="72.3" height="72.3" fill="url(#gcI)"/>
<rect x="603.7" y="27.1" width="72.3" height="72.3" filter="url(#fNoiseG)" opacity="0.18"/>
<circle cx="599.6" cy="47.2" r="3.1" fill="url(#gDot)" opacity="0.3"/>
<circle cx="609.9" cy="47.2" r="3.1" fill="url(#gDot)" opacity="0.3"/>
<circle cx="620.2" cy="47.2" r="3.1" fill="url(#gDot)" opacity="0.3"/>
<circle cx="630.5" cy="47.2" r="3.1" fill="url(#gDot)" opacity="0.3"/>
<circle cx="640.8" cy="47.2" r="3.1" fill="url(#gDot)" opacity="0.3"/>
<circle cx="651.1" cy="47.2" r="3.1" fill="url(#gDot)" opacity="0.3"/>
<circle cx="661.4" cy="47.2" r="3.1" fill="url(#gDot)" opacity="0.3"/>
<circle cx="671.7" cy="47.2" r="3.1" fill="url(#gDot)" opacity="0.3"/>
<circle cx="592.5" cy="56.4" r="3.1" fill="url(#gDot)" opacity="0.8"/>
<circle cx="602.8" cy="56.4" r="3.1" fill="url(#gDot)" opacity="0.8"/>
<circle cx="613.1" cy="56.4" r="3.1" fill="url(#gDot)" opacity="0.8"/>
<circle cx="623.4" cy="56.4" r="3.1" fill="url(#gDot)" opacity="0.8"/>
<circle cx="633.7" cy="56.4" r="3.1" fill="url(#gDot)" opacity="0.8"/>
<circle cx="644" cy="56.4" r="3.1" fill="url(#gDot)" opacity="0.8"/>
<circle cx="654.3" cy="56.4" r="3.1" fill="url(#gDot)" opacity="0.8"/>
<circle cx="664.6" cy="56.4" r="3.1" fill="url(#gDot)" opacity="0.8"/>
<circle cx="674.9" cy="56.4" r="3.1" fill="url(#gDot)" opacity="0.8"/>
<circle cx="595.2" cy="66" r="3.1" fill="url(#gDot)" opacity="0.95"/>
<circle cx="605.5" cy="66" r="3.1" fill="url(#gDot)" opacity="0.95"/>
<circle cx="615.8" cy="66" r="3.1" fill="url(#gDot)" opacity="0.95"/>
<circle cx="626.1" cy="66" r="3.1" fill="url(#gDot)" opacity="0.95"/>
<circle cx="636.4" cy="66" r="3.1" fill="url(#gDot)" opacity="0.95"/>
<circle cx="646.7" cy="66" r="3.1" fill="url(#gDot)" opacity="0.95"/>
<circle cx="657" cy="66" r="3.1" fill="url(#gDot)" opacity="0.95"/>
<circle cx="667.3" cy="66" r="3.1" fill="url(#gDot)" opacity="0.95"/>
<circle cx="677.6" cy="66" r="3.1" fill="url(#gDot)" opacity="0.95"/>
<circle cx="598.4" cy="75.6" r="3.1" fill="url(#gDot)" opacity="1"/>
<circle cx="608.7" cy="75.6" r="3.1" fill="url(#gDot)" opacity="1"/>
<circle cx="619" cy="75.6" r="3.1" fill="url(#gDot)" opacity="1"/>
<circle cx="629.3" cy="75.6" r="3.1" fill="url(#gDot)" opacity="1"/>
<circle cx="639.6" cy="75.6" r="3.1" fill="url(#gDot)" opacity="1"/>
<circle cx="649.9" cy="75.6" r="3.1" fill="url(#gDot)" opacity="1"/>
<circle cx="660.2" cy="75.6" r="3.1" fill="url(#gDot)" opacity="1"/>
<circle cx="670.5" cy="75.6" r="3.1" fill="url(#gDot)" opacity="1"/>
<circle cx="591.3" cy="85.2" r="3.1" fill="url(#gDot)" opacity="1"/>
<circle cx="601.6" cy="85.2" r="3.1" fill="url(#gDot)" opacity="1"/>
<circle cx="611.9" cy="85.2" r="3.1" fill="url(#gDot)" opacity="1"/>
<circle cx="622.2" cy="85.2" r="3.1" fill="url(#gDot)" opacity="1"/>
<circle cx="632.5" cy="85.2" r="3.1" fill="url(#gDot)" opacity="1"/>
<circle cx="642.8" cy="85.2" r="3.1" fill="url(#gDot)" opacity="1"/>
<circle cx="653.1" cy="85.2" r="3.1" fill="url(#gDot)" opacity="1"/>
<circle cx="663.4" cy="85.2" r="3.1" fill="url(#gDot)" opacity="1"/>
<circle cx="673.7" cy="85.2" r="3.1" fill="url(#gDot)" opacity="1"/>
<circle cx="594.1" cy="94.2" r="3.1" fill="url(#gDot)" opacity="1"/>
<circle cx="604.4" cy="94.2" r="3.1" fill="url(#gDot)" opacity="1"/>
<circle cx="614.7" cy="94.2" r="3.1" fill="url(#gDot)" opacity="1"/>
<circle cx="625" cy="94.2" r="3.1" fill="url(#gDot)" opacity="1"/>
<circle cx="635.3" cy="94.2" r="3.1" fill="url(#gDot)" opacity="1"/>
<circle cx="645.6" cy="94.2" r="3.1" fill="url(#gDot)" opacity="1"/>
<circle cx="655.9" cy="94.2" r="3.1" fill="url(#gDot)" opacity="1"/>
<circle cx="666.2" cy="94.2" r="3.1" fill="url(#gDot)" opacity="1"/>
<circle cx="676.5" cy="94.2" r="3.1" fill="url(#gDot)" opacity="1"/>
</g>
<rect x="603.7" y="99.2" width="72.3" height="1.6" fill="#b0b0b0"/>
<rect x="605" y="96.8" width="14" height="1" fill="#ccc"/>
<text x="606.3" y="39.6" font-size="13.6" fill="#fff" font-weight="bold" font-family="Liberation Serif">I</text>
<text x="610" y="51" font-size="10.2" fill="#fff" font-weight="bold">d=0.312nm</text>
<line x1="630.2" y1="66.5" x2="664.8" y2="66.5" stroke="#2020f0" stroke-width="1.4"/>
<line x1="630.2" y1="75.6" x2="664.8" y2="75.6" stroke="#2020f0" stroke-width="1.4"/>
<path d="M647.5 56.2 L650.5 56.2 L650.5 61.6 L652.4 61.6 L649 65.2 L645.6 61.6 L647.5 61.6Z" fill="#fff"/>
<path d="M647.5 87.5 L650.5 87.5 L650.5 83.1 L652.4 83.1 L649 79.5 L645.6 83.1 L647.5 83.1Z" fill="#fff"/>
<g clip-path="url(#cII)">
<linearGradient id="gcII" x1="0" y1="0" x2="0" y2="1"><stop offset="0" stop-color="#282828"/><stop offset="1" stop-color="#303030"/></linearGradient>
<rect x="604.2" y="100.6" width="71.8" height="71.4" fill="url(#gcII)"/>
<rect x="604.2" y="100.6" width="71.8" height="71.4" filter="url(#fNoiseG)" opacity="0.18"/>
<circle cx="598.3" cy="104.5" r="3.1" fill="url(#gDot)" opacity="0.9"/>
<circle cx="608.5" cy="104.5" r="3.1" fill="url(#gDot)" opacity="0.9"/>
<circle cx="618.7" cy="104.5" r="3.1" fill="url(#gDot)" opacity="0.9"/>
<circle cx="628.9" cy="104.5" r="3.1" fill="url(#gDot)" opacity="0.9"/>
<circle cx="639.1" cy="104.5" r="3.1" fill="url(#gDot)" opacity="0.9"/>
<circle cx="649.3" cy="104.5" r="3.1" fill="url(#gDot)" opacity="0.9"/>
<circle cx="659.5" cy="104.5" r="3.1" fill="url(#gDot)" opacity="0.9"/>
<circle cx="669.7" cy="104.5" r="3.1" fill="url(#gDot)" opacity="0.9"/>
<circle cx="679.9" cy="104.5" r="3.1" fill="url(#gDot)" opacity="0.9"/>
<circle cx="594" cy="113.2" r="3.1" fill="url(#gDot)" opacity="0.85"/>
<circle cx="604.2" cy="113.2" r="3.1" fill="url(#gDot)" opacity="0.85"/>
<circle cx="614.4" cy="113.2" r="3.1" fill="url(#gDot)" opacity="0.85"/>
<circle cx="624.6" cy="113.2" r="3.1" fill="url(#gDot)" opacity="0.85"/>
<circle cx="634.8" cy="113.2" r="3.1" fill="url(#gDot)" opacity="0.85"/>
<circle cx="645" cy="113.2" r="3.1" fill="url(#gDot)" opacity="0.85"/>
<circle cx="655.2" cy="113.2" r="3.1" fill="url(#gDot)" opacity="0.85"/>
<circle cx="665.4" cy="113.2" r="3.1" fill="url(#gDot)" opacity="0.85"/>
<circle cx="675.6" cy="113.2" r="3.1" fill="url(#gDot)" opacity="0.85"/>
<circle cx="591.6" cy="122.5" r="3.1" fill="url(#gDot)" opacity="0.9"/>
<circle cx="601.8" cy="122.5" r="3.1" fill="url(#gDot)" opacity="0.9"/>
<circle cx="612" cy="122.5" r="3.1" fill="url(#gDot)" opacity="0.9"/>
<circle cx="622.2" cy="122.5" r="3.1" fill="url(#gDot)" opacity="0.9"/>
<circle cx="632.4" cy="122.5" r="3.1" fill="url(#gDot)" opacity="0.9"/>
<circle cx="642.6" cy="122.5" r="3.1" fill="url(#gDot)" opacity="0.9"/>
<circle cx="652.8" cy="122.5" r="3.1" fill="url(#gDot)" opacity="0.9"/>
<circle cx="663" cy="122.5" r="3.1" fill="url(#gDot)" opacity="0.9"/>
<circle cx="673.2" cy="122.5" r="3.1" fill="url(#gDot)" opacity="0.9"/>
<circle cx="596.7" cy="130.9" r="3.1" fill="url(#gDot)" opacity="0.95"/>
<circle cx="606.9" cy="130.9" r="3.1" fill="url(#gDot)" opacity="0.95"/>
<circle cx="617.1" cy="130.9" r="3.1" fill="url(#gDot)" opacity="0.95"/>
<circle cx="627.3" cy="130.9" r="3.1" fill="url(#gDot)" opacity="0.95"/>
<circle cx="637.5" cy="130.9" r="3.1" fill="url(#gDot)" opacity="0.95"/>
<circle cx="647.7" cy="130.9" r="3.1" fill="url(#gDot)" opacity="0.95"/>
<circle cx="657.9" cy="130.9" r="3.1" fill="url(#gDot)" opacity="0.95"/>
<circle cx="668.1" cy="130.9" r="3.1" fill="url(#gDot)" opacity="0.95"/>
<circle cx="678.3" cy="130.9" r="3.1" fill="url(#gDot)" opacity="0.95"/>
<circle cx="599.8" cy="139.9" r="3.1" fill="url(#gDot)" opacity="0.95"/>
<circle cx="610" cy="139.9" r="3.1" fill="url(#gDot)" opacity="0.95"/>
<circle cx="620.2" cy="139.9" r="3.1" fill="url(#gDot)" opacity="0.95"/>
<circle cx="630.4" cy="139.9" r="3.1" fill="url(#gDot)" opacity="0.95"/>
<circle cx="640.6" cy="139.9" r="3.1" fill="url(#gDot)" opacity="0.95"/>
<circle cx="650.8" cy="139.9" r="3.1" fill="url(#gDot)" opacity="0.95"/>
<circle cx="661" cy="139.9" r="3.1" fill="url(#gDot)" opacity="0.95"/>
<circle cx="671.2" cy="139.9" r="3.1" fill="url(#gDot)" opacity="0.95"/>
<circle cx="594.8" cy="149.6" r="3.1" fill="url(#gDot)" opacity="0.95"/>
<circle cx="605" cy="149.6" r="3.1" fill="url(#gDot)" opacity="0.95"/>
<circle cx="615.2" cy="149.6" r="3.1" fill="url(#gDot)" opacity="0.95"/>
<circle cx="625.4" cy="149.6" r="3.1" fill="url(#gDot)" opacity="0.95"/>
<circle cx="635.6" cy="149.6" r="3.1" fill="url(#gDot)" opacity="0.95"/>
<circle cx="645.8" cy="149.6" r="3.1" fill="url(#gDot)" opacity="0.95"/>
<circle cx="656" cy="149.6" r="3.1" fill="url(#gDot)" opacity="0.95"/>
<circle cx="666.2" cy="149.6" r="3.1" fill="url(#gDot)" opacity="0.95"/>
<circle cx="676.4" cy="149.6" r="3.1" fill="url(#gDot)" opacity="0.95"/>
<circle cx="598.8" cy="158.6" r="3.1" fill="url(#gDot)" opacity="0.95"/>
<circle cx="609" cy="158.6" r="3.1" fill="url(#gDot)" opacity="0.95"/>
<circle cx="619.2" cy="158.6" r="3.1" fill="url(#gDot)" opacity="0.95"/>
<circle cx="629.4" cy="158.6" r="3.1" fill="url(#gDot)" opacity="0.95"/>
<circle cx="639.6" cy="158.6" r="3.1" fill="url(#gDot)" opacity="0.95"/>
<circle cx="649.8" cy="158.6" r="3.1" fill="url(#gDot)" opacity="0.95"/>
<circle cx="660" cy="158.6" r="3.1" fill="url(#gDot)" opacity="0.95"/>
<circle cx="670.2" cy="158.6" r="3.1" fill="url(#gDot)" opacity="0.95"/>
<circle cx="594.3" cy="167.6" r="3.1" fill="url(#gDot)" opacity="0.95"/>
<circle cx="604.5" cy="167.6" r="3.1" fill="url(#gDot)" opacity="0.95"/>
<circle cx="614.7" cy="167.6" r="3.1" fill="url(#gDot)" opacity="0.95"/>
<circle cx="624.9" cy="167.6" r="3.1" fill="url(#gDot)" opacity="0.95"/>
<circle cx="635.1" cy="167.6" r="3.1" fill="url(#gDot)" opacity="0.95"/>
<circle cx="645.3" cy="167.6" r="3.1" fill="url(#gDot)" opacity="0.95"/>
<circle cx="655.5" cy="167.6" r="3.1" fill="url(#gDot)" opacity="0.95"/>
<circle cx="665.7" cy="167.6" r="3.1" fill="url(#gDot)" opacity="0.95"/>
<circle cx="675.9" cy="167.6" r="3.1" fill="url(#gDot)" opacity="0.95"/>
</g>
<rect x="605.3" y="169.8" width="15.9" height="1.2" fill="#ddd"/>
<rect x="604.2" y="172" width="72.5" height="2.2" fill="#fff"/>
<text x="605.8" y="110.9" font-size="11.5" fill="#fff" font-weight="bold" font-family="Liberation Serif">II</text>
<text x="610.9" y="118.8" font-size="10.2" fill="#fff" font-weight="bold">d=0.295nm</text>
<line x1="622.8" y1="133.1" x2="656.9" y2="133.1" stroke="#2020f0" stroke-width="1.4"/>
<line x1="622.8" y1="141.8" x2="656.9" y2="141.8" stroke="#2020f0" stroke-width="1.4"/>
<path d="M639.8 123.6 L642.8 123.6 L642.8 128.7 L644.7 128.7 L641.3 132.3 L637.9 128.7 L639.8 128.7Z" fill="#fff"/>
<path d="M639.8 151.3 L642.8 151.3 L642.8 147 L644.7 147 L641.3 143.4 L637.9 147 L639.8 147Z" fill="#fff"/>
<g clip-path="url(#cFFT)">
<rect x="604.2" y="174.2" width="72.5" height="73.3" fill="#5c5c5c"/>
<rect x="604.2" y="174.2" width="72.5" height="73.3" filter="url(#fNoiseG)" opacity="0.45"/>
<circle cx="642.3" cy="211.8" r="22" fill="url(#gDot)" opacity="0.12"/>
<line x1="631.8" y1="176" x2="631.8" y2="247" stroke="#e0e0e0" stroke-width="0.6" opacity="0.4"/>
<line x1="642.3" y1="176" x2="642.3" y2="247" stroke="#e0e0e0" stroke-width="0.6" opacity="0.4"/>
<line x1="652.5" y1="176" x2="652.5" y2="247" stroke="#e0e0e0" stroke-width="0.6" opacity="0.4"/>
<circle cx="621.3" cy="196" r="2.6" fill="url(#gDot)" opacity="0.25"/>
<circle cx="621.3" cy="207.1" r="2.6" fill="url(#gDot)" opacity="0.37"/>
<circle cx="621.3" cy="218.2" r="2.6" fill="url(#gDot)" opacity="0.35"/>
<circle cx="621.3" cy="229.3" r="2.6" fill="url(#gDot)" opacity="0.25"/>
<circle cx="631.8" cy="192.8" r="2.6" fill="url(#gDot)" opacity="0.36"/>
<circle cx="631.8" cy="203.9" r="2.6" fill="url(#gDot)" opacity="0.61"/>
<circle cx="631.8" cy="215" r="2.6" fill="url(#gDot)" opacity="0.68"/>
<circle cx="631.8" cy="226.1" r="2.6" fill="url(#gDot)" opacity="0.48"/>
<circle cx="631.8" cy="237.2" r="2.6" fill="url(#gDot)" opacity="0.25"/>
<circle cx="642.3" cy="200.7" r="2.6" fill="url(#gDot)" opacity="0.67"/>
<circle cx="642.3" cy="211.8" r="3.8" fill="url(#gDot)" opacity="1"/>
<circle cx="642.3" cy="222.9" r="2.6" fill="url(#gDot)" opacity="0.67"/>
<circle cx="642.3" cy="234" r="2.6" fill="url(#gDot)" opacity="0.35"/>
<circle cx="652.8" cy="197.5" r="2.6" fill="url(#gDot)" opacity="0.48"/>
<circle cx="652.8" cy="208.6" r="2.6" fill="url(#gDot)" opacity="0.68"/>
<circle cx="652.8" cy="219.7" r="2.6" fill="url(#gDot)" opacity="0.61"/>
<circle cx="652.8" cy="230.8" r="2.6" fill="url(#gDot)" opacity="0.36"/>
<circle cx="663.3" cy="194.3" r="2.6" fill="url(#gDot)" opacity="0.25"/>
<circle cx="663.3" cy="205.4" r="2.6" fill="url(#gDot)" opacity="0.35"/>
<circle cx="663.3" cy="216.5" r="2.6" fill="url(#gDot)" opacity="0.37"/>
<circle cx="663.3" cy="227.6" r="2.6" fill="url(#gDot)" opacity="0.25"/>
</g>
<text x="606" y="187.7" font-size="13" fill="#fff" font-weight="bold"><tspan font-family="Liberation Serif">II</tspan>-HZO</text>
<text x="308.8" y="265.3" font-size="17" font-weight="bold" font-family="Liberation Serif">e</text>
<rect x="322.6" y="289.1" width="106.38" height="18.7" fill="url(#gRedBar)"/>
<rect x="455.5" y="289.1" width="24.7" height="18.7" fill="url(#gBlueBar)"/>
<rect x="322.6" y="316.2" width="51.22" height="19.3" fill="url(#gRedBar)"/>
<rect x="397.89" y="316.2" width="82.31" height="19.3" fill="url(#gBlueBar)"/>
<rect x="322.6" y="343.5" width="42.16" height="19.2" fill="url(#gRedBar)"/>
<rect x="415.7" y="343.5" width="64.5" height="19.2" fill="url(#gBlueBar)"/>
<rect x="322.6" y="371.1" width="18.12" height="18.9" fill="url(#gRedBar)"/>
<rect x="410.5" y="371.1" width="69.7" height="18.9" fill="url(#gBlueBar)"/>
<line x1="322.6" y1="285.0" x2="480.2" y2="285.0" stroke="#888" stroke-width="0.8"/>
<line x1="322.6" y1="393.2" x2="480.2" y2="393.2" stroke="#888" stroke-width="0.8"/>
<line x1="322.6" y1="285.0" x2="322.6" y2="393.2" stroke="#888" stroke-width="0.8"/>
<line x1="480.2" y1="285.0" x2="480.2" y2="393.2" stroke="#888" stroke-width="0.8"/>
<line x1="322.6" y1="285.0" x2="322.6" y2="287.2" stroke="#c66" stroke-width="0.6"/>
<line x1="326.54" y1="285.0" x2="326.54" y2="286.2" stroke="#c66" stroke-width="0.6"/>
<line x1="330.48" y1="285.0" x2="330.48" y2="286.2" stroke="#c66" stroke-width="0.6"/>
<line x1="334.42" y1="285.0" x2="334.42" y2="286.2" stroke="#c66" stroke-width="0.6"/>
<line x1="338.36" y1="285.0" x2="338.36" y2="286.2" stroke="#c66" stroke-width="0.6"/>
<line x1="342.3" y1="285.0" x2="342.3" y2="287.2" stroke="#c66" stroke-width="0.6"/>
<line x1="346.24" y1="285.0" x2="346.24" y2="286.2" stroke="#c66" stroke-width="0.6"/>
<line x1="350.18" y1="285.0" x2="350.18" y2="286.2" stroke="#c66" stroke-width="0.6"/>
<line x1="354.12" y1="285.0" x2="354.12" y2="286.2" stroke="#c66" stroke-width="0.6"/>
<line x1="358.06" y1="285.0" x2="358.06" y2="286.2" stroke="#c66" stroke-width="0.6"/>
<line x1="362" y1="285.0" x2="362" y2="287.2" stroke="#c66" stroke-width="0.6"/>
<line x1="365.94" y1="285.0" x2="365.94" y2="286.2" stroke="#c66" stroke-width="0.6"/>
<line x1="369.88" y1="285.0" x2="369.88" y2="286.2" stroke="#c66" stroke-width="0.6"/>
<line x1="373.82" y1="285.0" x2="373.82" y2="286.2" stroke="#c66" stroke-width="0.6"/>
<line x1="377.76" y1="285.0" x2="377.76" y2="286.2" stroke="#c66" stroke-width="0.6"/>
<line x1="381.7" y1="285.0" x2="381.7" y2="287.2" stroke="#c66" stroke-width="0.6"/>
<line x1="385.64" y1="285.0" x2="385.64" y2="286.2" stroke="#c66" stroke-width="0.6"/>
<line x1="389.58" y1="285.0" x2="389.58" y2="286.2" stroke="#c66" stroke-width="0.6"/>
<line x1="393.52" y1="285.0" x2="393.52" y2="286.2" stroke="#c66" stroke-width="0.6"/>
<line x1="397.46" y1="285.0" x2="397.46" y2="286.2" stroke="#c66" stroke-width="0.6"/>
<line x1="401.4" y1="285.0" x2="401.4" y2="287.2" stroke="#c66" stroke-width="0.6"/>
<line x1="405.34" y1="285.0" x2="405.34" y2="286.2" stroke="#c66" stroke-width="0.6"/>
<line x1="409.28" y1="285.0" x2="409.28" y2="286.2" stroke="#c66" stroke-width="0.6"/>
<line x1="413.22" y1="285.0" x2="413.22" y2="286.2" stroke="#c66" stroke-width="0.6"/>
<line x1="417.16" y1="285.0" x2="417.16" y2="286.2" stroke="#c66" stroke-width="0.6"/>
<line x1="421.1" y1="285.0" x2="421.1" y2="287.2" stroke="#c66" stroke-width="0.6"/>
<line x1="425.04" y1="285.0" x2="425.04" y2="286.2" stroke="#c66" stroke-width="0.6"/>
<line x1="428.98" y1="285.0" x2="428.98" y2="286.2" stroke="#c66" stroke-width="0.6"/>
<line x1="432.92" y1="285.0" x2="432.92" y2="286.2" stroke="#c66" stroke-width="0.6"/>
<line x1="436.86" y1="285.0" x2="436.86" y2="286.2" stroke="#c66" stroke-width="0.6"/>
<line x1="440.8" y1="285.0" x2="440.8" y2="287.2" stroke="#c66" stroke-width="0.6"/>
<line x1="444.74" y1="285.0" x2="444.74" y2="286.2" stroke="#c66" stroke-width="0.6"/>
<line x1="448.68" y1="285.0" x2="448.68" y2="286.2" stroke="#c66" stroke-width="0.6"/>
<line x1="452.62" y1="285.0" x2="452.62" y2="286.2" stroke="#c66" stroke-width="0.6"/>
<line x1="456.56" y1="285.0" x2="456.56" y2="286.2" stroke="#c66" stroke-width="0.6"/>
<line x1="460.5" y1="285.0" x2="460.5" y2="287.2" stroke="#c66" stroke-width="0.6"/>
<line x1="464.44" y1="285.0" x2="464.44" y2="286.2" stroke="#c66" stroke-width="0.6"/>
<line x1="468.38" y1="285.0" x2="468.38" y2="286.2" stroke="#c66" stroke-width="0.6"/>
<line x1="472.32" y1="285.0" x2="472.32" y2="286.2" stroke="#c66" stroke-width="0.6"/>
<line x1="476.26" y1="285.0" x2="476.26" y2="286.2" stroke="#c66" stroke-width="0.6"/>
<line x1="480.2" y1="285.0" x2="480.2" y2="287.2" stroke="#c66" stroke-width="0.6"/>
<text x="322.6" y="282.4" font-size="8.8" text-anchor="middle" fill="#e03a3a">15</text>
<text x="342.3" y="282.4" font-size="8.8" text-anchor="middle" fill="#e03a3a">20</text>
<text x="362" y="282.4" font-size="8.8" text-anchor="middle" fill="#e03a3a">25</text>
<text x="381.7" y="282.4" font-size="8.8" text-anchor="middle" fill="#e03a3a">30</text>
<text x="401.4" y="282.4" font-size="8.8" text-anchor="middle" fill="#e03a3a">35</text>
<text x="421.1" y="282.4" font-size="8.8" text-anchor="middle" fill="#e03a3a">40</text>
<text x="440.8" y="282.4" font-size="8.8" text-anchor="middle" fill="#e03a3a">45</text>
<text x="460.5" y="282.4" font-size="8.8" text-anchor="middle" fill="#e03a3a">50</text>
<text x="480.2" y="282.4" font-size="8.8" text-anchor="middle" fill="#e03a3a">55</text>
<line x1="480.2" y1="393.2" x2="480.2" y2="391" stroke="#6a9ac4" stroke-width="0.6"/>
<line x1="476.26" y1="393.2" x2="476.26" y2="392" stroke="#6a9ac4" stroke-width="0.6"/>
<line x1="472.32" y1="393.2" x2="472.32" y2="392" stroke="#6a9ac4" stroke-width="0.6"/>
<line x1="468.38" y1="393.2" x2="468.38" y2="392" stroke="#6a9ac4" stroke-width="0.6"/>
<line x1="464.44" y1="393.2" x2="464.44" y2="392" stroke="#6a9ac4" stroke-width="0.6"/>
<line x1="460.5" y1="393.2" x2="460.5" y2="391" stroke="#6a9ac4" stroke-width="0.6"/>
<line x1="456.56" y1="393.2" x2="456.56" y2="392" stroke="#6a9ac4" stroke-width="0.6"/>
<line x1="452.62" y1="393.2" x2="452.62" y2="392" stroke="#6a9ac4" stroke-width="0.6"/>
<line x1="448.68" y1="393.2" x2="448.68" y2="392" stroke="#6a9ac4" stroke-width="0.6"/>
<line x1="444.74" y1="393.2" x2="444.74" y2="392" stroke="#6a9ac4" stroke-width="0.6"/>
<line x1="440.8" y1="393.2" x2="440.8" y2="391" stroke="#6a9ac4" stroke-width="0.6"/>
<line x1="436.86" y1="393.2" x2="436.86" y2="392" stroke="#6a9ac4" stroke-width="0.6"/>
<line x1="432.92" y1="393.2" x2="432.92" y2="392" stroke="#6a9ac4" stroke-width="0.6"/>
<line x1="428.98" y1="393.2" x2="428.98" y2="392" stroke="#6a9ac4" stroke-width="0.6"/>
<line x1="425.04" y1="393.2" x2="425.04" y2="392" stroke="#6a9ac4" stroke-width="0.6"/>
<line x1="421.1" y1="393.2" x2="421.1" y2="391" stroke="#6a9ac4" stroke-width="0.6"/>
<line x1="417.16" y1="393.2" x2="417.16" y2="392" stroke="#6a9ac4" stroke-width="0.6"/>
<line x1="413.22" y1="393.2" x2="413.22" y2="392" stroke="#6a9ac4" stroke-width="0.6"/>
<line x1="409.28" y1="393.2" x2="409.28" y2="392" stroke="#6a9ac4" stroke-width="0.6"/>
<line x1="405.34" y1="393.2" x2="405.34" y2="392" stroke="#6a9ac4" stroke-width="0.6"/>
<line x1="401.4" y1="393.2" x2="401.4" y2="391" stroke="#6a9ac4" stroke-width="0.6"/>
<line x1="397.46" y1="393.2" x2="397.46" y2="392" stroke="#6a9ac4" stroke-width="0.6"/>
<line x1="393.52" y1="393.2" x2="393.52" y2="392" stroke="#6a9ac4" stroke-width="0.6"/>
<line x1="389.58" y1="393.2" x2="389.58" y2="392" stroke="#6a9ac4" stroke-width="0.6"/>
<line x1="385.64" y1="393.2" x2="385.64" y2="392" stroke="#6a9ac4" stroke-width="0.6"/>
<line x1="381.7" y1="393.2" x2="381.7" y2="391" stroke="#6a9ac4" stroke-width="0.6"/>
<line x1="377.76" y1="393.2" x2="377.76" y2="392" stroke="#6a9ac4" stroke-width="0.6"/>
<line x1="373.82" y1="393.2" x2="373.82" y2="392" stroke="#6a9ac4" stroke-width="0.6"/>
<line x1="369.88" y1="393.2" x2="369.88" y2="392" stroke="#6a9ac4" stroke-width="0.6"/>
<line x1="365.94" y1="393.2" x2="365.94" y2="392" stroke="#6a9ac4" stroke-width="0.6"/>
<line x1="362" y1="393.2" x2="362" y2="391" stroke="#6a9ac4" stroke-width="0.6"/>
<line x1="358.06" y1="393.2" x2="358.06" y2="392" stroke="#6a9ac4" stroke-width="0.6"/>
<line x1="354.12" y1="393.2" x2="354.12" y2="392" stroke="#6a9ac4" stroke-width="0.6"/>
<line x1="350.18" y1="393.2" x2="350.18" y2="392" stroke="#6a9ac4" stroke-width="0.6"/>
<line x1="346.24" y1="393.2" x2="346.24" y2="392" stroke="#6a9ac4" stroke-width="0.6"/>
<line x1="342.3" y1="393.2" x2="342.3" y2="391" stroke="#6a9ac4" stroke-width="0.6"/>
<line x1="338.36" y1="393.2" x2="338.36" y2="392" stroke="#6a9ac4" stroke-width="0.6"/>
<line x1="334.42" y1="393.2" x2="334.42" y2="392" stroke="#6a9ac4" stroke-width="0.6"/>
<line x1="330.48" y1="393.2" x2="330.48" y2="392" stroke="#6a9ac4" stroke-width="0.6"/>
<line x1="326.54" y1="393.2" x2="326.54" y2="392" stroke="#6a9ac4" stroke-width="0.6"/>
<line x1="322.6" y1="393.2" x2="322.6" y2="391" stroke="#6a9ac4" stroke-width="0.6"/>
<text x="322.6" y="403.8" font-size="8.8" text-anchor="middle" fill="#5a8fbf">6.5</text>
<text x="342.3" y="403.8" font-size="8.8" text-anchor="middle" fill="#5a8fbf">6.0</text>
<text x="362" y="403.8" font-size="8.8" text-anchor="middle" fill="#5a8fbf">5.5</text>
<text x="381.7" y="403.8" font-size="8.8" text-anchor="middle" fill="#5a8fbf">5.0</text>
<text x="401.4" y="403.8" font-size="8.8" text-anchor="middle" fill="#5a8fbf">4.5</text>
<text x="421.1" y="403.8" font-size="8.8" text-anchor="middle" fill="#5a8fbf">4.0</text>
<text x="440.8" y="403.8" font-size="8.8" text-anchor="middle" fill="#5a8fbf">3.5</text>
<text x="460.5" y="403.8" font-size="8.8" text-anchor="middle" fill="#5a8fbf">3.0</text>
<text x="480.2" y="403.8" font-size="8.8" text-anchor="middle" fill="#5a8fbf">2.5</text>
<line x1="480.2" y1="298.45" x2="478.2" y2="298.45" stroke="#888" stroke-width="0.7"/>
<line x1="322.6" y1="298.45" x2="324.6" y2="298.45" stroke="#888" stroke-width="0.7"/>
<line x1="480.2" y1="325.85" x2="478.2" y2="325.85" stroke="#888" stroke-width="0.7"/>
<line x1="322.6" y1="325.85" x2="324.6" y2="325.85" stroke="#888" stroke-width="0.7"/>
<line x1="480.2" y1="353.1" x2="478.2" y2="353.1" stroke="#888" stroke-width="0.7"/>
<line x1="322.6" y1="353.1" x2="324.6" y2="353.1" stroke="#888" stroke-width="0.7"/>
<line x1="480.2" y1="380.55" x2="478.2" y2="380.55" stroke="#888" stroke-width="0.7"/>
<line x1="322.6" y1="380.55" x2="324.6" y2="380.55" stroke="#888" stroke-width="0.7"/>
<line x1="480.2" y1="311.9" x2="478.2" y2="311.9" stroke="#888" stroke-width="0.7"/>
<line x1="322.6" y1="311.9" x2="324.6" y2="311.9" stroke="#888" stroke-width="0.7"/>
<line x1="480.2" y1="339.5" x2="478.2" y2="339.5" stroke="#888" stroke-width="0.7"/>
<line x1="322.6" y1="339.5" x2="324.6" y2="339.5" stroke="#888" stroke-width="0.7"/>
<line x1="480.2" y1="366.8" x2="478.2" y2="366.8" stroke="#888" stroke-width="0.7"/>
<line x1="322.6" y1="366.8" x2="324.6" y2="366.8" stroke="#888" stroke-width="0.7"/>
<text x="322.5" y="299" font-size="9.3" text-anchor="end"><tspan>CeO</tspan><tspan dy="2.6" font-size="6.7">2-</tspan><tspan font-size="6.7" font-style="italic">x</tspan></text>
<text x="318.2" y="326.5" font-size="9.3" text-anchor="end"><tspan>ZrO</tspan><tspan dy="2.6" font-size="6.7">2</tspan></text>
<text x="318.2" y="353.7" font-size="9.3" text-anchor="end"><tspan>Al</tspan><tspan dy="2.6" font-size="6.7">2</tspan><tspan dy="-2.6">O</tspan><tspan dy="2.6" font-size="6.7">3</tspan></text>
<text x="318.2" y="380.6" font-size="9.3" text-anchor="end">Bare</text>
<text x="398.6" y="269" font-size="11.4" text-anchor="middle" fill="#e03a3a"><tspan>2P</tspan><tspan dy="3.19" font-size="8.21" font-style="italic">r</tspan><tspan dy="-3.19"> (µC cm</tspan><tspan dy="-4.33" font-size="8.21">-2</tspan><tspan dy="4.33">)</tspan></text>
<text x="404" y="417" font-size="11.4" text-anchor="middle" fill="#5a9fd4"><tspan font-style="italic">E</tspan><tspan dy="3.19" font-size="8.21" font-style="italic">c</tspan><tspan dy="-3.19"> (MV cm</tspan><tspan dy="-4.33" font-size="8.21">-1</tspan><tspan dy="4.33">)</tspan></text>
<text x="492.6" y="267" font-size="17" font-weight="bold" font-family="Liberation Serif">f</text>
<clipPath id="cF"><rect x="516.5" y="283.3" width="160.1" height="109.7"/></clipPath>
<g clip-path="url(#cF)">
<path d="M519.5 326.4 L524.28 326.1 L529.06 326.1 L533.84 326.4 L538.62 326.1 L543.4 326.1 L548.18 326.4 L552.96 326.1 L557.74 326.1 L562.52 326.4 L567.3 326.1 L572.08 326.1 L577 327.4 L582.3 327.6 L587.2 321 L591.8 304.9 L596.6 280" fill="none" stroke="#f07060" stroke-width="0.7"/>
<path d="M519.5 348.6 L524.28 348.2 L529.06 348.6 L533.84 348.6 L538.62 348.6 L543.4 348.2 L548.18 348.6 L552.96 348.6 L557.74 348.6 L562.52 348.2 L567.3 348.6 L572.08 348.6 L577 346.5 L582.3 346.6 L587.2 352.4 L591.8 373.4 L595.2 396" fill="none" stroke="#f07060" stroke-width="0.7"/>
<path d="M519.5 309.2 L524.22 309.3 L528.94 309.39 L533.66 309.49 L538.38 309.59 L543.1 309.68 L547.82 309.78 L552.54 309.88 L557.26 309.97 L561.98 310.07 L566.7 310.17 L571.42 310.27 L576.14 310.36 L580.86 310.46 L585.58 310.56 L590.3 310.65 L595.02 310.75 L599.74 310.85 L604.46 310.94 L609.18 311.04 L613.9 311.14 L618.62 311.23 L623.34 311.33 L628.06 311.43 L632.78 311.52 L637.5 311.62 L642.22 311.72 L646.94 311.81 L651.66 311.91 L660 316.4 L664.6 318 L669.7 316.6 L670.6 280" fill="none" stroke="#88b8dc" stroke-width="0.7"/>
<path d="M519.5 364.4 L524.22 364.4 L528.94 364.4 L533.66 364.4 L538.38 364.4 L543.1 364.4 L547.82 364.4 L552.54 364.4 L557.26 364.4 L561.98 364.4 L566.7 364.4 L571.42 364.4 L576.14 364.4 L580.86 364.4 L585.58 364.4 L590.3 364.4 L595.02 364.4 L599.74 364.4 L604.46 364.4 L609.18 364.4 L613.9 364.16 L618.62 363.88 L623.34 363.59 L628.06 363.3 L632.78 363.01 L637.5 362.73 L642.22 362.44 L646.94 362.15 L651.66 361.86 L660 358 L664.6 356.2 L669.7 357.3 L671.4 396" fill="none" stroke="#88b8dc" stroke-width="0.7"/>
<circle cx="519.5" cy="309.2" r="2.35" fill="url(#gBC)"/>
<circle cx="524.22" cy="309.3" r="2.35" fill="url(#gBC)"/>
<circle cx="528.94" cy="309.39" r="2.35" fill="url(#gBC)"/>
<circle cx="533.66" cy="309.49" r="2.35" fill="url(#gBC)"/>
<circle cx="538.38" cy="309.59" r="2.35" fill="url(#gBC)"/>
<circle cx="543.1" cy="309.68" r="2.35" fill="url(#gBC)"/>
<circle cx="547.82" cy="309.78" r="2.35" fill="url(#gBC)"/>
<circle cx="552.54" cy="309.88" r="2.35" fill="url(#gBC)"/>
<circle cx="557.26" cy="309.97" r="2.35" fill="url(#gBC)"/>
<circle cx="561.98" cy="310.07" r="2.35" fill="url(#gBC)"/>
<circle cx="566.7" cy="310.17" r="2.35" fill="url(#gBC)"/>
<circle cx="571.42" cy="310.27" r="2.35" fill="url(#gBC)"/>
<circle cx="576.14" cy="310.36" r="2.35" fill="url(#gBC)"/>
<circle cx="580.86" cy="310.46" r="2.35" fill="url(#gBC)"/>
<circle cx="585.58" cy="310.56" r="2.35" fill="url(#gBC)"/>
<circle cx="590.3" cy="310.65" r="2.35" fill="url(#gBC)"/>
<circle cx="595.02" cy="310.75" r="2.35" fill="url(#gBC)"/>
<circle cx="599.74" cy="310.85" r="2.35" fill="url(#gBC)"/>
<circle cx="604.46" cy="310.94" r="2.35" fill="url(#gBC)"/>
<circle cx="609.18" cy="311.04" r="2.35" fill="url(#gBC)"/>
<circle cx="613.9" cy="311.14" r="2.35" fill="url(#gBC)"/>
<circle cx="618.62" cy="311.23" r="2.35" fill="url(#gBC)"/>
<circle cx="623.34" cy="311.33" r="2.35" fill="url(#gBC)"/>
<circle cx="628.06" cy="311.43" r="2.35" fill="url(#gBC)"/>
<circle cx="632.78" cy="311.52" r="2.35" fill="url(#gBC)"/>
<circle cx="637.5" cy="311.62" r="2.35" fill="url(#gBC)"/>
<circle cx="642.22" cy="311.72" r="2.35" fill="url(#gBC)"/>
<circle cx="646.94" cy="311.81" r="2.35" fill="url(#gBC)"/>
<circle cx="651.66" cy="311.91" r="2.35" fill="url(#gBC)"/>
<circle cx="660" cy="316.4" r="2.35" fill="url(#gBC)"/>
<circle cx="664.6" cy="318" r="2.35" fill="url(#gBC)"/>
<circle cx="669.7" cy="316.6" r="2.35" fill="url(#gBC)"/>
<circle cx="519.5" cy="364.4" r="2.35" fill="url(#gBC)"/>
<circle cx="524.22" cy="364.4" r="2.35" fill="url(#gBC)"/>
<circle cx="528.94" cy="364.4" r="2.35" fill="url(#gBC)"/>
<circle cx="533.66" cy="364.4" r="2.35" fill="url(#gBC)"/>
<circle cx="538.38" cy="364.4" r="2.35" fill="url(#gBC)"/>
<circle cx="543.1" cy="364.4" r="2.35" fill="url(#gBC)"/>
<circle cx="547.82" cy="364.4" r="2.35" fill="url(#gBC)"/>
<circle cx="552.54" cy="364.4" r="2.35" fill="url(#gBC)"/>
<circle cx="557.26" cy="364.4" r="2.35" fill="url(#gBC)"/>
<circle cx="561.98" cy="364.4" r="2.35" fill="url(#gBC)"/>
<circle cx="566.7" cy="364.4" r="2.35" fill="url(#gBC)"/>
<circle cx="571.42" cy="364.4" r="2.35" fill="url(#gBC)"/>
<circle cx="576.14" cy="364.4" r="2.35" fill="url(#gBC)"/>
<circle cx="580.86" cy="364.4" r="2.35" fill="url(#gBC)"/>
<circle cx="585.58" cy="364.4" r="2.35" fill="url(#gBC)"/>
<circle cx="590.3" cy="364.4" r="2.35" fill="url(#gBC)"/>
<circle cx="595.02" cy="364.4" r="2.35" fill="url(#gBC)"/>
<circle cx="599.74" cy="364.4" r="2.35" fill="url(#gBC)"/>
<circle cx="604.46" cy="364.4" r="2.35" fill="url(#gBC)"/>
<circle cx="609.18" cy="364.4" r="2.35" fill="url(#gBC)"/>
<circle cx="613.9" cy="364.16" r="2.35" fill="url(#gBC)"/>
<circle cx="618.62" cy="363.88" r="2.35" fill="url(#gBC)"/>
<circle cx="623.34" cy="363.59" r="2.35" fill="url(#gBC)"/>
<circle cx="628.06" cy="363.3" r="2.35" fill="url(#gBC)"/>
<circle cx="632.78" cy="363.01" r="2.35" fill="url(#gBC)"/>
<circle cx="637.5" cy="362.73" r="2.35" fill="url(#gBC)"/>
<circle cx="642.22" cy="362.44" r="2.35" fill="url(#gBC)"/>
<circle cx="646.94" cy="362.15" r="2.35" fill="url(#gBC)"/>
<circle cx="651.66" cy="361.86" r="2.35" fill="url(#gBC)"/>
<circle cx="660" cy="358" r="2.35" fill="url(#gBC)"/>
<circle cx="664.6" cy="356.2" r="2.35" fill="url(#gBC)"/>
<circle cx="669.7" cy="357.3" r="2.35" fill="url(#gBC)"/>
<circle cx="519.5" cy="326.4" r="2.35" fill="url(#gRC)"/>
<circle cx="524.28" cy="326.1" r="2.35" fill="url(#gRC)"/>
<circle cx="529.06" cy="326.1" r="2.35" fill="url(#gRC)"/>
<circle cx="533.84" cy="326.4" r="2.35" fill="url(#gRC)"/>
<circle cx="538.62" cy="326.1" r="2.35" fill="url(#gRC)"/>
<circle cx="543.4" cy="326.1" r="2.35" fill="url(#gRC)"/>
<circle cx="548.18" cy="326.4" r="2.35" fill="url(#gRC)"/>
<circle cx="552.96" cy="326.1" r="2.35" fill="url(#gRC)"/>
<circle cx="557.74" cy="326.1" r="2.35" fill="url(#gRC)"/>
<circle cx="562.52" cy="326.4" r="2.35" fill="url(#gRC)"/>
<circle cx="567.3" cy="326.1" r="2.35" fill="url(#gRC)"/>
<circle cx="572.08" cy="326.1" r="2.35" fill="url(#gRC)"/>
<circle cx="577" cy="327.4" r="2.35" fill="url(#gRC)"/>
<circle cx="582.3" cy="327.6" r="2.35" fill="url(#gRC)"/>
<circle cx="587.2" cy="321" r="2.35" fill="url(#gRC)"/>
<circle cx="591.8" cy="304.9" r="2.35" fill="url(#gRC)"/>
<circle cx="519.5" cy="348.6" r="2.35" fill="url(#gRC)"/>
<circle cx="524.28" cy="348.2" r="2.35" fill="url(#gRC)"/>
<circle cx="529.06" cy="348.6" r="2.35" fill="url(#gRC)"/>
<circle cx="533.84" cy="348.6" r="2.35" fill="url(#gRC)"/>
<circle cx="538.62" cy="348.6" r="2.35" fill="url(#gRC)"/>
<circle cx="543.4" cy="348.2" r="2.35" fill="url(#gRC)"/>
<circle cx="548.18" cy="348.6" r="2.35" fill="url(#gRC)"/>
<circle cx="552.96" cy="348.6" r="2.35" fill="url(#gRC)"/>
<circle cx="557.74" cy="348.6" r="2.35" fill="url(#gRC)"/>
<circle cx="562.52" cy="348.2" r="2.35" fill="url(#gRC)"/>
<circle cx="567.3" cy="348.6" r="2.35" fill="url(#gRC)"/>
<circle cx="572.08" cy="348.6" r="2.35" fill="url(#gRC)"/>
<circle cx="577" cy="346.5" r="2.35" fill="url(#gRC)"/>
<circle cx="582.3" cy="346.6" r="2.35" fill="url(#gRC)"/>
<circle cx="587.2" cy="352.4" r="2.35" fill="url(#gRC)"/>
<circle cx="591.8" cy="373.4" r="2.35" fill="url(#gRC)"/>
</g>
<rect x="519.5" y="283.3" width="157.1" height="109.7" fill="none" stroke="#333" stroke-width="0.9"/>
<line x1="519.5" y1="391.85" x2="521" y2="391.85" stroke="#333" stroke-width="0.7"/>
<line x1="519.5" y1="384.1" x2="522.1" y2="384.1" stroke="#333" stroke-width="0.7"/>
<line x1="519.5" y1="376.35" x2="521" y2="376.35" stroke="#333" stroke-width="0.7"/>
<line x1="519.5" y1="368.6" x2="522.1" y2="368.6" stroke="#333" stroke-width="0.7"/>
<line x1="519.5" y1="360.85" x2="521" y2="360.85" stroke="#333" stroke-width="0.7"/>
<line x1="519.5" y1="353.1" x2="522.1" y2="353.1" stroke="#333" stroke-width="0.7"/>
<line x1="519.5" y1="345.35" x2="521" y2="345.35" stroke="#333" stroke-width="0.7"/>
<line x1="519.5" y1="337.6" x2="522.1" y2="337.6" stroke="#333" stroke-width="0.7"/>
<line x1="519.5" y1="329.85" x2="521" y2="329.85" stroke="#333" stroke-width="0.7"/>
<line x1="519.5" y1="322.1" x2="522.1" y2="322.1" stroke="#333" stroke-width="0.7"/>
<line x1="519.5" y1="314.35" x2="521" y2="314.35" stroke="#333" stroke-width="0.7"/>
<line x1="519.5" y1="306.6" x2="522.1" y2="306.6" stroke="#333" stroke-width="0.7"/>
<line x1="519.5" y1="298.85" x2="521" y2="298.85" stroke="#333" stroke-width="0.7"/>
<line x1="519.5" y1="291.1" x2="522.1" y2="291.1" stroke="#333" stroke-width="0.7"/>
<line x1="519.5" y1="283.35" x2="521" y2="283.35" stroke="#333" stroke-width="0.7"/>
<text x="515.8" y="294.1" font-size="8.8" text-anchor="end">30</text>
<text x="515.8" y="309.6" font-size="8.8" text-anchor="end">20</text>
<text x="515.8" y="325.1" font-size="8.8" text-anchor="end">10</text>
<text x="515.8" y="340.6" font-size="8.8" text-anchor="end">0</text>
<text x="515.8" y="356.1" font-size="8.8" text-anchor="end">-10</text>
<text x="515.8" y="371.6" font-size="8.8" text-anchor="end">-20</text>
<text x="515.8" y="387.1" font-size="8.8" text-anchor="end">-30</text>
<line x1="519.5" y1="393.0" x2="519.5" y2="390.2" stroke="#333" stroke-width="0.7"/>
<line x1="523.9" y1="393.0" x2="523.9" y2="391.9" stroke="#333" stroke-width="0.5"/>
<line x1="526.48" y1="393.0" x2="526.48" y2="391.9" stroke="#333" stroke-width="0.5"/>
<line x1="528.31" y1="393.0" x2="528.31" y2="391.9" stroke="#333" stroke-width="0.5"/>
<line x1="529.73" y1="393.0" x2="529.73" y2="391.9" stroke="#333" stroke-width="0.5"/>
<line x1="530.88" y1="393.0" x2="530.88" y2="391.9" stroke="#333" stroke-width="0.5"/>
<line x1="531.86" y1="393.0" x2="531.86" y2="391.9" stroke="#333" stroke-width="0.5"/>
<line x1="532.71" y1="393.0" x2="532.71" y2="391.9" stroke="#333" stroke-width="0.5"/>
<line x1="533.46" y1="393.0" x2="533.46" y2="391.9" stroke="#333" stroke-width="0.5"/>
<line x1="534.13" y1="393.0" x2="534.13" y2="391" stroke="#333" stroke-width="0.7"/>
<line x1="538.53" y1="393.0" x2="538.53" y2="391.9" stroke="#333" stroke-width="0.5"/>
<line x1="541.11" y1="393.0" x2="541.11" y2="391.9" stroke="#333" stroke-width="0.5"/>
<line x1="542.94" y1="393.0" x2="542.94" y2="391.9" stroke="#333" stroke-width="0.5"/>
<line x1="544.36" y1="393.0" x2="544.36" y2="391.9" stroke="#333" stroke-width="0.5"/>
<line x1="545.51" y1="393.0" x2="545.51" y2="391.9" stroke="#333" stroke-width="0.5"/>
<line x1="546.49" y1="393.0" x2="546.49" y2="391.9" stroke="#333" stroke-width="0.5"/>
<line x1="547.34" y1="393.0" x2="547.34" y2="391.9" stroke="#333" stroke-width="0.5"/>
<line x1="548.09" y1="393.0" x2="548.09" y2="391.9" stroke="#333" stroke-width="0.5"/>
<line x1="548.76" y1="393.0" x2="548.76" y2="390.2" stroke="#333" stroke-width="0.7"/>
<line x1="553.16" y1="393.0" x2="553.16" y2="391.9" stroke="#333" stroke-width="0.5"/>
<line x1="555.74" y1="393.0" x2="555.74" y2="391.9" stroke="#333" stroke-width="0.5"/>
<line x1="557.57" y1="393.0" x2="557.57" y2="391.9" stroke="#333" stroke-width="0.5"/>
<line x1="558.99" y1="393.0" x2="558.99" y2="391.9" stroke="#333" stroke-width="0.5"/>
<line x1="560.14" y1="393.0" x2="560.14" y2="391.9" stroke="#333" stroke-width="0.5"/>
<line x1="561.12" y1="393.0" x2="561.12" y2="391.9" stroke="#333" stroke-width="0.5"/>
<line x1="561.97" y1="393.0" x2="561.97" y2="391.9" stroke="#333" stroke-width="0.5"/>
<line x1="562.72" y1="393.0" x2="562.72" y2="391.9" stroke="#333" stroke-width="0.5"/>
<line x1="563.39" y1="393.0" x2="563.39" y2="391" stroke="#333" stroke-width="0.7"/>
<line x1="567.79" y1="393.0" x2="567.79" y2="391.9" stroke="#333" stroke-width="0.5"/>
<line x1="570.37" y1="393.0" x2="570.37" y2="391.9" stroke="#333" stroke-width="0.5"/>
<line x1="572.2" y1="393.0" x2="572.2" y2="391.9" stroke="#333" stroke-width="0.5"/>
<line x1="573.62" y1="393.0" x2="573.62" y2="391.9" stroke="#333" stroke-width="0.5"/>
<line x1="574.77" y1="393.0" x2="574.77" y2="391.9" stroke="#333" stroke-width="0.5"/>
<line x1="575.75" y1="393.0" x2="575.75" y2="391.9" stroke="#333" stroke-width="0.5"/>
<line x1="576.6" y1="393.0" x2="576.6" y2="391.9" stroke="#333" stroke-width="0.5"/>
<line x1="577.35" y1="393.0" x2="577.35" y2="391.9" stroke="#333" stroke-width="0.5"/>
<line x1="578.02" y1="393.0" x2="578.02" y2="390.2" stroke="#333" stroke-width="0.7"/>
<line x1="582.42" y1="393.0" x2="582.42" y2="391.9" stroke="#333" stroke-width="0.5"/>
<line x1="585" y1="393.0" x2="585" y2="391.9" stroke="#333" stroke-width="0.5"/>
<line x1="586.83" y1="393.0" x2="586.83" y2="391.9" stroke="#333" stroke-width="0.5"/>
<line x1="588.25" y1="393.0" x2="588.25" y2="391.9" stroke="#333" stroke-width="0.5"/>
<line x1="589.4" y1="393.0" x2="589.4" y2="391.9" stroke="#333" stroke-width="0.5"/>
<line x1="590.38" y1="393.0" x2="590.38" y2="391.9" stroke="#333" stroke-width="0.5"/>
<line x1="591.23" y1="393.0" x2="591.23" y2="391.9" stroke="#333" stroke-width="0.5"/>
<line x1="591.98" y1="393.0" x2="591.98" y2="391.9" stroke="#333" stroke-width="0.5"/>
<line x1="592.65" y1="393.0" x2="592.65" y2="391" stroke="#333" stroke-width="0.7"/>
<line x1="597.05" y1="393.0" x2="597.05" y2="391.9" stroke="#333" stroke-width="0.5"/>
<line x1="599.63" y1="393.0" x2="599.63" y2="391.9" stroke="#333" stroke-width="0.5"/>
<line x1="601.46" y1="393.0" x2="601.46" y2="391.9" stroke="#333" stroke-width="0.5"/>
<line x1="602.88" y1="393.0" x2="602.88" y2="391.9" stroke="#333" stroke-width="0.5"/>
<line x1="604.03" y1="393.0" x2="604.03" y2="391.9" stroke="#333" stroke-width="0.5"/>
<line x1="605.01" y1="393.0" x2="605.01" y2="391.9" stroke="#333" stroke-width="0.5"/>
<line x1="605.86" y1="393.0" x2="605.86" y2="391.9" stroke="#333" stroke-width="0.5"/>
<line x1="606.61" y1="393.0" x2="606.61" y2="391.9" stroke="#333" stroke-width="0.5"/>
<line x1="607.28" y1="393.0" x2="607.28" y2="390.2" stroke="#333" stroke-width="0.7"/>
<line x1="611.68" y1="393.0" x2="611.68" y2="391.9" stroke="#333" stroke-width="0.5"/>
<line x1="614.26" y1="393.0" x2="614.26" y2="391.9" stroke="#333" stroke-width="0.5"/>
<line x1="616.09" y1="393.0" x2="616.09" y2="391.9" stroke="#333" stroke-width="0.5"/>
<line x1="617.51" y1="393.0" x2="617.51" y2="391.9" stroke="#333" stroke-width="0.5"/>
<line x1="618.66" y1="393.0" x2="618.66" y2="391.9" stroke="#333" stroke-width="0.5"/>
<line x1="619.64" y1="393.0" x2="619.64" y2="391.9" stroke="#333" stroke-width="0.5"/>
<line x1="620.49" y1="393.0" x2="620.49" y2="391.9" stroke="#333" stroke-width="0.5"/>
<line x1="621.24" y1="393.0" x2="621.24" y2="391.9" stroke="#333" stroke-width="0.5"/>
<line x1="621.91" y1="393.0" x2="621.91" y2="391" stroke="#333" stroke-width="0.7"/>
<line x1="626.31" y1="393.0" x2="626.31" y2="391.9" stroke="#333" stroke-width="0.5"/>
<line x1="628.89" y1="393.0" x2="628.89" y2="391.9" stroke="#333" stroke-width="0.5"/>
<line x1="630.72" y1="393.0" x2="630.72" y2="391.9" stroke="#333" stroke-width="0.5"/>
<line x1="632.14" y1="393.0" x2="632.14" y2="391.9" stroke="#333" stroke-width="0.5"/>
<line x1="633.29" y1="393.0" x2="633.29" y2="391.9" stroke="#333" stroke-width="0.5"/>
<line x1="634.27" y1="393.0" x2="634.27" y2="391.9" stroke="#333" stroke-width="0.5"/>
<line x1="635.12" y1="393.0" x2="635.12" y2="391.9" stroke="#333" stroke-width="0.5"/>
<line x1="635.87" y1="393.0" x2="635.87" y2="391.9" stroke="#333" stroke-width="0.5"/>
<line x1="636.54" y1="393.0" x2="636.54" y2="390.2" stroke="#333" stroke-width="0.7"/>
<line x1="640.94" y1="393.0" x2="640.94" y2="391.9" stroke="#333" stroke-width="0.5"/>
<line x1="643.52" y1="393.0" x2="643.52" y2="391.9" stroke="#333" stroke-width="0.5"/>
<line x1="645.35" y1="393.0" x2="645.35" y2="391.9" stroke="#333" stroke-width="0.5"/>
<line x1="646.77" y1="393.0" x2="646.77" y2="391.9" stroke="#333" stroke-width="0.5"/>
<line x1="647.92" y1="393.0" x2="647.92" y2="391.9" stroke="#333" stroke-width="0.5"/>
<line x1="648.9" y1="393.0" x2="648.9" y2="391.9" stroke="#333" stroke-width="0.5"/>
<line x1="649.75" y1="393.0" x2="649.75" y2="391.9" stroke="#333" stroke-width="0.5"/>
<line x1="650.5" y1="393.0" x2="650.5" y2="391.9" stroke="#333" stroke-width="0.5"/>
<line x1="651.17" y1="393.0" x2="651.17" y2="391" stroke="#333" stroke-width="0.7"/>
<line x1="655.57" y1="393.0" x2="655.57" y2="391.9" stroke="#333" stroke-width="0.5"/>
<line x1="658.15" y1="393.0" x2="658.15" y2="391.9" stroke="#333" stroke-width="0.5"/>
<line x1="659.98" y1="393.0" x2="659.98" y2="391.9" stroke="#333" stroke-width="0.5"/>
<line x1="661.4" y1="393.0" x2="661.4" y2="391.9" stroke="#333" stroke-width="0.5"/>
<line x1="662.55" y1="393.0" x2="662.55" y2="391.9" stroke="#333" stroke-width="0.5"/>
<line x1="663.53" y1="393.0" x2="663.53" y2="391.9" stroke="#333" stroke-width="0.5"/>
<line x1="664.38" y1="393.0" x2="664.38" y2="391.9" stroke="#333" stroke-width="0.5"/>
<line x1="665.13" y1="393.0" x2="665.13" y2="391.9" stroke="#333" stroke-width="0.5"/>
<line x1="665.8" y1="393.0" x2="665.8" y2="390.2" stroke="#333" stroke-width="0.7"/>
<text x="517" y="401.3" font-size="8.8" text-anchor="middle"><tspan>10</tspan><tspan dy="-3.34" font-size="6.16">0</tspan></text>
<text x="546.26" y="401.3" font-size="8.8" text-anchor="middle"><tspan>10</tspan><tspan dy="-3.34" font-size="6.16">2</tspan></text>
<text x="575.52" y="401.3" font-size="8.8" text-anchor="middle"><tspan>10</tspan><tspan dy="-3.34" font-size="6.16">4</tspan></text>
<text x="604.78" y="401.3" font-size="8.8" text-anchor="middle"><tspan>10</tspan><tspan dy="-3.34" font-size="6.16">6</tspan></text>
<text x="634.04" y="401.3" font-size="8.8" text-anchor="middle"><tspan>10</tspan><tspan dy="-3.34" font-size="6.16">8</tspan></text>
<text x="663.3" y="401.3" font-size="8.8" text-anchor="middle"><tspan>10</tspan><tspan dy="-3.34" font-size="6.16">10</tspan></text>
<text x="599.3" y="415.4" font-size="11.6" text-anchor="middle">Cycle numbers</text>
<text x="500.8" y="339" font-size="11.6" text-anchor="middle" transform="rotate(-90 500.8 339)"><tspan font-style="italic">Pr</tspan><tspan> (µC cm</tspan><tspan dy="-4.41" font-size="8.35">-2</tspan><tspan dy="4.41">)</tspan></text>
<text x="604" y="293.4" font-size="8.6">Cycle at 1 MHz</text>
<text x="604" y="301.8" font-size="8.6">Read&#160; at 5 kHz</text>
<line x1="597" y1="330.7" x2="613.5" y2="330.7" stroke="#f07060" stroke-width="0.7"/>
<circle cx="605" cy="330.7" r="2.35" fill="url(#gRC)"/>
<text x="617.3" y="333.4" font-size="8" font-weight="bold">Bare HZO</text>
<line x1="597" y1="338.6" x2="613.5" y2="338.6" stroke="#88b8dc" stroke-width="0.7"/>
<circle cx="605" cy="338.6" r="2.35" fill="url(#gBC)"/>
<text x="617.3" y="341.3" font-size="8" font-weight="bold"><tspan>CeO</tspan><tspan dy="2.24" font-size="5.76">2-</tspan><tspan font-size="5.76" font-style="italic">x</tspan><tspan dy="-2.24"> capping</tspan></text>
<text x="306.2" y="419.3" font-size="17" font-weight="bold" font-family="Liberation Serif">g</text>
<rect x="321.6" y="427.3" width="159" height="111.5" fill="none" stroke="#444" stroke-width="0.9"/>
<line x1="321.58" y1="538.8" x2="321.58" y2="536.2" stroke="#444" stroke-width="0.7"/>
<line x1="331.52" y1="538.8" x2="331.52" y2="537.3" stroke="#444" stroke-width="0.7"/>
<line x1="341.46" y1="538.8" x2="341.46" y2="536.2" stroke="#444" stroke-width="0.7"/>
<line x1="351.4" y1="538.8" x2="351.4" y2="537.3" stroke="#444" stroke-width="0.7"/>
<line x1="361.34" y1="538.8" x2="361.34" y2="536.2" stroke="#444" stroke-width="0.7"/>
<line x1="371.28" y1="538.8" x2="371.28" y2="537.3" stroke="#444" stroke-width="0.7"/>
<line x1="381.22" y1="538.8" x2="381.22" y2="536.2" stroke="#444" stroke-width="0.7"/>
<line x1="391.16" y1="538.8" x2="391.16" y2="537.3" stroke="#444" stroke-width="0.7"/>
<line x1="401.1" y1="538.8" x2="401.1" y2="536.2" stroke="#444" stroke-width="0.7"/>
<line x1="411.04" y1="538.8" x2="411.04" y2="537.3" stroke="#444" stroke-width="0.7"/>
<line x1="420.98" y1="538.8" x2="420.98" y2="536.2" stroke="#444" stroke-width="0.7"/>
<line x1="430.92" y1="538.8" x2="430.92" y2="537.3" stroke="#444" stroke-width="0.7"/>
<line x1="440.86" y1="538.8" x2="440.86" y2="536.2" stroke="#444" stroke-width="0.7"/>
<line x1="450.8" y1="538.8" x2="450.8" y2="537.3" stroke="#444" stroke-width="0.7"/>
<line x1="460.74" y1="538.8" x2="460.74" y2="536.2" stroke="#444" stroke-width="0.7"/>
<line x1="470.68" y1="538.8" x2="470.68" y2="537.3" stroke="#444" stroke-width="0.7"/>
<line x1="480.62" y1="538.8" x2="480.62" y2="536.2" stroke="#444" stroke-width="0.7"/>
<text x="321.58" y="548.4" font-size="8.8" text-anchor="middle">-8</text>
<text x="341.46" y="548.4" font-size="8.8" text-anchor="middle">-6</text>
<text x="361.34" y="548.4" font-size="8.8" text-anchor="middle">-4</text>
<text x="381.22" y="548.4" font-size="8.8" text-anchor="middle">-2</text>
<text x="401.1" y="548.4" font-size="8.8" text-anchor="middle">0</text>
<text x="420.98" y="548.4" font-size="8.8" text-anchor="middle">2</text>
<text x="440.86" y="548.4" font-size="8.8" text-anchor="middle">4</text>
<text x="460.74" y="548.4" font-size="8.8" text-anchor="middle">6</text>
<text x="480.62" y="548.4" font-size="8.8" text-anchor="middle">8</text>
<line x1="321.6" y1="538.25" x2="323.1" y2="538.25" stroke="#444" stroke-width="0.7"/>
<line x1="321.6" y1="527.2" x2="324.2" y2="527.2" stroke="#444" stroke-width="0.7"/>
<line x1="321.6" y1="516.15" x2="323.1" y2="516.15" stroke="#444" stroke-width="0.7"/>
<line x1="321.6" y1="505.1" x2="324.2" y2="505.1" stroke="#444" stroke-width="0.7"/>
<line x1="321.6" y1="494.05" x2="323.1" y2="494.05" stroke="#444" stroke-width="0.7"/>
<line x1="321.6" y1="483" x2="324.2" y2="483" stroke="#444" stroke-width="0.7"/>
<line x1="321.6" y1="471.95" x2="323.1" y2="471.95" stroke="#444" stroke-width="0.7"/>
<line x1="321.6" y1="460.9" x2="324.2" y2="460.9" stroke="#444" stroke-width="0.7"/>
<line x1="321.6" y1="449.85" x2="323.1" y2="449.85" stroke="#444" stroke-width="0.7"/>
<line x1="321.6" y1="438.8" x2="324.2" y2="438.8" stroke="#444" stroke-width="0.7"/>
<line x1="321.6" y1="427.75" x2="323.1" y2="427.75" stroke="#444" stroke-width="0.7"/>
<text x="317.6" y="441.9" font-size="8.8" text-anchor="end">40</text>
<text x="317.6" y="464" font-size="8.8" text-anchor="end">20</text>
<text x="317.6" y="486.1" font-size="8.8" text-anchor="end">0</text>
<text x="317.6" y="508.2" font-size="8.8" text-anchor="end">-20</text>
<text x="317.6" y="530.3" font-size="8.8" text-anchor="end">-40</text>
<text x="401.1" y="564" font-size="11.6" text-anchor="middle"><tspan>Electric field (MV cm</tspan><tspan dy="-4.41" font-size="8.35">-1</tspan><tspan dy="4.41">)</tspan></text>
<text x="303" y="487" font-size="11.6" text-anchor="middle" transform="rotate(-90 303 487)"><tspan>Polarization (µC cm</tspan><tspan dy="-4.41" font-size="8.35">-2</tspan><tspan dy="4.41">)</tspan></text>
<g fill="none" stroke-width="1.35" stroke-linejoin="round">
<path d="M341.46 514.36 L342.95 514.12 L344.44 513.88 L345.93 513.65 L347.42 513.41 L348.92 513.17 L350.41 512.93 L351.9 512.69 L353.39 512.45 L354.88 512.21 L356.37 511.96 L357.86 511.72 L359.35 511.47 L360.84 511.22 L362.33 510.96 L363.83 510.7 L365.32 510.44 L366.81 510.18 L368.3 509.91 L369.79 509.63 L371.28 509.35 L372.77 509.07 L374.26 508.77 L375.75 508.46 L377.24 508.15 L378.74 507.82 L380.23 507.48 L381.72 507.12 L383.21 506.75 L384.7 506.36 L386.19 505.94 L387.68 505.5 L389.17 505.03 L390.66 504.54 L392.15 504 L393.65 503.43 L395.14 502.81 L396.63 502.15 L398.12 501.44 L399.61 500.66 L401.1 499.83 L402.59 498.93 L404.08 497.96 L405.57 496.92 L407.06 495.8 L408.56 494.61 L410.05 493.33 L411.54 491.98 L413.03 490.55 L414.52 489.05 L416.01 487.48 L417.5 485.86 L418.99 484.19 L420.48 482.48 L421.97 480.76 L423.47 479.02 L424.96 477.28 L426.45 475.57 L427.94 473.89 L429.43 472.25 L430.92 470.66 L432.41 469.14 L433.9 467.68 L435.39 466.3 L436.88 465 L438.38 463.78 L439.87 462.63 L441.36 461.57 L442.85 460.58 L444.34 459.65 L445.83 458.8 L447.32 458.01 L448.81 457.28 L450.3 456.6 L451.79 455.96 L453.29 455.38 L454.78 454.83 L456.27 454.32 L457.76 453.84 L459.25 453.39 L460.74 452.97 L460.74 451.63 L459.25 451.86 L457.76 452.1 L456.27 452.33 L454.78 452.57 L453.29 452.8 L451.79 453.04 L450.3 453.27 L448.81 453.51 L447.32 453.75 L445.83 453.99 L444.34 454.23 L442.85 454.47 L441.36 454.71 L439.87 454.95 L438.38 455.19 L436.88 455.44 L435.39 455.69 L433.9 455.94 L432.41 456.19 L430.92 456.45 L429.43 456.71 L427.94 456.97 L426.45 457.24 L424.96 457.51 L423.47 457.79 L421.97 458.08 L420.48 458.37 L418.99 458.67 L417.5 458.98 L416.01 459.31 L414.52 459.64 L413.03 459.99 L411.54 460.36 L410.05 460.75 L408.56 461.15 L407.06 461.59 L405.57 462.04 L404.08 462.53 L402.59 463.05 L401.1 463.61 L399.61 464.21 L398.12 464.86 L396.63 465.56 L395.14 466.31 L393.65 467.12 L392.15 468 L390.66 468.94 L389.17 469.96 L387.68 471.05 L386.19 472.22 L384.7 473.47 L383.21 474.8 L381.72 476.2 L380.23 477.68 L378.74 479.23 L377.24 480.83 L375.75 482.49 L374.26 484.18 L372.77 485.9 L371.28 487.64 L369.79 489.38 L368.3 491.1 L366.81 492.8 L365.32 494.45 L363.83 496.06 L362.33 497.6 L360.84 499.08 L359.35 500.48 L357.86 501.81 L356.37 503.06 L354.88 504.23 L353.39 505.32 L351.9 506.34 L350.41 507.28 L348.92 508.16 L347.42 508.97 L345.93 509.72 L344.44 510.42 L342.95 511.07 L341.46 511.67Z" stroke="#b4d8ee"/>
<path d="M341.46 522.78 L342.95 522.32 L344.44 521.87 L345.93 521.41 L347.42 520.96 L348.92 520.5 L350.41 520.04 L351.9 519.59 L353.39 519.13 L354.88 518.68 L356.37 518.22 L357.86 517.76 L359.35 517.31 L360.84 516.85 L362.33 516.39 L363.83 515.93 L365.32 515.48 L366.81 515.02 L368.3 514.56 L369.79 514.1 L371.28 513.64 L372.77 513.17 L374.26 512.71 L375.75 512.24 L377.24 511.77 L378.74 511.3 L380.23 510.82 L381.72 510.34 L383.21 509.86 L384.7 509.36 L386.19 508.86 L387.68 508.34 L389.17 507.81 L390.66 507.26 L392.15 506.69 L393.65 506.09 L395.14 505.46 L396.63 504.79 L398.12 504.08 L399.61 503.3 L401.1 502.45 L402.59 501.51 L404.08 500.47 L405.57 499.32 L407.06 498.03 L408.56 496.58 L410.05 494.97 L411.54 493.16 L413.03 491.17 L414.52 488.98 L416.01 486.6 L417.5 484.06 L418.99 481.39 L420.48 478.63 L421.97 475.84 L423.47 473.06 L424.96 470.36 L426.45 467.77 L427.94 465.34 L429.43 463.08 L430.92 461.02 L432.41 459.15 L433.9 457.48 L435.39 455.98 L436.88 454.64 L438.38 453.44 L439.87 452.36 L441.36 451.4 L442.85 450.52 L444.34 449.72 L445.83 448.98 L447.32 448.3 L448.81 447.65 L450.3 447.05 L451.79 446.47 L453.29 445.91 L454.78 445.38 L456.27 444.86 L457.76 444.35 L459.25 443.85 L460.74 443.36 L460.74 443.23 L459.25 443.68 L457.76 444.14 L456.27 444.6 L454.78 445.05 L453.29 445.51 L451.79 445.97 L450.3 446.43 L448.81 446.89 L447.32 447.35 L445.83 447.81 L444.34 448.27 L442.85 448.73 L441.36 449.2 L439.87 449.66 L438.38 450.13 L436.88 450.59 L435.39 451.06 L433.9 451.54 L432.41 452.01 L430.92 452.49 L429.43 452.97 L427.94 453.46 L426.45 453.96 L424.96 454.46 L423.47 454.96 L421.97 455.48 L420.48 456.01 L418.99 456.55 L417.5 457.1 L416.01 457.67 L414.52 458.26 L413.03 458.87 L411.54 459.51 L410.05 460.18 L408.56 460.88 L407.06 461.62 L405.57 462.41 L404.08 463.25 L402.59 464.15 L401.1 465.11 L399.61 466.14 L398.12 467.26 L396.63 468.47 L395.14 469.77 L393.65 471.17 L392.15 472.68 L390.66 474.29 L389.17 476.02 L387.68 477.84 L386.19 479.77 L384.7 481.79 L383.21 483.88 L381.72 486.03 L380.23 488.22 L378.74 490.42 L377.24 492.61 L375.75 494.78 L374.26 496.89 L372.77 498.93 L371.28 500.89 L369.79 502.76 L368.3 504.52 L366.81 506.17 L365.32 507.71 L363.83 509.15 L362.33 510.48 L360.84 511.72 L359.35 512.86 L357.86 513.93 L356.37 514.91 L354.88 515.83 L353.39 516.69 L351.9 517.49 L350.41 518.25 L348.92 518.96 L347.42 519.64 L345.93 520.29 L344.44 520.91 L342.95 521.51 L341.46 522.08Z" stroke="#8cbadf"/>
<path d="M341.46 524.33 L342.95 523.85 L344.44 523.37 L345.93 522.88 L347.42 522.4 L348.92 521.92 L350.41 521.44 L351.9 520.96 L353.39 520.48 L354.88 520 L356.37 519.52 L357.86 519.04 L359.35 518.56 L360.84 518.07 L362.33 517.59 L363.83 517.11 L365.32 516.63 L366.81 516.15 L368.3 515.66 L369.79 515.18 L371.28 514.69 L372.77 514.21 L374.26 513.72 L375.75 513.23 L377.24 512.74 L378.74 512.25 L380.23 511.75 L381.72 511.25 L383.21 510.75 L384.7 510.24 L386.19 509.72 L387.68 509.19 L389.17 508.65 L390.66 508.09 L392.15 507.52 L393.65 506.92 L395.14 506.3 L396.63 505.63 L398.12 504.93 L399.61 504.17 L401.1 503.34 L402.59 502.43 L404.08 501.43 L405.57 500.31 L407.06 499.05 L408.56 497.64 L410.05 496.04 L411.54 494.25 L413.03 492.25 L414.52 490.03 L416.01 487.6 L417.5 484.97 L418.99 482.17 L420.48 479.25 L421.97 476.27 L423.47 473.29 L424.96 470.37 L426.45 467.57 L427.94 464.94 L429.43 462.51 L430.92 460.29 L432.41 458.29 L433.9 456.5 L435.39 454.91 L436.88 453.49 L438.38 452.24 L439.87 451.12 L441.36 450.11 L442.85 449.2 L444.34 448.38 L445.83 447.61 L447.32 446.91 L448.81 446.25 L450.3 445.62 L451.79 445.02 L453.29 444.45 L454.78 443.89 L456.27 443.35 L457.76 442.82 L459.25 442.3 L460.74 441.79 L460.74 441.68 L459.25 442.16 L457.76 442.64 L456.27 443.12 L454.78 443.6 L453.29 444.09 L451.79 444.57 L450.3 445.05 L448.81 445.54 L447.32 446.02 L445.83 446.5 L444.34 446.99 L442.85 447.48 L441.36 447.96 L439.87 448.45 L438.38 448.94 L436.88 449.43 L435.39 449.92 L433.9 450.42 L432.41 450.92 L430.92 451.42 L429.43 451.92 L427.94 452.43 L426.45 452.94 L424.96 453.46 L423.47 453.99 L421.97 454.52 L420.48 455.06 L418.99 455.62 L417.5 456.19 L416.01 456.77 L414.52 457.37 L413.03 457.99 L411.54 458.64 L410.05 459.31 L408.56 460.02 L407.06 460.76 L405.57 461.55 L404.08 462.39 L402.59 463.29 L401.1 464.25 L399.61 465.29 L398.12 466.4 L396.63 467.61 L395.14 468.92 L393.65 470.33 L392.15 471.85 L390.66 473.49 L389.17 475.24 L387.68 477.11 L386.19 479.1 L384.7 481.18 L383.21 483.36 L381.72 485.6 L380.23 487.89 L378.74 490.21 L377.24 492.53 L375.75 494.82 L374.26 497.06 L372.77 499.24 L371.28 501.32 L369.79 503.31 L368.3 505.18 L366.81 506.94 L365.32 508.57 L363.83 510.09 L362.33 511.5 L360.84 512.81 L359.35 514.02 L357.86 515.13 L356.37 516.17 L354.88 517.13 L353.39 518.03 L351.9 518.87 L350.41 519.66 L348.92 520.4 L347.42 521.11 L345.93 521.78 L344.44 522.43 L342.95 523.05 L341.46 523.65Z" stroke="#6a9dd0"/>
<path d="M341.46 525.54 L342.95 525.05 L344.44 524.55 L345.93 524.05 L347.42 523.55 L348.92 523.06 L350.41 522.56 L351.9 522.06 L353.39 521.56 L354.88 521.07 L356.37 520.57 L357.86 520.07 L359.35 519.57 L360.84 519.08 L362.33 518.58 L363.83 518.08 L365.32 517.58 L366.81 517.08 L368.3 516.58 L369.79 516.08 L371.28 515.58 L372.77 515.08 L374.26 514.58 L375.75 514.08 L377.24 513.57 L378.74 513.06 L380.23 512.55 L381.72 512.04 L383.21 511.53 L384.7 511 L386.19 510.47 L387.68 509.94 L389.17 509.39 L390.66 508.83 L392.15 508.25 L393.65 507.66 L395.14 507.03 L396.63 506.38 L398.12 505.68 L399.61 504.94 L401.1 504.13 L402.59 503.25 L404.08 502.27 L405.57 501.19 L407.06 499.97 L408.56 498.6 L410.05 497.04 L411.54 495.28 L413.03 493.3 L414.52 491.09 L416.01 488.63 L417.5 485.95 L418.99 483.08 L420.48 480.05 L421.97 476.92 L423.47 473.78 L424.96 470.68 L426.45 467.69 L427.94 464.87 L429.43 462.27 L430.92 459.89 L432.41 457.76 L433.9 455.85 L435.39 454.16 L436.88 452.67 L438.38 451.35 L439.87 450.18 L441.36 449.14 L442.85 448.19 L444.34 447.34 L445.83 446.55 L447.32 445.83 L448.81 445.15 L450.3 444.5 L451.79 443.89 L453.29 443.3 L454.78 442.73 L456.27 442.17 L457.76 441.63 L459.25 441.09 L460.74 440.57 L460.74 440.46 L459.25 440.96 L457.76 441.46 L456.27 441.96 L454.78 442.45 L453.29 442.95 L451.79 443.45 L450.3 443.95 L448.81 444.45 L447.32 444.95 L445.83 445.45 L444.34 445.95 L442.85 446.45 L441.36 446.95 L439.87 447.46 L438.38 447.96 L436.88 448.47 L435.39 448.97 L433.9 449.48 L432.41 449.99 L430.92 450.51 L429.43 451.03 L427.94 451.55 L426.45 452.07 L424.96 452.6 L423.47 453.14 L421.97 453.68 L420.48 454.23 L418.99 454.79 L417.5 455.37 L416.01 455.96 L414.52 456.56 L413.03 457.18 L411.54 457.83 L410.05 458.5 L408.56 459.21 L407.06 459.95 L405.57 460.73 L404.08 461.56 L402.59 462.45 L401.1 463.4 L399.61 464.42 L398.12 465.52 L396.63 466.72 L395.14 468.01 L393.65 469.42 L392.15 470.94 L390.66 472.59 L389.17 474.36 L387.68 476.26 L386.19 478.28 L384.7 480.42 L383.21 482.67 L381.72 484.99 L380.23 487.38 L378.74 489.81 L377.24 492.25 L375.75 494.67 L374.26 497.04 L372.77 499.34 L371.28 501.55 L369.79 503.65 L368.3 505.64 L366.81 507.49 L365.32 509.22 L363.83 510.83 L362.33 512.31 L360.84 513.68 L359.35 514.94 L357.86 516.1 L356.37 517.18 L354.88 518.18 L353.39 519.1 L351.9 519.97 L350.41 520.78 L348.92 521.55 L347.42 522.28 L345.93 522.97 L344.44 523.64 L342.95 524.27 L341.46 524.89Z" stroke="#5088c2"/>
<path d="M341.46 525.87 L342.95 525.37 L344.44 524.86 L345.93 524.36 L347.42 523.85 L348.92 523.35 L350.41 522.84 L351.9 522.33 L353.39 521.83 L354.88 521.32 L356.37 520.82 L357.86 520.31 L359.35 519.81 L360.84 519.3 L362.33 518.79 L363.83 518.29 L365.32 517.78 L366.81 517.27 L368.3 516.77 L369.79 516.26 L371.28 515.75 L372.77 515.24 L374.26 514.73 L375.75 514.22 L377.24 513.71 L378.74 513.2 L380.23 512.68 L381.72 512.17 L383.21 511.64 L384.7 511.12 L386.19 510.59 L387.68 510.05 L389.17 509.5 L390.66 508.94 L392.15 508.37 L393.65 507.78 L395.14 507.17 L396.63 506.53 L398.12 505.85 L399.61 505.13 L401.1 504.35 L402.59 503.5 L404.08 502.57 L405.57 501.54 L407.06 500.38 L408.56 499.07 L410.05 497.59 L411.54 495.9 L413.03 494 L414.52 491.85 L416.01 489.45 L417.5 486.81 L418.99 483.94 L420.48 480.9 L421.97 477.73 L423.47 474.51 L424.96 471.32 L426.45 468.22 L427.94 465.29 L429.43 462.57 L430.92 460.09 L432.41 457.86 L433.9 455.88 L435.39 454.12 L436.88 452.57 L438.38 451.21 L439.87 450 L441.36 448.93 L442.85 447.97 L444.34 447.09 L445.83 446.3 L447.32 445.56 L448.81 444.87 L450.3 444.21 L451.79 443.59 L453.29 443 L454.78 442.42 L456.27 441.85 L457.76 441.3 L459.25 440.76 L460.74 440.23 L460.74 440.13 L459.25 440.63 L457.76 441.14 L456.27 441.65 L454.78 442.15 L453.29 442.66 L451.79 443.17 L450.3 443.67 L448.81 444.18 L447.32 444.69 L445.83 445.2 L444.34 445.71 L442.85 446.21 L441.36 446.72 L439.87 447.24 L438.38 447.75 L436.88 448.26 L435.39 448.77 L433.9 449.29 L432.41 449.81 L430.92 450.33 L429.43 450.85 L427.94 451.38 L426.45 451.9 L424.96 452.44 L423.47 452.98 L421.97 453.52 L420.48 454.08 L418.99 454.64 L417.5 455.22 L416.01 455.8 L414.52 456.4 L413.03 457.02 L411.54 457.66 L410.05 458.33 L408.56 459.02 L407.06 459.75 L405.57 460.51 L404.08 461.32 L402.59 462.19 L401.1 463.11 L399.61 464.11 L398.12 465.18 L396.63 466.35 L395.14 467.61 L393.65 468.98 L392.15 470.46 L390.66 472.07 L389.17 473.81 L387.68 475.69 L386.19 477.69 L384.7 479.82 L383.21 482.06 L381.72 484.4 L380.23 486.81 L378.74 489.27 L377.24 491.75 L375.75 494.22 L374.26 496.65 L372.77 499.01 L371.28 501.29 L369.79 503.45 L368.3 505.5 L366.81 507.42 L365.32 509.2 L363.83 510.86 L362.33 512.38 L360.84 513.79 L359.35 515.09 L357.86 516.28 L356.37 517.38 L354.88 518.4 L353.39 519.35 L351.9 520.23 L350.41 521.06 L348.92 521.84 L347.42 522.58 L345.93 523.29 L344.44 523.96 L342.95 524.61 L341.46 525.23Z" stroke="#3d74b4"/>
<path d="M341.46 526.76 L342.95 526.24 L344.44 525.73 L345.93 525.22 L347.42 524.7 L348.92 524.19 L350.41 523.67 L351.9 523.16 L353.39 522.65 L354.88 522.13 L356.37 521.62 L357.86 521.1 L359.35 520.59 L360.84 520.08 L362.33 519.56 L363.83 519.05 L365.32 518.53 L366.81 518.02 L368.3 517.5 L369.79 516.99 L371.28 516.47 L372.77 515.96 L374.26 515.44 L375.75 514.92 L377.24 514.4 L378.74 513.88 L380.23 513.36 L381.72 512.84 L383.21 512.31 L384.7 511.78 L386.19 511.24 L387.68 510.7 L389.17 510.15 L390.66 509.6 L392.15 509.02 L393.65 508.44 L395.14 507.83 L396.63 507.2 L398.12 506.53 L399.61 505.83 L401.1 505.07 L402.59 504.25 L404.08 503.35 L405.57 502.36 L407.06 501.24 L408.56 499.98 L410.05 498.55 L411.54 496.91 L413.03 495.05 L414.52 492.94 L416.01 490.57 L417.5 487.92 L418.99 485.03 L420.48 481.91 L421.97 478.65 L423.47 475.29 L424.96 471.94 L426.45 468.67 L427.94 465.56 L429.43 462.66 L430.92 460.02 L432.41 457.64 L433.9 455.53 L435.39 453.67 L436.88 452.04 L438.38 450.61 L439.87 449.34 L441.36 448.23 L442.85 447.23 L444.34 446.33 L445.83 445.51 L447.32 444.76 L448.81 444.05 L450.3 443.39 L451.79 442.75 L453.29 442.15 L454.78 441.56 L456.27 440.99 L457.76 440.43 L459.25 439.88 L460.74 439.34 L460.74 439.24 L459.25 439.76 L457.76 440.27 L456.27 440.79 L454.78 441.3 L453.29 441.82 L451.79 442.33 L450.3 442.85 L448.81 443.36 L447.32 443.88 L445.83 444.39 L444.34 444.91 L442.85 445.43 L441.36 445.95 L439.87 446.46 L438.38 446.98 L436.88 447.5 L435.39 448.02 L433.9 448.55 L432.41 449.07 L430.92 449.6 L429.43 450.13 L427.94 450.66 L426.45 451.2 L424.96 451.74 L423.47 452.28 L421.97 452.83 L420.48 453.39 L418.99 453.96 L417.5 454.54 L416.01 455.12 L414.52 455.73 L413.03 456.35 L411.54 456.99 L410.05 457.65 L408.56 458.34 L407.06 459.06 L405.57 459.82 L404.08 460.63 L402.59 461.48 L401.1 462.4 L399.61 463.38 L398.12 464.44 L396.63 465.59 L395.14 466.83 L393.65 468.19 L392.15 469.66 L390.66 471.26 L389.17 473 L387.68 474.87 L386.19 476.89 L384.7 479.03 L383.21 481.3 L381.72 483.68 L380.23 486.14 L378.74 488.67 L377.24 491.22 L375.75 493.78 L374.26 496.3 L372.77 498.77 L371.28 501.14 L369.79 503.41 L368.3 505.56 L366.81 507.57 L365.32 509.44 L363.83 511.18 L362.33 512.78 L360.84 514.25 L359.35 515.61 L357.86 516.85 L356.37 518 L354.88 519.06 L353.39 520.05 L351.9 520.96 L350.41 521.82 L348.92 522.62 L347.42 523.38 L345.93 524.1 L344.44 524.79 L342.95 525.46 L341.46 526.1Z" stroke="#2c60a2"/>
<path d="M341.46 527.42 L342.95 526.89 L344.44 526.36 L345.93 525.83 L347.42 525.3 L348.92 524.77 L350.41 524.24 L351.9 523.71 L353.39 523.18 L354.88 522.65 L356.37 522.12 L357.86 521.59 L359.35 521.06 L360.84 520.52 L362.33 519.99 L363.83 519.46 L365.32 518.93 L366.81 518.4 L368.3 517.87 L369.79 517.34 L371.28 516.81 L372.77 516.27 L374.26 515.74 L375.75 515.21 L377.24 514.67 L378.74 514.14 L380.23 513.6 L381.72 513.06 L383.21 512.52 L384.7 511.98 L386.19 511.43 L387.68 510.87 L389.17 510.31 L390.66 509.74 L392.15 509.16 L393.65 508.57 L395.14 507.96 L396.63 507.33 L398.12 506.66 L399.61 505.97 L401.1 505.22 L402.59 504.42 L404.08 503.55 L405.57 502.58 L407.06 501.51 L408.56 500.29 L410.05 498.92 L411.54 497.35 L413.03 495.56 L414.52 493.53 L416.01 491.22 L417.5 488.63 L418.99 485.78 L420.48 482.69 L421.97 479.41 L423.47 476.01 L424.96 472.58 L426.45 469.22 L427.94 465.99 L429.43 462.97 L430.92 460.21 L432.41 457.72 L433.9 455.5 L435.39 453.55 L436.88 451.84 L438.38 450.34 L439.87 449.02 L441.36 447.86 L442.85 446.82 L444.34 445.89 L445.83 445.04 L447.32 444.26 L448.81 443.53 L450.3 442.85 L451.79 442.19 L453.29 441.57 L454.78 440.96 L456.27 440.38 L457.76 439.8 L459.25 439.23 L460.74 438.68 L460.74 438.58 L459.25 439.11 L457.76 439.64 L456.27 440.17 L454.78 440.71 L453.29 441.24 L451.79 441.77 L450.3 442.3 L448.81 442.83 L447.32 443.36 L445.83 443.9 L444.34 444.43 L442.85 444.96 L441.36 445.5 L439.87 446.03 L438.38 446.57 L436.88 447.1 L435.39 447.64 L433.9 448.18 L432.41 448.72 L430.92 449.26 L429.43 449.81 L427.94 450.36 L426.45 450.91 L424.96 451.46 L423.47 452.02 L421.97 452.59 L420.48 453.16 L418.99 453.74 L417.5 454.33 L416.01 454.93 L414.52 455.55 L413.03 456.18 L411.54 456.83 L410.05 457.5 L408.56 458.19 L407.06 458.92 L405.57 459.69 L404.08 460.49 L402.59 461.35 L401.1 462.26 L399.61 463.23 L398.12 464.28 L396.63 465.42 L395.14 466.65 L393.65 467.98 L392.15 469.43 L390.66 471 L389.17 472.71 L387.68 474.55 L386.19 476.54 L384.7 478.65 L383.21 480.9 L381.72 483.26 L380.23 485.71 L378.74 488.24 L377.24 490.8 L375.75 493.38 L374.26 495.94 L372.77 498.44 L371.28 500.86 L369.79 503.19 L368.3 505.39 L366.81 507.47 L365.32 509.4 L363.83 511.2 L362.33 512.86 L360.84 514.39 L359.35 515.8 L357.86 517.1 L356.37 518.3 L354.88 519.4 L353.39 520.43 L351.9 521.38 L350.41 522.27 L348.92 523.11 L347.42 523.9 L345.93 524.65 L344.44 525.37 L342.95 526.06 L341.46 526.72Z" stroke="#1f4f8f"/>
</g>
<text x="327.6" y="436.9" font-size="9" font-weight="bold"><tspan>CeO</tspan><tspan dy="2.52" font-size="6.48">2-</tspan><tspan font-size="6.48" font-style="italic">x</tspan><tspan dy="-2.52"> capping</tspan></text>
<text x="331.5" y="460.2" font-size="8.6">Cycled at 1 MHz,</text>
<text x="331.5" y="468.3" font-size="8.6">Read at 5 kHz</text>
<line x1="437" y1="473.2" x2="455.2" y2="473.2" stroke="#1f4f8f" stroke-width="0.8" opacity="0.5"/>
<circle cx="446.1" cy="473.2" r="1.0" fill="#1f4f8f"/>
<text x="457.2" y="476.2" font-size="7.8" font-weight="bold"><tspan>1st</tspan></text>
<line x1="437" y1="482.5" x2="455.2" y2="482.5" stroke="#2c60a2" stroke-width="0.8" opacity="0.5"/>
<circle cx="446.1" cy="482.5" r="1.0" fill="#2c60a2"/>
<text x="457.2" y="485.5" font-size="7.8" font-weight="bold"><tspan>10</tspan><tspan dy="-2.96" font-size="5.15">2</tspan><tspan dy="2.96">th</tspan></text>
<line x1="437" y1="492.1" x2="455.2" y2="492.1" stroke="#3d74b4" stroke-width="0.8" opacity="0.5"/>
<circle cx="446.1" cy="492.1" r="1.0" fill="#3d74b4"/>
<text x="457.2" y="495.1" font-size="7.8" font-weight="bold"><tspan>10</tspan><tspan dy="-2.96" font-size="5.15">4</tspan><tspan dy="2.96">th</tspan></text>
<line x1="437" y1="502.5" x2="455.2" y2="502.5" stroke="#5088c2" stroke-width="0.8" opacity="0.5"/>
<circle cx="446.1" cy="502.5" r="1.0" fill="#5088c2"/>
<text x="457.2" y="505.5" font-size="7.8" font-weight="bold"><tspan>10</tspan><tspan dy="-2.96" font-size="5.15">6</tspan><tspan dy="2.96">th</tspan></text>
<line x1="437" y1="512.1" x2="455.2" y2="512.1" stroke="#6a9dd0" stroke-width="0.8" opacity="0.5"/>
<circle cx="446.1" cy="512.1" r="1.0" fill="#6a9dd0"/>
<text x="457.2" y="515.1" font-size="7.8" font-weight="bold"><tspan>10</tspan><tspan dy="-2.96" font-size="5.15">8</tspan><tspan dy="2.96">th</tspan></text>
<line x1="437" y1="521.9" x2="455.2" y2="521.9" stroke="#8cbadf" stroke-width="0.8" opacity="0.5"/>
<circle cx="446.1" cy="521.9" r="1.0" fill="#8cbadf"/>
<text x="457.2" y="524.9" font-size="7.8" font-weight="bold"><tspan>10</tspan><tspan dy="-2.96" font-size="5.15">9</tspan><tspan dy="2.96">th</tspan></text>
<line x1="437" y1="532.3" x2="455.2" y2="532.3" stroke="#b4d8ee" stroke-width="0.8" opacity="0.5"/>
<circle cx="446.1" cy="532.3" r="1.0" fill="#b4d8ee"/>
<text x="457.2" y="535.3" font-size="7.8" font-weight="bold"><tspan>10</tspan><tspan dy="-2.96" font-size="5.15">10</tspan><tspan dy="2.96">th</tspan></text>
<text x="492.6" y="419.6" font-size="17" font-weight="bold" font-family="Liberation Serif">h</text>
<rect x="519.5" y="427.1" width="158" height="110" fill="url(#gH)" stroke="#777" stroke-width="0.8"/>
<line x1="519.5" y1="537.1" x2="519.5" y2="534.7" stroke="#666" stroke-width="0.7"/>
<line x1="526.29" y1="537.1" x2="526.29" y2="535.9" stroke="#666" stroke-width="0.5"/>
<line x1="530.27" y1="537.1" x2="530.27" y2="535.9" stroke="#666" stroke-width="0.5"/>
<line x1="533.09" y1="537.1" x2="533.09" y2="535.9" stroke="#666" stroke-width="0.5"/>
<line x1="535.28" y1="537.1" x2="535.28" y2="535.9" stroke="#666" stroke-width="0.5"/>
<line x1="537.06" y1="537.1" x2="537.06" y2="535.9" stroke="#666" stroke-width="0.5"/>
<line x1="538.57" y1="537.1" x2="538.57" y2="535.9" stroke="#666" stroke-width="0.5"/>
<line x1="539.88" y1="537.1" x2="539.88" y2="535.9" stroke="#666" stroke-width="0.5"/>
<line x1="541.04" y1="537.1" x2="541.04" y2="535.9" stroke="#666" stroke-width="0.5"/>
<text x="517.5" y="547.8" font-size="8.8" text-anchor="middle"><tspan>10</tspan><tspan dy="-3.34" font-size="6.16">4</tspan></text>
<line x1="542.07" y1="537.1" x2="542.07" y2="534.7" stroke="#666" stroke-width="0.7"/>
<line x1="548.86" y1="537.1" x2="548.86" y2="535.9" stroke="#666" stroke-width="0.5"/>
<line x1="552.84" y1="537.1" x2="552.84" y2="535.9" stroke="#666" stroke-width="0.5"/>
<line x1="555.66" y1="537.1" x2="555.66" y2="535.9" stroke="#666" stroke-width="0.5"/>
<line x1="557.85" y1="537.1" x2="557.85" y2="535.9" stroke="#666" stroke-width="0.5"/>
<line x1="559.63" y1="537.1" x2="559.63" y2="535.9" stroke="#666" stroke-width="0.5"/>
<line x1="561.14" y1="537.1" x2="561.14" y2="535.9" stroke="#666" stroke-width="0.5"/>
<line x1="562.45" y1="537.1" x2="562.45" y2="535.9" stroke="#666" stroke-width="0.5"/>
<line x1="563.61" y1="537.1" x2="563.61" y2="535.9" stroke="#666" stroke-width="0.5"/>
<text x="540.07" y="547.8" font-size="8.8" text-anchor="middle"><tspan>10</tspan><tspan dy="-3.34" font-size="6.16">5</tspan></text>
<line x1="564.64" y1="537.1" x2="564.64" y2="534.7" stroke="#666" stroke-width="0.7"/>
<line x1="571.43" y1="537.1" x2="571.43" y2="535.9" stroke="#666" stroke-width="0.5"/>
<line x1="575.41" y1="537.1" x2="575.41" y2="535.9" stroke="#666" stroke-width="0.5"/>
<line x1="578.23" y1="537.1" x2="578.23" y2="535.9" stroke="#666" stroke-width="0.5"/>
<line x1="580.42" y1="537.1" x2="580.42" y2="535.9" stroke="#666" stroke-width="0.5"/>
<line x1="582.2" y1="537.1" x2="582.2" y2="535.9" stroke="#666" stroke-width="0.5"/>
<line x1="583.71" y1="537.1" x2="583.71" y2="535.9" stroke="#666" stroke-width="0.5"/>
<line x1="585.02" y1="537.1" x2="585.02" y2="535.9" stroke="#666" stroke-width="0.5"/>
<line x1="586.18" y1="537.1" x2="586.18" y2="535.9" stroke="#666" stroke-width="0.5"/>
<text x="562.64" y="547.8" font-size="8.8" text-anchor="middle"><tspan>10</tspan><tspan dy="-3.34" font-size="6.16">6</tspan></text>
<line x1="587.21" y1="537.1" x2="587.21" y2="534.7" stroke="#666" stroke-width="0.7"/>
<line x1="594" y1="537.1" x2="594" y2="535.9" stroke="#666" stroke-width="0.5"/>
<line x1="597.98" y1="537.1" x2="597.98" y2="535.9" stroke="#666" stroke-width="0.5"/>
<line x1="600.8" y1="537.1" x2="600.8" y2="535.9" stroke="#666" stroke-width="0.5"/>
<line x1="602.99" y1="537.1" x2="602.99" y2="535.9" stroke="#666" stroke-width="0.5"/>
<line x1="604.77" y1="537.1" x2="604.77" y2="535.9" stroke="#666" stroke-width="0.5"/>
<line x1="606.28" y1="537.1" x2="606.28" y2="535.9" stroke="#666" stroke-width="0.5"/>
<line x1="607.59" y1="537.1" x2="607.59" y2="535.9" stroke="#666" stroke-width="0.5"/>
<line x1="608.75" y1="537.1" x2="608.75" y2="535.9" stroke="#666" stroke-width="0.5"/>
<text x="585.21" y="547.8" font-size="8.8" text-anchor="middle"><tspan>10</tspan><tspan dy="-3.34" font-size="6.16">7</tspan></text>
<line x1="609.78" y1="537.1" x2="609.78" y2="534.7" stroke="#666" stroke-width="0.7"/>
<line x1="616.57" y1="537.1" x2="616.57" y2="535.9" stroke="#666" stroke-width="0.5"/>
<line x1="620.55" y1="537.1" x2="620.55" y2="535.9" stroke="#666" stroke-width="0.5"/>
<line x1="623.37" y1="537.1" x2="623.37" y2="535.9" stroke="#666" stroke-width="0.5"/>
<line x1="625.56" y1="537.1" x2="625.56" y2="535.9" stroke="#666" stroke-width="0.5"/>
<line x1="627.34" y1="537.1" x2="627.34" y2="535.9" stroke="#666" stroke-width="0.5"/>
<line x1="628.85" y1="537.1" x2="628.85" y2="535.9" stroke="#666" stroke-width="0.5"/>
<line x1="630.16" y1="537.1" x2="630.16" y2="535.9" stroke="#666" stroke-width="0.5"/>
<line x1="631.32" y1="537.1" x2="631.32" y2="535.9" stroke="#666" stroke-width="0.5"/>
<text x="607.78" y="547.8" font-size="8.8" text-anchor="middle"><tspan>10</tspan><tspan dy="-3.34" font-size="6.16">8</tspan></text>
<line x1="632.35" y1="537.1" x2="632.35" y2="534.7" stroke="#666" stroke-width="0.7"/>
<line x1="639.14" y1="537.1" x2="639.14" y2="535.9" stroke="#666" stroke-width="0.5"/>
<line x1="643.12" y1="537.1" x2="643.12" y2="535.9" stroke="#666" stroke-width="0.5"/>
<line x1="645.94" y1="537.1" x2="645.94" y2="535.9" stroke="#666" stroke-width="0.5"/>
<line x1="648.13" y1="537.1" x2="648.13" y2="535.9" stroke="#666" stroke-width="0.5"/>
<line x1="649.91" y1="537.1" x2="649.91" y2="535.9" stroke="#666" stroke-width="0.5"/>
<line x1="651.42" y1="537.1" x2="651.42" y2="535.9" stroke="#666" stroke-width="0.5"/>
<line x1="652.73" y1="537.1" x2="652.73" y2="535.9" stroke="#666" stroke-width="0.5"/>
<line x1="653.89" y1="537.1" x2="653.89" y2="535.9" stroke="#666" stroke-width="0.5"/>
<text x="630.35" y="547.8" font-size="8.8" text-anchor="middle"><tspan>10</tspan><tspan dy="-3.34" font-size="6.16">9</tspan></text>
<line x1="654.92" y1="537.1" x2="654.92" y2="534.7" stroke="#666" stroke-width="0.7"/>
<line x1="661.71" y1="537.1" x2="661.71" y2="535.9" stroke="#666" stroke-width="0.5"/>
<line x1="665.69" y1="537.1" x2="665.69" y2="535.9" stroke="#666" stroke-width="0.5"/>
<line x1="668.51" y1="537.1" x2="668.51" y2="535.9" stroke="#666" stroke-width="0.5"/>
<line x1="670.7" y1="537.1" x2="670.7" y2="535.9" stroke="#666" stroke-width="0.5"/>
<line x1="672.48" y1="537.1" x2="672.48" y2="535.9" stroke="#666" stroke-width="0.5"/>
<line x1="673.99" y1="537.1" x2="673.99" y2="535.9" stroke="#666" stroke-width="0.5"/>
<line x1="675.3" y1="537.1" x2="675.3" y2="535.9" stroke="#666" stroke-width="0.5"/>
<line x1="676.46" y1="537.1" x2="676.46" y2="535.9" stroke="#666" stroke-width="0.5"/>
<text x="652.92" y="547.8" font-size="8.8" text-anchor="middle"><tspan>10</tspan><tspan dy="-3.34" font-size="6.16">10</tspan></text>
<line x1="677.49" y1="537.1" x2="677.49" y2="534.7" stroke="#666" stroke-width="0.7"/>
<text x="675.49" y="547.8" font-size="8.8" text-anchor="middle"><tspan>10</tspan><tspan dy="-3.34" font-size="6.16">11</tspan></text>
<line x1="519.5" y1="530.6" x2="521.9" y2="530.6" stroke="#666" stroke-width="0.7"/>
<text x="515.5" y="533.8" font-size="8.8" text-anchor="end"><tspan>10</tspan><tspan dy="-3.34" font-size="6.16">3</tspan></text>
<line x1="519.5" y1="516" x2="521.9" y2="516" stroke="#666" stroke-width="0.7"/>
<text x="515.5" y="519.2" font-size="8.8" text-anchor="end"><tspan>10</tspan><tspan dy="-3.34" font-size="6.16">4</tspan></text>
<line x1="519.5" y1="501.4" x2="521.9" y2="501.4" stroke="#666" stroke-width="0.7"/>
<text x="515.5" y="504.6" font-size="8.8" text-anchor="end"><tspan>10</tspan><tspan dy="-3.34" font-size="6.16">5</tspan></text>
<line x1="519.5" y1="486.8" x2="521.9" y2="486.8" stroke="#666" stroke-width="0.7"/>
<text x="515.5" y="490" font-size="8.8" text-anchor="end"><tspan>10</tspan><tspan dy="-3.34" font-size="6.16">6</tspan></text>
<line x1="519.5" y1="472.2" x2="521.9" y2="472.2" stroke="#666" stroke-width="0.7"/>
<text x="515.5" y="475.4" font-size="8.8" text-anchor="end"><tspan>10</tspan><tspan dy="-3.34" font-size="6.16">7</tspan></text>
<line x1="519.5" y1="457.6" x2="521.9" y2="457.6" stroke="#666" stroke-width="0.7"/>
<text x="515.5" y="460.8" font-size="8.8" text-anchor="end"><tspan>10</tspan><tspan dy="-3.34" font-size="6.16">8</tspan></text>
<line x1="519.5" y1="443" x2="521.9" y2="443" stroke="#666" stroke-width="0.7"/>
<text x="515.5" y="446.2" font-size="8.8" text-anchor="end"><tspan>10</tspan><tspan dy="-3.34" font-size="6.16">9</tspan></text>
<line x1="519.5" y1="428.4" x2="521.9" y2="428.4" stroke="#666" stroke-width="0.7"/>
<text x="515.5" y="431.6" font-size="8.8" text-anchor="end"><tspan>10</tspan><tspan dy="-3.34" font-size="6.16">10</tspan></text>
<text x="597.5" y="560" font-size="11.6" text-anchor="middle">Endurance</text>
<text x="500.3" y="480.8" font-size="11.6" text-anchor="middle" transform="rotate(-90 500.3 480.8)">Start to fatigue</text>
<circle cx="542.3" cy="505.7" r="4.9" fill="#fff" stroke="#3a70b8" stroke-width="1.6"/>
<text x="544.7" y="498.2" font-size="9.2" text-anchor="middle" fill="#3a6cb4" font-weight="bold">Bare HZO</text>
<text x="542.8" y="517.8" font-size="6.1" text-anchor="middle" fill="#3a6cb4">(Breakdown)</text>
<circle cx="654.4" cy="504.9" r="5.9" fill="#f58c50"/>
<text x="646.2" y="494.9" font-size="9.2" text-anchor="middle" fill="#f58c50" font-weight="bold"><tspan>ZrO</tspan><tspan dy="2.58" font-size="6.62">2</tspan><tspan dy="-2.58"> capping</tspan></text>
<circle cx="616.9" cy="529.8" r="5.9" fill="#90c0e0"/>
<text x="619.2" y="521" font-size="9.2" text-anchor="middle" fill="#90c0e0" font-weight="bold"><tspan>Al</tspan><tspan dy="2.58" font-size="6.62">2</tspan><tspan dy="-2.58">O</tspan><tspan dy="2.58" font-size="6.62">3</tspan><tspan dy="-2.58"> capping</tspan></text>
<path d="M662.5 431.4 L664.38 436.61 L669.92 436.79 L665.54 440.19 L667.08 445.51 L662.5 442.4 L657.92 445.51 L659.46 440.19 L655.08 436.79 L660.62 436.61Z" fill="#ff1a2a"/>
<text x="623" y="435.9" font-size="9.2" text-anchor="middle" fill="#f03848" font-weight="bold"><tspan>CeO</tspan><tspan dy="2.58" font-size="6.62">2-</tspan><tspan font-size="6.62" font-style="italic">x</tspan><tspan dy="-2.58"> capping</tspan></text>
</svg>
</body></html>
